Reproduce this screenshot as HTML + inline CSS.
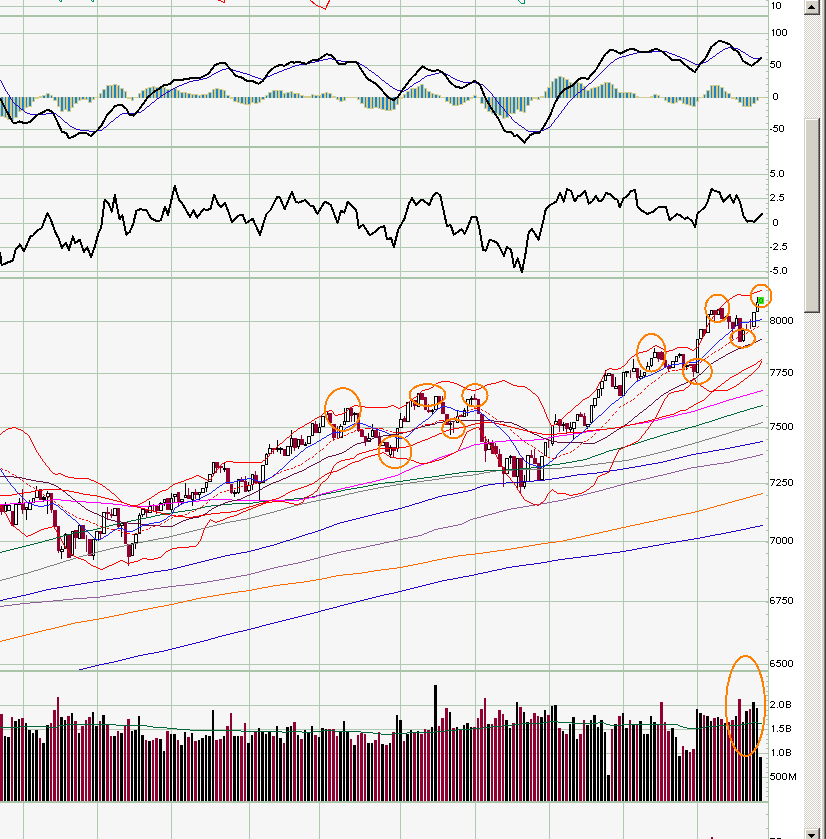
<!DOCTYPE html><html><head><meta charset="utf-8"><title>chart</title><style>html,body{margin:0;padding:0;background:#fff}body{width:826px;height:839px;overflow:hidden;font-family:"Liberation Sans",sans-serif}svg{display:block}text{font-family:"Liberation Sans",sans-serif;font-size:11px;fill:#000}</style></head><body>
<svg width="826" height="839" viewBox="0 0 826 839">
<defs><pattern id="dz" width="2" height="2" patternUnits="userSpaceOnUse"><rect width="2" height="2" fill="#fff"/><rect x="0" y="0" width="1" height="1" fill="#d4d0c8"/><rect x="1" y="1" width="1" height="1" fill="#d4d0c8"/></pattern>
<clipPath id="cp"><rect x="0" y="0" width="768" height="839"/></clipPath><clipPath id="cpp"><rect x="0" y="279" width="776" height="391"/></clipPath></defs>
<rect width="826" height="839" fill="#fff"/>
<rect x="0" y="0" width="768" height="839" fill="#f6f6f6"/>
<g shape-rendering="crispEdges">
<rect x="23" y="0" width="1" height="839" fill="#b1c8b1"/>
<rect x="97" y="0" width="1" height="839" fill="#b1c8b1"/>
<rect x="171" y="0" width="1" height="839" fill="#b1c8b1"/>
<rect x="249" y="0" width="1" height="839" fill="#b1c8b1"/>
<rect x="319" y="0" width="1" height="839" fill="#b1c8b1"/>
<rect x="400" y="0" width="1" height="839" fill="#b1c8b1"/>
<rect x="475" y="0" width="1" height="839" fill="#b1c8b1"/>
<rect x="549" y="0" width="1" height="839" fill="#b1c8b1"/>
<rect x="623" y="0" width="1" height="839" fill="#b1c8b1"/>
<rect x="697" y="0" width="1" height="839" fill="#b1c8b1"/>
<rect x="0" y="6" width="768" height="1" fill="#b1c8b1"/>
<rect x="0" y="33" width="768" height="1" fill="#b1c8b1"/>
<rect x="0" y="65" width="768" height="1" fill="#b1c8b1"/>
<rect x="0" y="129" width="768" height="1" fill="#b1c8b1"/>
<rect x="0" y="174" width="768" height="1" fill="#b1c8b1"/>
<rect x="0" y="198" width="768" height="1" fill="#b1c8b1"/>
<rect x="0" y="223" width="768" height="1" fill="#b1c8b1"/>
<rect x="0" y="247" width="768" height="1" fill="#b1c8b1"/>
<rect x="0" y="271" width="768" height="1" fill="#b1c8b1"/>
<rect x="0" y="321" width="768" height="1" fill="#b1c8b1"/>
<rect x="0" y="373" width="768" height="1" fill="#b1c8b1"/>
<rect x="0" y="427" width="768" height="1" fill="#b1c8b1"/>
<rect x="0" y="483" width="768" height="1" fill="#b1c8b1"/>
<rect x="0" y="541" width="768" height="1" fill="#b1c8b1"/>
<rect x="0" y="601" width="768" height="1" fill="#b1c8b1"/>
<rect x="0" y="664" width="768" height="1" fill="#b1c8b1"/>
<rect x="0" y="705" width="768" height="1" fill="#b1c8b1"/>
<rect x="0" y="729" width="768" height="1" fill="#b1c8b1"/>
<rect x="0" y="753" width="768" height="1" fill="#b1c8b1"/>
<rect x="0" y="777" width="768" height="1" fill="#b1c8b1"/>
<rect x="0" y="15" width="768" height="2" fill="#a9c4a9"/>
<rect x="0" y="146" width="768" height="2" fill="#a9c4a9"/>
<rect x="0" y="277" width="768" height="2" fill="#a9c4a9"/>
<rect x="0" y="670" width="768" height="2" fill="#a9c4a9"/>
<rect x="0" y="801" width="768" height="2" fill="#a9c4a9"/>
<rect x="0" y="97" width="768" height="1" fill="#b1c8b1"/>
<rect x="768" y="0" width="1" height="839" fill="#a9c4a9"/>
<rect x="766" y="39" width="2" height="1" fill="#a9c4a9"/>
<rect x="766" y="46" width="2" height="1" fill="#a9c4a9"/>
<rect x="766" y="52" width="2" height="1" fill="#a9c4a9"/>
<rect x="766" y="59" width="2" height="1" fill="#a9c4a9"/>
<rect x="766" y="65" width="2" height="1" fill="#a9c4a9"/>
<rect x="766" y="71" width="2" height="1" fill="#a9c4a9"/>
<rect x="766" y="78" width="2" height="1" fill="#a9c4a9"/>
<rect x="766" y="84" width="2" height="1" fill="#a9c4a9"/>
<rect x="766" y="91" width="2" height="1" fill="#a9c4a9"/>
<rect x="766" y="97" width="2" height="1" fill="#a9c4a9"/>
<rect x="766" y="103" width="2" height="1" fill="#a9c4a9"/>
<rect x="766" y="110" width="2" height="1" fill="#a9c4a9"/>
<rect x="766" y="116" width="2" height="1" fill="#a9c4a9"/>
<rect x="766" y="123" width="2" height="1" fill="#a9c4a9"/>
<rect x="766" y="129" width="2" height="1" fill="#a9c4a9"/>
<rect x="766" y="135" width="2" height="1" fill="#a9c4a9"/>
<rect x="766" y="142" width="2" height="1" fill="#a9c4a9"/>
<rect x="766" y="159" width="2" height="1" fill="#a9c4a9"/>
<rect x="766" y="164" width="2" height="1" fill="#a9c4a9"/>
<rect x="766" y="169" width="2" height="1" fill="#a9c4a9"/>
<rect x="766" y="174" width="2" height="1" fill="#a9c4a9"/>
<rect x="766" y="179" width="2" height="1" fill="#a9c4a9"/>
<rect x="766" y="184" width="2" height="1" fill="#a9c4a9"/>
<rect x="766" y="189" width="2" height="1" fill="#a9c4a9"/>
<rect x="766" y="194" width="2" height="1" fill="#a9c4a9"/>
<rect x="766" y="198" width="2" height="1" fill="#a9c4a9"/>
<rect x="766" y="203" width="2" height="1" fill="#a9c4a9"/>
<rect x="766" y="208" width="2" height="1" fill="#a9c4a9"/>
<rect x="766" y="213" width="2" height="1" fill="#a9c4a9"/>
<rect x="766" y="218" width="2" height="1" fill="#a9c4a9"/>
<rect x="766" y="223" width="2" height="1" fill="#a9c4a9"/>
<rect x="766" y="228" width="2" height="1" fill="#a9c4a9"/>
<rect x="766" y="233" width="2" height="1" fill="#a9c4a9"/>
<rect x="766" y="237" width="2" height="1" fill="#a9c4a9"/>
<rect x="766" y="242" width="2" height="1" fill="#a9c4a9"/>
<rect x="766" y="247" width="2" height="1" fill="#a9c4a9"/>
<rect x="766" y="252" width="2" height="1" fill="#a9c4a9"/>
<rect x="766" y="257" width="2" height="1" fill="#a9c4a9"/>
<rect x="766" y="262" width="2" height="1" fill="#a9c4a9"/>
<rect x="766" y="267" width="2" height="1" fill="#a9c4a9"/>
<rect x="766" y="272" width="2" height="1" fill="#a9c4a9"/>
<rect x="766" y="664" width="2" height="1" fill="#a9c4a9"/>
<rect x="766" y="651" width="2" height="1" fill="#a9c4a9"/>
<rect x="766" y="639" width="2" height="1" fill="#a9c4a9"/>
<rect x="766" y="626" width="2" height="1" fill="#a9c4a9"/>
<rect x="766" y="614" width="2" height="1" fill="#a9c4a9"/>
<rect x="766" y="602" width="2" height="1" fill="#a9c4a9"/>
<rect x="766" y="589" width="2" height="1" fill="#a9c4a9"/>
<rect x="766" y="577" width="2" height="1" fill="#a9c4a9"/>
<rect x="766" y="565" width="2" height="1" fill="#a9c4a9"/>
<rect x="766" y="553" width="2" height="1" fill="#a9c4a9"/>
<rect x="766" y="542" width="2" height="1" fill="#a9c4a9"/>
<rect x="766" y="530" width="2" height="1" fill="#a9c4a9"/>
<rect x="766" y="518" width="2" height="1" fill="#a9c4a9"/>
<rect x="766" y="507" width="2" height="1" fill="#a9c4a9"/>
<rect x="766" y="495" width="2" height="1" fill="#a9c4a9"/>
<rect x="766" y="484" width="2" height="1" fill="#a9c4a9"/>
<rect x="766" y="472" width="2" height="1" fill="#a9c4a9"/>
<rect x="766" y="461" width="2" height="1" fill="#a9c4a9"/>
<rect x="766" y="450" width="2" height="1" fill="#a9c4a9"/>
<rect x="766" y="439" width="2" height="1" fill="#a9c4a9"/>
<rect x="766" y="428" width="2" height="1" fill="#a9c4a9"/>
<rect x="766" y="417" width="2" height="1" fill="#a9c4a9"/>
<rect x="766" y="406" width="2" height="1" fill="#a9c4a9"/>
<rect x="766" y="395" width="2" height="1" fill="#a9c4a9"/>
<rect x="766" y="384" width="2" height="1" fill="#a9c4a9"/>
<rect x="766" y="373" width="2" height="1" fill="#a9c4a9"/>
<rect x="766" y="363" width="2" height="1" fill="#a9c4a9"/>
<rect x="766" y="352" width="2" height="1" fill="#a9c4a9"/>
<rect x="766" y="342" width="2" height="1" fill="#a9c4a9"/>
<rect x="766" y="331" width="2" height="1" fill="#a9c4a9"/>
<rect x="766" y="321" width="2" height="1" fill="#a9c4a9"/>
<rect x="766" y="311" width="2" height="1" fill="#a9c4a9"/>
<rect x="766" y="300" width="2" height="1" fill="#a9c4a9"/>
<rect x="766" y="290" width="2" height="1" fill="#a9c4a9"/>
<rect x="766" y="796" width="2" height="1" fill="#a9c4a9"/>
<rect x="766" y="791" width="2" height="1" fill="#a9c4a9"/>
<rect x="766" y="787" width="2" height="1" fill="#a9c4a9"/>
<rect x="766" y="782" width="2" height="1" fill="#a9c4a9"/>
<rect x="766" y="777" width="2" height="1" fill="#a9c4a9"/>
<rect x="766" y="772" width="2" height="1" fill="#a9c4a9"/>
<rect x="766" y="767" width="2" height="1" fill="#a9c4a9"/>
<rect x="766" y="763" width="2" height="1" fill="#a9c4a9"/>
<rect x="766" y="758" width="2" height="1" fill="#a9c4a9"/>
<rect x="766" y="753" width="2" height="1" fill="#a9c4a9"/>
<rect x="766" y="748" width="2" height="1" fill="#a9c4a9"/>
<rect x="766" y="743" width="2" height="1" fill="#a9c4a9"/>
<rect x="766" y="739" width="2" height="1" fill="#a9c4a9"/>
<rect x="766" y="734" width="2" height="1" fill="#a9c4a9"/>
<rect x="766" y="729" width="2" height="1" fill="#a9c4a9"/>
<rect x="766" y="724" width="2" height="1" fill="#a9c4a9"/>
<rect x="766" y="719" width="2" height="1" fill="#a9c4a9"/>
<rect x="766" y="715" width="2" height="1" fill="#a9c4a9"/>
<rect x="766" y="710" width="2" height="1" fill="#a9c4a9"/>
<rect x="766" y="705" width="2" height="1" fill="#a9c4a9"/>
<rect x="766" y="700" width="2" height="1" fill="#a9c4a9"/>
<rect x="766" y="695" width="2" height="1" fill="#a9c4a9"/>
<rect x="766" y="691" width="2" height="1" fill="#a9c4a9"/>
<rect x="766" y="686" width="2" height="1" fill="#a9c4a9"/>
<rect x="766" y="681" width="2" height="1" fill="#a9c4a9"/>
<rect x="766" y="676" width="2" height="1" fill="#a9c4a9"/>
<rect x="766" y="814" width="2" height="1" fill="#a9c4a9"/>
<rect x="766" y="828" width="2" height="1" fill="#a9c4a9"/>
<rect x="766" y="0" width="2" height="1" fill="#a9c4a9"/>
</g>
<g fill="none" stroke-width="1" shape-rendering="crispEdges">
<polyline points="59,0 61,2 62,0" stroke="#009060"/><polyline points="91,0 93,2 94,0" stroke="#009060"/>
<polyline points="218,0 224.5,2.5 225,0" stroke="#f00"/>
<polyline points="310,0 316,5 325.4,9 329.7,0" stroke="#f00"/>
<polyline points="518,0 521,3 524,4 525,0" stroke="#009060"/>
</g>
<g shape-rendering="crispEdges">
<rect x="0" y="97" width="4" height="20" fill="#d3cd8f"/>
<rect x="1" y="97" width="2" height="19" fill="#1e84cc"/>
<rect x="4" y="97" width="3" height="21" fill="#d3cd8f"/>
<rect x="5" y="97" width="1" height="20" fill="#1e84cc"/>
<rect x="7" y="97" width="4" height="23" fill="#d3cd8f"/>
<rect x="8" y="97" width="2" height="22" fill="#1e84cc"/>
<rect x="11" y="97" width="3" height="24" fill="#d3cd8f"/>
<rect x="12" y="97" width="1" height="23" fill="#1e84cc"/>
<rect x="14" y="97" width="4" height="21" fill="#d3cd8f"/>
<rect x="15" y="97" width="2" height="20" fill="#1e84cc"/>
<rect x="18" y="97" width="3" height="15" fill="#d3cd8f"/>
<rect x="19" y="97" width="1" height="14" fill="#1e84cc"/>
<rect x="21" y="97" width="4" height="14" fill="#d3cd8f"/>
<rect x="22" y="97" width="2" height="13" fill="#1e84cc"/>
<rect x="25" y="97" width="3" height="11" fill="#d3cd8f"/>
<rect x="26" y="97" width="1" height="10" fill="#1e84cc"/>
<rect x="28" y="97" width="4" height="10" fill="#d3cd8f"/>
<rect x="29" y="97" width="2" height="9" fill="#1e84cc"/>
<rect x="32" y="97" width="3" height="5" fill="#d3cd8f"/>
<rect x="33" y="97" width="1" height="4" fill="#1e84cc"/>
<rect x="35" y="97" width="4" height="2" fill="#d3cd8f"/>
<rect x="39" y="96" width="3" height="2" fill="#d3cd8f"/>
<rect x="42" y="95" width="4" height="3" fill="#d3cd8f"/>
<rect x="43" y="96" width="2" height="2" fill="#1e84cc"/>
<rect x="46" y="93" width="4" height="5" fill="#d3cd8f"/>
<rect x="47" y="94" width="2" height="4" fill="#1e84cc"/>
<rect x="50" y="95" width="3" height="3" fill="#d3cd8f"/>
<rect x="51" y="96" width="1" height="2" fill="#1e84cc"/>
<rect x="53" y="97" width="4" height="4" fill="#d3cd8f"/>
<rect x="54" y="97" width="2" height="3" fill="#1e84cc"/>
<rect x="57" y="97" width="3" height="10" fill="#d3cd8f"/>
<rect x="58" y="97" width="1" height="9" fill="#1e84cc"/>
<rect x="60" y="97" width="4" height="15" fill="#d3cd8f"/>
<rect x="61" y="97" width="2" height="14" fill="#1e84cc"/>
<rect x="64" y="97" width="3" height="13" fill="#d3cd8f"/>
<rect x="65" y="97" width="1" height="12" fill="#1e84cc"/>
<rect x="67" y="97" width="4" height="15" fill="#d3cd8f"/>
<rect x="68" y="97" width="2" height="14" fill="#1e84cc"/>
<rect x="71" y="97" width="3" height="11" fill="#d3cd8f"/>
<rect x="72" y="97" width="1" height="10" fill="#1e84cc"/>
<rect x="74" y="97" width="4" height="7" fill="#d3cd8f"/>
<rect x="75" y="97" width="2" height="6" fill="#1e84cc"/>
<rect x="78" y="97" width="3" height="4" fill="#d3cd8f"/>
<rect x="79" y="97" width="1" height="3" fill="#1e84cc"/>
<rect x="81" y="97" width="4" height="3" fill="#d3cd8f"/>
<rect x="82" y="97" width="2" height="2" fill="#1e84cc"/>
<rect x="85" y="97" width="3" height="3" fill="#d3cd8f"/>
<rect x="86" y="97" width="1" height="2" fill="#1e84cc"/>
<rect x="88" y="97" width="4" height="6" fill="#d3cd8f"/>
<rect x="89" y="97" width="2" height="5" fill="#1e84cc"/>
<rect x="92" y="97" width="3" height="3" fill="#d3cd8f"/>
<rect x="93" y="97" width="1" height="2" fill="#1e84cc"/>
<rect x="95" y="97" width="4" height="1" fill="#d3cd8f"/>
<rect x="99" y="93" width="3" height="5" fill="#d3cd8f"/>
<rect x="100" y="94" width="1" height="4" fill="#1e84cc"/>
<rect x="102" y="89" width="4" height="9" fill="#d3cd8f"/>
<rect x="103" y="90" width="2" height="8" fill="#1e84cc"/>
<rect x="106" y="85" width="4" height="13" fill="#d3cd8f"/>
<rect x="107" y="86" width="2" height="12" fill="#1e84cc"/>
<rect x="110" y="85" width="3" height="13" fill="#d3cd8f"/>
<rect x="111" y="86" width="1" height="12" fill="#1e84cc"/>
<rect x="113" y="84" width="4" height="14" fill="#d3cd8f"/>
<rect x="114" y="85" width="2" height="13" fill="#1e84cc"/>
<rect x="117" y="85" width="3" height="13" fill="#d3cd8f"/>
<rect x="118" y="86" width="1" height="12" fill="#1e84cc"/>
<rect x="120" y="88" width="4" height="10" fill="#d3cd8f"/>
<rect x="121" y="89" width="2" height="9" fill="#1e84cc"/>
<rect x="124" y="91" width="3" height="7" fill="#d3cd8f"/>
<rect x="125" y="92" width="1" height="6" fill="#1e84cc"/>
<rect x="127" y="97" width="4" height="2" fill="#d3cd8f"/>
<rect x="131" y="97" width="3" height="4" fill="#d3cd8f"/>
<rect x="132" y="97" width="1" height="3" fill="#1e84cc"/>
<rect x="134" y="97" width="4" height="1" fill="#d3cd8f"/>
<rect x="138" y="93" width="3" height="5" fill="#d3cd8f"/>
<rect x="139" y="94" width="1" height="4" fill="#1e84cc"/>
<rect x="141" y="90" width="4" height="8" fill="#d3cd8f"/>
<rect x="142" y="91" width="2" height="7" fill="#1e84cc"/>
<rect x="145" y="88" width="3" height="10" fill="#d3cd8f"/>
<rect x="146" y="89" width="1" height="9" fill="#1e84cc"/>
<rect x="148" y="87" width="4" height="11" fill="#d3cd8f"/>
<rect x="149" y="88" width="2" height="10" fill="#1e84cc"/>
<rect x="152" y="86" width="3" height="12" fill="#d3cd8f"/>
<rect x="153" y="87" width="1" height="11" fill="#1e84cc"/>
<rect x="155" y="87" width="4" height="11" fill="#d3cd8f"/>
<rect x="156" y="88" width="2" height="10" fill="#1e84cc"/>
<rect x="159" y="87" width="4" height="11" fill="#d3cd8f"/>
<rect x="160" y="88" width="2" height="10" fill="#1e84cc"/>
<rect x="163" y="87" width="3" height="11" fill="#d3cd8f"/>
<rect x="164" y="88" width="1" height="10" fill="#1e84cc"/>
<rect x="166" y="89" width="4" height="9" fill="#d3cd8f"/>
<rect x="167" y="90" width="2" height="8" fill="#1e84cc"/>
<rect x="170" y="89" width="3" height="9" fill="#d3cd8f"/>
<rect x="171" y="90" width="1" height="8" fill="#1e84cc"/>
<rect x="173" y="88" width="4" height="10" fill="#d3cd8f"/>
<rect x="174" y="89" width="2" height="9" fill="#1e84cc"/>
<rect x="177" y="90" width="3" height="8" fill="#d3cd8f"/>
<rect x="178" y="91" width="1" height="7" fill="#1e84cc"/>
<rect x="180" y="92" width="4" height="6" fill="#d3cd8f"/>
<rect x="181" y="93" width="2" height="5" fill="#1e84cc"/>
<rect x="184" y="92" width="3" height="6" fill="#d3cd8f"/>
<rect x="185" y="93" width="1" height="5" fill="#1e84cc"/>
<rect x="187" y="93" width="4" height="5" fill="#d3cd8f"/>
<rect x="188" y="94" width="2" height="4" fill="#1e84cc"/>
<rect x="191" y="94" width="3" height="4" fill="#d3cd8f"/>
<rect x="192" y="95" width="1" height="3" fill="#1e84cc"/>
<rect x="194" y="94" width="4" height="4" fill="#d3cd8f"/>
<rect x="195" y="95" width="2" height="3" fill="#1e84cc"/>
<rect x="198" y="95" width="3" height="3" fill="#d3cd8f"/>
<rect x="199" y="96" width="1" height="2" fill="#1e84cc"/>
<rect x="201" y="94" width="4" height="4" fill="#d3cd8f"/>
<rect x="202" y="95" width="2" height="3" fill="#1e84cc"/>
<rect x="205" y="94" width="3" height="4" fill="#d3cd8f"/>
<rect x="206" y="95" width="1" height="3" fill="#1e84cc"/>
<rect x="208" y="92" width="4" height="6" fill="#d3cd8f"/>
<rect x="209" y="93" width="2" height="5" fill="#1e84cc"/>
<rect x="212" y="89" width="3" height="9" fill="#d3cd8f"/>
<rect x="213" y="90" width="1" height="8" fill="#1e84cc"/>
<rect x="215" y="88" width="4" height="10" fill="#d3cd8f"/>
<rect x="216" y="89" width="2" height="9" fill="#1e84cc"/>
<rect x="219" y="89" width="4" height="9" fill="#d3cd8f"/>
<rect x="220" y="90" width="2" height="8" fill="#1e84cc"/>
<rect x="223" y="90" width="3" height="8" fill="#d3cd8f"/>
<rect x="224" y="91" width="1" height="7" fill="#1e84cc"/>
<rect x="226" y="95" width="4" height="3" fill="#d3cd8f"/>
<rect x="227" y="96" width="2" height="2" fill="#1e84cc"/>
<rect x="230" y="97" width="3" height="2" fill="#d3cd8f"/>
<rect x="233" y="97" width="4" height="5" fill="#d3cd8f"/>
<rect x="234" y="97" width="2" height="4" fill="#1e84cc"/>
<rect x="237" y="97" width="3" height="6" fill="#d3cd8f"/>
<rect x="238" y="97" width="1" height="5" fill="#1e84cc"/>
<rect x="240" y="97" width="4" height="7" fill="#d3cd8f"/>
<rect x="241" y="97" width="2" height="6" fill="#1e84cc"/>
<rect x="244" y="97" width="3" height="8" fill="#d3cd8f"/>
<rect x="245" y="97" width="1" height="7" fill="#1e84cc"/>
<rect x="247" y="97" width="4" height="8" fill="#d3cd8f"/>
<rect x="248" y="97" width="2" height="7" fill="#1e84cc"/>
<rect x="251" y="97" width="3" height="6" fill="#d3cd8f"/>
<rect x="252" y="97" width="1" height="5" fill="#1e84cc"/>
<rect x="254" y="97" width="4" height="7" fill="#d3cd8f"/>
<rect x="255" y="97" width="2" height="6" fill="#1e84cc"/>
<rect x="258" y="97" width="3" height="6" fill="#d3cd8f"/>
<rect x="259" y="97" width="1" height="5" fill="#1e84cc"/>
<rect x="261" y="97" width="4" height="3" fill="#d3cd8f"/>
<rect x="262" y="97" width="2" height="2" fill="#1e84cc"/>
<rect x="265" y="95" width="3" height="3" fill="#d3cd8f"/>
<rect x="266" y="96" width="1" height="2" fill="#1e84cc"/>
<rect x="268" y="92" width="4" height="6" fill="#d3cd8f"/>
<rect x="269" y="93" width="2" height="5" fill="#1e84cc"/>
<rect x="272" y="90" width="4" height="8" fill="#d3cd8f"/>
<rect x="273" y="91" width="2" height="7" fill="#1e84cc"/>
<rect x="276" y="90" width="3" height="8" fill="#d3cd8f"/>
<rect x="277" y="91" width="1" height="7" fill="#1e84cc"/>
<rect x="279" y="90" width="4" height="8" fill="#d3cd8f"/>
<rect x="280" y="91" width="2" height="7" fill="#1e84cc"/>
<rect x="283" y="93" width="3" height="5" fill="#d3cd8f"/>
<rect x="284" y="94" width="1" height="4" fill="#1e84cc"/>
<rect x="286" y="92" width="4" height="6" fill="#d3cd8f"/>
<rect x="287" y="93" width="2" height="5" fill="#1e84cc"/>
<rect x="290" y="91" width="3" height="7" fill="#d3cd8f"/>
<rect x="291" y="92" width="1" height="6" fill="#1e84cc"/>
<rect x="293" y="93" width="4" height="5" fill="#d3cd8f"/>
<rect x="294" y="94" width="2" height="4" fill="#1e84cc"/>
<rect x="297" y="93" width="3" height="5" fill="#d3cd8f"/>
<rect x="298" y="94" width="1" height="4" fill="#1e84cc"/>
<rect x="300" y="95" width="4" height="3" fill="#d3cd8f"/>
<rect x="301" y="96" width="2" height="2" fill="#1e84cc"/>
<rect x="304" y="96" width="3" height="2" fill="#d3cd8f"/>
<rect x="307" y="96" width="4" height="2" fill="#d3cd8f"/>
<rect x="311" y="94" width="3" height="4" fill="#d3cd8f"/>
<rect x="312" y="95" width="1" height="3" fill="#1e84cc"/>
<rect x="314" y="95" width="4" height="3" fill="#d3cd8f"/>
<rect x="315" y="96" width="2" height="2" fill="#1e84cc"/>
<rect x="318" y="95" width="3" height="3" fill="#d3cd8f"/>
<rect x="319" y="96" width="1" height="2" fill="#1e84cc"/>
<rect x="321" y="93" width="4" height="5" fill="#d3cd8f"/>
<rect x="322" y="94" width="2" height="4" fill="#1e84cc"/>
<rect x="325" y="92" width="3" height="6" fill="#d3cd8f"/>
<rect x="326" y="93" width="1" height="5" fill="#1e84cc"/>
<rect x="328" y="93" width="4" height="5" fill="#d3cd8f"/>
<rect x="329" y="94" width="2" height="4" fill="#1e84cc"/>
<rect x="332" y="96" width="4" height="2" fill="#d3cd8f"/>
<rect x="336" y="97" width="3" height="3" fill="#d3cd8f"/>
<rect x="337" y="97" width="1" height="2" fill="#1e84cc"/>
<rect x="339" y="97" width="4" height="5" fill="#d3cd8f"/>
<rect x="340" y="97" width="2" height="4" fill="#1e84cc"/>
<rect x="343" y="97" width="3" height="4" fill="#d3cd8f"/>
<rect x="344" y="97" width="1" height="3" fill="#1e84cc"/>
<rect x="346" y="97" width="4" height="1" fill="#d3cd8f"/>
<rect x="350" y="97" width="3" height="1" fill="#d3cd8f"/>
<rect x="353" y="97" width="4" height="1" fill="#d3cd8f"/>
<rect x="357" y="97" width="3" height="3" fill="#d3cd8f"/>
<rect x="358" y="97" width="1" height="2" fill="#1e84cc"/>
<rect x="360" y="97" width="4" height="7" fill="#d3cd8f"/>
<rect x="361" y="97" width="2" height="6" fill="#1e84cc"/>
<rect x="364" y="97" width="3" height="11" fill="#d3cd8f"/>
<rect x="365" y="97" width="1" height="10" fill="#1e84cc"/>
<rect x="367" y="97" width="4" height="12" fill="#d3cd8f"/>
<rect x="368" y="97" width="2" height="11" fill="#1e84cc"/>
<rect x="371" y="97" width="3" height="12" fill="#d3cd8f"/>
<rect x="372" y="97" width="1" height="11" fill="#1e84cc"/>
<rect x="374" y="97" width="4" height="11" fill="#d3cd8f"/>
<rect x="375" y="97" width="2" height="10" fill="#1e84cc"/>
<rect x="378" y="97" width="3" height="12" fill="#d3cd8f"/>
<rect x="379" y="97" width="1" height="11" fill="#1e84cc"/>
<rect x="381" y="97" width="4" height="13" fill="#d3cd8f"/>
<rect x="382" y="97" width="2" height="12" fill="#1e84cc"/>
<rect x="385" y="97" width="4" height="14" fill="#d3cd8f"/>
<rect x="386" y="97" width="2" height="13" fill="#1e84cc"/>
<rect x="389" y="97" width="3" height="14" fill="#d3cd8f"/>
<rect x="390" y="97" width="1" height="13" fill="#1e84cc"/>
<rect x="392" y="97" width="4" height="13" fill="#d3cd8f"/>
<rect x="393" y="97" width="2" height="12" fill="#1e84cc"/>
<rect x="396" y="97" width="3" height="8" fill="#d3cd8f"/>
<rect x="397" y="97" width="1" height="7" fill="#1e84cc"/>
<rect x="399" y="97" width="4" height="2" fill="#d3cd8f"/>
<rect x="403" y="94" width="3" height="4" fill="#d3cd8f"/>
<rect x="404" y="95" width="1" height="3" fill="#1e84cc"/>
<rect x="406" y="91" width="4" height="7" fill="#d3cd8f"/>
<rect x="407" y="92" width="2" height="6" fill="#1e84cc"/>
<rect x="410" y="88" width="3" height="10" fill="#d3cd8f"/>
<rect x="411" y="89" width="1" height="9" fill="#1e84cc"/>
<rect x="413" y="88" width="4" height="10" fill="#d3cd8f"/>
<rect x="414" y="89" width="2" height="9" fill="#1e84cc"/>
<rect x="417" y="86" width="3" height="12" fill="#d3cd8f"/>
<rect x="418" y="87" width="1" height="11" fill="#1e84cc"/>
<rect x="420" y="84" width="4" height="14" fill="#d3cd8f"/>
<rect x="421" y="85" width="2" height="13" fill="#1e84cc"/>
<rect x="424" y="88" width="3" height="10" fill="#d3cd8f"/>
<rect x="425" y="89" width="1" height="9" fill="#1e84cc"/>
<rect x="427" y="91" width="4" height="7" fill="#d3cd8f"/>
<rect x="428" y="92" width="2" height="6" fill="#1e84cc"/>
<rect x="431" y="93" width="3" height="5" fill="#d3cd8f"/>
<rect x="432" y="94" width="1" height="4" fill="#1e84cc"/>
<rect x="434" y="94" width="4" height="4" fill="#d3cd8f"/>
<rect x="435" y="95" width="2" height="3" fill="#1e84cc"/>
<rect x="438" y="95" width="3" height="3" fill="#d3cd8f"/>
<rect x="439" y="96" width="1" height="2" fill="#1e84cc"/>
<rect x="441" y="97" width="4" height="1" fill="#d3cd8f"/>
<rect x="445" y="97" width="4" height="5" fill="#d3cd8f"/>
<rect x="446" y="97" width="2" height="4" fill="#1e84cc"/>
<rect x="449" y="97" width="3" height="7" fill="#d3cd8f"/>
<rect x="450" y="97" width="1" height="6" fill="#1e84cc"/>
<rect x="452" y="97" width="4" height="9" fill="#d3cd8f"/>
<rect x="453" y="97" width="2" height="8" fill="#1e84cc"/>
<rect x="456" y="97" width="3" height="9" fill="#d3cd8f"/>
<rect x="457" y="97" width="1" height="8" fill="#1e84cc"/>
<rect x="459" y="97" width="4" height="8" fill="#d3cd8f"/>
<rect x="460" y="97" width="2" height="7" fill="#1e84cc"/>
<rect x="463" y="97" width="3" height="6" fill="#d3cd8f"/>
<rect x="464" y="97" width="1" height="5" fill="#1e84cc"/>
<rect x="466" y="97" width="4" height="4" fill="#d3cd8f"/>
<rect x="467" y="97" width="2" height="3" fill="#1e84cc"/>
<rect x="470" y="97" width="3" height="2" fill="#d3cd8f"/>
<rect x="473" y="95" width="4" height="3" fill="#d3cd8f"/>
<rect x="474" y="96" width="2" height="2" fill="#1e84cc"/>
<rect x="477" y="97" width="3" height="1" fill="#d3cd8f"/>
<rect x="480" y="97" width="4" height="7" fill="#d3cd8f"/>
<rect x="481" y="97" width="2" height="6" fill="#1e84cc"/>
<rect x="484" y="97" width="3" height="12" fill="#d3cd8f"/>
<rect x="485" y="97" width="1" height="11" fill="#1e84cc"/>
<rect x="487" y="97" width="4" height="15" fill="#d3cd8f"/>
<rect x="488" y="97" width="2" height="14" fill="#1e84cc"/>
<rect x="491" y="97" width="3" height="17" fill="#d3cd8f"/>
<rect x="492" y="97" width="1" height="16" fill="#1e84cc"/>
<rect x="494" y="97" width="4" height="17" fill="#d3cd8f"/>
<rect x="495" y="97" width="2" height="16" fill="#1e84cc"/>
<rect x="498" y="97" width="4" height="19" fill="#d3cd8f"/>
<rect x="499" y="97" width="2" height="18" fill="#1e84cc"/>
<rect x="502" y="97" width="3" height="22" fill="#d3cd8f"/>
<rect x="503" y="97" width="1" height="21" fill="#1e84cc"/>
<rect x="505" y="97" width="4" height="21" fill="#d3cd8f"/>
<rect x="506" y="97" width="2" height="20" fill="#1e84cc"/>
<rect x="509" y="97" width="3" height="17" fill="#d3cd8f"/>
<rect x="510" y="97" width="1" height="16" fill="#1e84cc"/>
<rect x="512" y="97" width="4" height="17" fill="#d3cd8f"/>
<rect x="513" y="97" width="2" height="16" fill="#1e84cc"/>
<rect x="516" y="97" width="3" height="13" fill="#d3cd8f"/>
<rect x="517" y="97" width="1" height="12" fill="#1e84cc"/>
<rect x="519" y="97" width="4" height="15" fill="#d3cd8f"/>
<rect x="520" y="97" width="2" height="14" fill="#1e84cc"/>
<rect x="523" y="97" width="3" height="16" fill="#d3cd8f"/>
<rect x="524" y="97" width="1" height="15" fill="#1e84cc"/>
<rect x="526" y="97" width="4" height="9" fill="#d3cd8f"/>
<rect x="527" y="97" width="2" height="8" fill="#1e84cc"/>
<rect x="530" y="97" width="3" height="4" fill="#d3cd8f"/>
<rect x="531" y="97" width="1" height="3" fill="#1e84cc"/>
<rect x="533" y="97" width="4" height="2" fill="#d3cd8f"/>
<rect x="537" y="97" width="3" height="3" fill="#d3cd8f"/>
<rect x="538" y="97" width="1" height="2" fill="#1e84cc"/>
<rect x="540" y="96" width="4" height="2" fill="#d3cd8f"/>
<rect x="544" y="91" width="3" height="7" fill="#d3cd8f"/>
<rect x="545" y="92" width="1" height="6" fill="#1e84cc"/>
<rect x="547" y="87" width="4" height="11" fill="#d3cd8f"/>
<rect x="548" y="88" width="2" height="10" fill="#1e84cc"/>
<rect x="551" y="81" width="3" height="17" fill="#d3cd8f"/>
<rect x="552" y="82" width="1" height="16" fill="#1e84cc"/>
<rect x="554" y="78" width="4" height="20" fill="#d3cd8f"/>
<rect x="555" y="79" width="2" height="19" fill="#1e84cc"/>
<rect x="558" y="76" width="4" height="22" fill="#d3cd8f"/>
<rect x="559" y="77" width="2" height="21" fill="#1e84cc"/>
<rect x="562" y="77" width="3" height="21" fill="#d3cd8f"/>
<rect x="563" y="78" width="1" height="20" fill="#1e84cc"/>
<rect x="565" y="79" width="4" height="19" fill="#d3cd8f"/>
<rect x="566" y="80" width="2" height="18" fill="#1e84cc"/>
<rect x="569" y="82" width="3" height="16" fill="#d3cd8f"/>
<rect x="570" y="83" width="1" height="15" fill="#1e84cc"/>
<rect x="572" y="83" width="4" height="15" fill="#d3cd8f"/>
<rect x="573" y="84" width="2" height="14" fill="#1e84cc"/>
<rect x="576" y="82" width="3" height="16" fill="#d3cd8f"/>
<rect x="577" y="83" width="1" height="15" fill="#1e84cc"/>
<rect x="579" y="83" width="4" height="15" fill="#d3cd8f"/>
<rect x="580" y="84" width="2" height="14" fill="#1e84cc"/>
<rect x="583" y="86" width="3" height="12" fill="#d3cd8f"/>
<rect x="584" y="87" width="1" height="11" fill="#1e84cc"/>
<rect x="586" y="90" width="4" height="8" fill="#d3cd8f"/>
<rect x="587" y="91" width="2" height="7" fill="#1e84cc"/>
<rect x="590" y="88" width="3" height="10" fill="#d3cd8f"/>
<rect x="591" y="89" width="1" height="9" fill="#1e84cc"/>
<rect x="593" y="87" width="4" height="11" fill="#d3cd8f"/>
<rect x="594" y="88" width="2" height="10" fill="#1e84cc"/>
<rect x="597" y="86" width="3" height="12" fill="#d3cd8f"/>
<rect x="598" y="87" width="1" height="11" fill="#1e84cc"/>
<rect x="600" y="84" width="4" height="14" fill="#d3cd8f"/>
<rect x="601" y="85" width="2" height="13" fill="#1e84cc"/>
<rect x="604" y="82" width="3" height="16" fill="#d3cd8f"/>
<rect x="605" y="83" width="1" height="15" fill="#1e84cc"/>
<rect x="607" y="82" width="4" height="16" fill="#d3cd8f"/>
<rect x="608" y="83" width="2" height="15" fill="#1e84cc"/>
<rect x="611" y="84" width="3" height="14" fill="#d3cd8f"/>
<rect x="612" y="85" width="1" height="13" fill="#1e84cc"/>
<rect x="614" y="88" width="4" height="10" fill="#d3cd8f"/>
<rect x="615" y="89" width="2" height="9" fill="#1e84cc"/>
<rect x="618" y="92" width="4" height="6" fill="#d3cd8f"/>
<rect x="619" y="93" width="2" height="5" fill="#1e84cc"/>
<rect x="622" y="92" width="3" height="6" fill="#d3cd8f"/>
<rect x="623" y="93" width="1" height="5" fill="#1e84cc"/>
<rect x="625" y="92" width="4" height="6" fill="#d3cd8f"/>
<rect x="626" y="93" width="2" height="5" fill="#1e84cc"/>
<rect x="629" y="92" width="3" height="6" fill="#d3cd8f"/>
<rect x="630" y="93" width="1" height="5" fill="#1e84cc"/>
<rect x="632" y="93" width="4" height="5" fill="#d3cd8f"/>
<rect x="633" y="94" width="2" height="4" fill="#1e84cc"/>
<rect x="636" y="96" width="3" height="2" fill="#d3cd8f"/>
<rect x="639" y="97" width="4" height="1" fill="#d3cd8f"/>
<rect x="643" y="97" width="3" height="1" fill="#d3cd8f"/>
<rect x="646" y="97" width="4" height="1" fill="#d3cd8f"/>
<rect x="650" y="96" width="3" height="2" fill="#d3cd8f"/>
<rect x="653" y="94" width="4" height="4" fill="#d3cd8f"/>
<rect x="654" y="95" width="2" height="3" fill="#1e84cc"/>
<rect x="657" y="95" width="3" height="3" fill="#d3cd8f"/>
<rect x="658" y="96" width="1" height="2" fill="#1e84cc"/>
<rect x="660" y="97" width="4" height="1" fill="#d3cd8f"/>
<rect x="664" y="97" width="3" height="4" fill="#d3cd8f"/>
<rect x="665" y="97" width="1" height="3" fill="#1e84cc"/>
<rect x="667" y="97" width="4" height="6" fill="#d3cd8f"/>
<rect x="668" y="97" width="2" height="5" fill="#1e84cc"/>
<rect x="671" y="97" width="4" height="7" fill="#d3cd8f"/>
<rect x="672" y="97" width="2" height="6" fill="#1e84cc"/>
<rect x="675" y="97" width="3" height="6" fill="#d3cd8f"/>
<rect x="676" y="97" width="1" height="5" fill="#1e84cc"/>
<rect x="678" y="97" width="4" height="4" fill="#d3cd8f"/>
<rect x="679" y="97" width="2" height="3" fill="#1e84cc"/>
<rect x="682" y="97" width="3" height="7" fill="#d3cd8f"/>
<rect x="683" y="97" width="1" height="6" fill="#1e84cc"/>
<rect x="685" y="97" width="4" height="8" fill="#d3cd8f"/>
<rect x="686" y="97" width="2" height="7" fill="#1e84cc"/>
<rect x="689" y="97" width="3" height="9" fill="#d3cd8f"/>
<rect x="690" y="97" width="1" height="8" fill="#1e84cc"/>
<rect x="692" y="97" width="4" height="10" fill="#d3cd8f"/>
<rect x="693" y="97" width="2" height="9" fill="#1e84cc"/>
<rect x="696" y="97" width="3" height="5" fill="#d3cd8f"/>
<rect x="697" y="97" width="1" height="4" fill="#1e84cc"/>
<rect x="699" y="97" width="4" height="1" fill="#d3cd8f"/>
<rect x="703" y="94" width="3" height="4" fill="#d3cd8f"/>
<rect x="704" y="95" width="1" height="3" fill="#1e84cc"/>
<rect x="706" y="90" width="4" height="8" fill="#d3cd8f"/>
<rect x="707" y="91" width="2" height="7" fill="#1e84cc"/>
<rect x="710" y="85" width="3" height="13" fill="#d3cd8f"/>
<rect x="711" y="86" width="1" height="12" fill="#1e84cc"/>
<rect x="713" y="85" width="4" height="13" fill="#d3cd8f"/>
<rect x="714" y="86" width="2" height="12" fill="#1e84cc"/>
<rect x="717" y="85" width="3" height="13" fill="#d3cd8f"/>
<rect x="718" y="86" width="1" height="12" fill="#1e84cc"/>
<rect x="720" y="87" width="4" height="11" fill="#d3cd8f"/>
<rect x="721" y="88" width="2" height="10" fill="#1e84cc"/>
<rect x="724" y="91" width="3" height="7" fill="#d3cd8f"/>
<rect x="725" y="92" width="1" height="6" fill="#1e84cc"/>
<rect x="727" y="93" width="4" height="5" fill="#d3cd8f"/>
<rect x="728" y="94" width="2" height="4" fill="#1e84cc"/>
<rect x="731" y="97" width="4" height="2" fill="#d3cd8f"/>
<rect x="735" y="97" width="3" height="3" fill="#d3cd8f"/>
<rect x="736" y="97" width="1" height="2" fill="#1e84cc"/>
<rect x="738" y="97" width="4" height="6" fill="#d3cd8f"/>
<rect x="739" y="97" width="2" height="5" fill="#1e84cc"/>
<rect x="742" y="97" width="3" height="10" fill="#d3cd8f"/>
<rect x="743" y="97" width="1" height="9" fill="#1e84cc"/>
<rect x="745" y="97" width="4" height="10" fill="#d3cd8f"/>
<rect x="746" y="97" width="2" height="9" fill="#1e84cc"/>
<rect x="749" y="97" width="3" height="10" fill="#d3cd8f"/>
<rect x="750" y="97" width="1" height="9" fill="#1e84cc"/>
<rect x="752" y="97" width="4" height="7" fill="#d3cd8f"/>
<rect x="753" y="97" width="2" height="6" fill="#1e84cc"/>
<rect x="756" y="97" width="3" height="4" fill="#d3cd8f"/>
<rect x="757" y="97" width="1" height="3" fill="#1e84cc"/>
<rect x="759" y="97" width="4" height="1" fill="#d3cd8f"/>
</g>
<g fill="none" clip-path="url(#cp)" shape-rendering="crispEdges" stroke-linejoin="round">
<path d="M728 47.5h6M725 48.5h3M734 48.5h4M723 49.5h2M738 49.5h2M722 50.5h1M740 50.5h1M652 51.5h15M720 51.5h2M741 51.5h2M637 52.5h15M667 52.5h2M719 52.5h1M743 52.5h2M633 53.5h4M669 53.5h3M717 53.5h2M745 53.5h1M629 54.5h4M672 54.5h3M716 54.5h1M746 54.5h2M626 55.5h3M675 55.5h2M715 55.5h1M748 55.5h1M622 56.5h4M677 56.5h3M713 56.5h2M749 56.5h2M619 57.5h3M680 57.5h2M712 57.5h1M751 57.5h2M328 58.5h4M617 58.5h2M682 58.5h3M710 58.5h2M753 58.5h9M323 59.5h5M332 59.5h4M615 59.5h2M685 59.5h2M709 59.5h1M319 60.5h4M336 60.5h5M614 60.5h1M687 60.5h2M708 60.5h1M315 61.5h4M341 61.5h16M613 61.5h1M689 61.5h2M706 61.5h2M310 62.5h5M357 62.5h2M611 62.5h2M691 62.5h2M703 62.5h3M305 63.5h5M359 63.5h1M610 63.5h1M693 63.5h2M699 63.5h4M299 64.5h6M360 64.5h2M609 64.5h1M695 64.5h4M295 65.5h4M362 65.5h2M608 65.5h1M292 66.5h3M364 66.5h1M607 66.5h1M290 67.5h2M365 67.5h2M606 67.5h1M226 68.5h4M287 68.5h3M367 68.5h1M605 68.5h1M222 69.5h4M230 69.5h3M284 69.5h3M368 69.5h1M604 69.5h1M220 70.5h2M233 70.5h3M282 70.5h2M369 70.5h2M603 70.5h1M218 71.5h2M236 71.5h4M279 71.5h3M371 71.5h1M602 71.5h1M216 72.5h2M240 72.5h3M277 72.5h2M372 72.5h2M439 72.5h4M601 72.5h1M214 73.5h2M243 73.5h4M274 73.5h3M374 73.5h1M435 73.5h4M443 73.5h3M600 73.5h1M212 74.5h2M247 74.5h3M272 74.5h2M375 74.5h1M431 74.5h4M446 74.5h2M599 74.5h1M211 75.5h1M250 75.5h2M270 75.5h2M376 75.5h2M427 75.5h4M448 75.5h2M598 75.5h1M209 76.5h2M252 76.5h3M267 76.5h3M378 76.5h1M425 76.5h2M450 76.5h1M597 76.5h1M207 77.5h2M255 77.5h3M265 77.5h2M379 77.5h1M424 77.5h1M451 77.5h2M596 77.5h1M203 78.5h4M258 78.5h3M263 78.5h2M380 78.5h1M422 78.5h2M453 78.5h2M595 78.5h1M199 79.5h4M261 79.5h2M381 79.5h1M421 79.5h1M455 79.5h2M594 79.5h1M0 80.5h1M193 80.5h6M382 80.5h2M420 80.5h1M457 80.5h3M593 80.5h1M1 81.5h1M189 81.5h4M384 81.5h1M418 81.5h2M460 81.5h3M592 81.5h1M1 82.5h1M187 82.5h2M385 82.5h1M416 82.5h2M463 82.5h13M591 82.5h1M2 83.5h1M184 83.5h3M386 83.5h2M414 83.5h2M476 83.5h4M589 83.5h2M2 84.5h1M182 84.5h2M388 84.5h1M413 84.5h1M480 84.5h3M588 84.5h1M3 85.5h1M179 85.5h3M389 85.5h1M412 85.5h1M483 85.5h1M587 85.5h1M3 86.5h1M177 86.5h2M390 86.5h2M410 86.5h2M484 86.5h1M586 86.5h1M4 87.5h1M175 87.5h2M392 87.5h1M409 87.5h1M485 87.5h1M585 87.5h1M4 88.5h1M173 88.5h2M393 88.5h2M408 88.5h1M486 88.5h1M584 88.5h1M5 89.5h1M171 89.5h2M395 89.5h2M406 89.5h2M487 89.5h1M582 89.5h2M5 90.5h1M170 90.5h1M397 90.5h4M404 90.5h2M488 90.5h1M581 90.5h1M6 91.5h1M168 91.5h2M401 91.5h3M489 91.5h1M580 91.5h1M7 92.5h1M166 92.5h2M490 92.5h1M578 92.5h2M7 93.5h1M165 93.5h1M491 93.5h1M577 93.5h1M8 94.5h1M163 94.5h2M492 94.5h1M576 94.5h1M9 95.5h1M161 95.5h2M492 95.5h1M575 95.5h1M9 96.5h1M160 96.5h1M493 96.5h1M574 96.5h1M10 97.5h1M159 97.5h1M494 97.5h1M573 97.5h1M10 98.5h1M157 98.5h2M495 98.5h1M572 98.5h1M11 99.5h1M156 99.5h1M495 99.5h1M571 99.5h1M12 100.5h1M155 100.5h1M496 100.5h1M570 100.5h1M12 101.5h1M154 101.5h1M497 101.5h1M569 101.5h1M13 102.5h1M152 102.5h2M498 102.5h1M568 102.5h1M14 103.5h1M151 103.5h1M498 103.5h1M567 103.5h1M15 104.5h1M150 104.5h1M499 104.5h1M567 104.5h1M16 105.5h2M149 105.5h1M500 105.5h1M566 105.5h1M18 106.5h1M147 106.5h2M501 106.5h1M565 106.5h1M19 107.5h1M146 107.5h1M502 107.5h1M564 107.5h1M20 108.5h1M145 108.5h1M503 108.5h1M564 108.5h1M21 109.5h2M144 109.5h1M504 109.5h1M563 109.5h1M23 110.5h1M142 110.5h2M504 110.5h1M562 110.5h1M24 111.5h1M141 111.5h1M505 111.5h1M561 111.5h1M25 112.5h2M135 112.5h6M506 112.5h1M561 112.5h1M27 113.5h3M46 113.5h10M122 113.5h13M507 113.5h1M560 113.5h1M30 114.5h16M56 114.5h1M120 114.5h2M508 114.5h1M559 114.5h1M57 115.5h1M119 115.5h1M509 115.5h1M558 115.5h1M58 116.5h2M118 116.5h1M510 116.5h1M558 116.5h1M60 117.5h1M116 117.5h2M511 117.5h1M557 117.5h1M61 118.5h1M115 118.5h1M511 118.5h1M556 118.5h1M62 119.5h1M114 119.5h1M512 119.5h1M555 119.5h1M63 120.5h1M113 120.5h1M513 120.5h1M554 120.5h1M64 121.5h1M111 121.5h2M514 121.5h1M554 121.5h1M65 122.5h2M110 122.5h1M515 122.5h2M553 122.5h1M67 123.5h1M109 123.5h1M517 123.5h1M552 123.5h1M68 124.5h1M108 124.5h1M518 124.5h1M551 124.5h1M69 125.5h1M107 125.5h1M519 125.5h2M551 125.5h1M70 126.5h2M106 126.5h1M521 126.5h1M550 126.5h1M72 127.5h2M104 127.5h2M522 127.5h2M548 127.5h2M74 128.5h2M103 128.5h1M524 128.5h1M546 128.5h2M76 129.5h4M102 129.5h1M525 129.5h1M544 129.5h2M80 130.5h9M97 130.5h5M526 130.5h2M540 130.5h4M89 131.5h8M528 131.5h12" stroke="#2800c8" stroke-width="1" fill="none" shape-rendering="crispEdges"/>
<polyline points="0.0,97.8 6.8,111.4 12.7,122.4 16.1,122.9 19.5,121.5 23.7,122.9 29.7,122.4 38.1,114.4 42.4,112.7 47.5,109.7 52.5,111.9 57.6,122.4 61.9,131.7 66.1,133.0 69.2,138.5 74.6,135.9 80.5,132.5 85.6,132.5 90.7,135.9 95.8,131.7 100.8,126.6 106.8,115.6 115.3,105.9 121.2,104.6 126.3,108.8 129.7,115.3 133.9,115.6 140.0,108.3 146.8,98.6 153.6,91.9 158.6,89.3 163.7,85.1 169.7,84.2 174.7,79.7 182.4,79.7 190.8,78.3 200.2,77.8 208.6,73.7 214.6,65.6 218.0,63.6 224.7,62.7 229.8,68.6 235.8,75.8 241.7,77.5 247.6,81.4 251.9,80.8 258.6,83.9 262.9,80.8 268.0,73.2 273.9,67.6 280.0,64.7 284.2,65.9 291.0,61.9 294.4,62.7 298.6,61.9 306.3,63.9 313.1,60.0 318.1,59.7 326.6,54.1 331.7,55.4 339.3,64.4 344.4,64.4 347.8,61.7 356.3,61.7 361.4,69.8 367.3,78.8 376.6,84.2 383.4,91.9 388.5,97.8 393.6,100.0 397.8,96.9 401.2,91.9 406.3,85.1 411.4,78.0 415.6,74.1 420.0,69.0 422.5,66.4 427.6,69.3 433.6,71.5 437.8,69.8 443.7,73.2 449.7,81.7 455.6,86.8 462.4,88.0 469.2,83.9 475.1,80.8 480.2,85.1 485.3,97.8 491.2,108.0 498.0,118.1 504.7,131.4 511.5,132.2 514.1,135.9 517.5,135.1 524.2,142.7 530.2,135.1 535.3,132.5 538.6,133.4 542.9,128.3 549.7,116.4 554.7,103.7 560.0,94.0 565.1,89.3 571.9,85.9 577.8,80.0 582.0,77.8 588.0,78.8 596.4,69.0 604.9,54.6 610.0,49.8 615.1,50.7 620.2,53.7 628.6,49.5 633.7,49.2 639.7,51.7 647.3,52.5 655.8,48.6 661.7,51.2 671.9,59.7 680.3,60.0 685.4,65.1 690.0,68.7 694.8,71.9 700.4,63.8 705.9,57.6 711.4,46.9 719.0,40.8 723.1,41.7 730.1,44.5 733.5,49.8 737.7,51.1 743.2,61.1 751.5,65.9 757.7,61.1 761.8,57.6" stroke="#000" stroke-width="2"/>
<polyline points="0.0,252.4 1.7,265.1 7.6,262.5 12.7,260.8 15.6,249.8 20.0,244.4 24.1,251.2 30.5,236.3 33.1,235.4 37.3,230.3 41.5,228.3 47.5,213.1 50.8,219.3 55.1,232.0 58.5,238.0 61.9,247.8 65.8,242.7 69.0,249.8 72.9,236.3 75.4,243.1 79.7,239.7 83.9,252.0 87.3,247.3 91.0,257.1 94.9,246.4 98.3,233.7 101.2,227.8 104.7,199.8 108.5,203.2 111.9,211.7 114.9,194.7 116.9,205.8 119.5,219.3 122.4,215.1 126.3,234.6 129.7,232.0 133.1,224.4 136.4,210.8 140.0,209.2 146.8,210.5 151.0,218.5 156.1,220.7 160.7,220.5 165.1,206.6 168.0,214.7 174.7,185.8 179.0,199.8 182.4,203.7 190.0,216.8 193.4,210.5 197.1,217.6 203.6,208.8 206.9,210.5 210.8,208.3 214.1,194.7 218.0,203.7 221.0,207.5 225.1,202.7 231.9,221.9 238.3,215.6 242.5,214.6 245.9,223.1 252.7,218.8 260.0,234.9 266.3,214.2 270.5,210.0 277.3,196.8 280.0,197.6 284.7,209.2 291.9,191.9 295.6,201.5 298.6,202.7 305.4,199.8 310.2,205.8 313.1,205.8 317.3,213.9 324.9,201.5 330.8,204.9 337.6,223.1 341.0,210.8 344.4,212.5 347.8,201.5 356.3,210.5 358.8,227.8 363.1,224.7 369.8,235.4 374.9,232.0 380.0,227.5 384.2,226.1 387.1,239.3 391.0,238.0 393.9,246.9 398.3,229.5 404.6,218.5 408.8,204.1 411.9,198.1 416.1,204.9 420.0,200.7 422.5,199.8 429.3,204.9 432.7,196.4 436.9,192.5 440.3,195.6 447.1,226.6 450.5,224.7 453.9,234.6 461.5,229.2 464.9,233.7 471.7,217.1 476.4,217.1 479.3,227.8 483.1,249.8 485.8,250.7 489.8,239.7 497.1,242.5 503.9,255.8 506.9,247.3 511.0,249.5 514.1,267.6 517.8,258.3 522.0,272.4 525.9,251.5 528.8,231.7 531.9,229.0 538.6,239.7 542.9,222.7 545.8,209.2 550.5,204.9 556.4,201.5 560.0,192.5 563.7,201.5 567.1,189.2 571.0,190.8 574.9,201.5 577.8,196.4 581.2,195.3 585.1,191.0 588.8,203.7 592.2,201.5 595.9,196.1 599.3,201.5 602.4,200.2 606.1,193.1 610.8,194.4 614.6,198.6 617.3,199.5 619.8,207.5 623.6,198.1 626.9,196.4 631.2,190.8 635.1,190.2 637.6,206.6 642.2,210.8 647.3,213.9 653.2,211.7 659.2,206.6 665.9,207.1 669.7,220.2 676.9,214.2 680.3,215.1 684.6,219.0 687.5,217.3 691.9,221.0 695.1,226.9 697.6,213.4 700.0,211.5 705.0,206.8 707.5,201.8 711.7,188.9 715.0,191.3 719.2,191.8 723.4,201.8 729.7,195.1 733.4,202.6 736.7,195.1 740.1,202.6 743.7,216.8 747.6,221.8 750.1,220.6 754.3,221.8 762.6,213.5" stroke="#000" stroke-width="2"/>
</g>
<g clip-path="url(#cpp)">
<g shape-rendering="crispEdges">
<rect x="1" y="504" width="1" height="11" fill="#900030"/>
<rect x="0" y="504" width="4" height="8" fill="#900030"/>
<rect x="5" y="502" width="1" height="10" fill="#000"/>
<rect x="4" y="505" width="3" height="7" fill="#000"/>
<rect x="5" y="506" width="1" height="5" fill="#fff"/>
<rect x="7" y="505" width="4" height="6" fill="#000"/>
<rect x="8" y="506" width="2" height="4" fill="#fff"/>
<rect x="11" y="511" width="3" height="15" fill="#900030"/>
<rect x="14" y="504" width="4" height="21" fill="#000"/>
<rect x="15" y="505" width="2" height="19" fill="#fff"/>
<rect x="19" y="498" width="1" height="7" fill="#000"/>
<rect x="18" y="502" width="3" height="3" fill="#000"/>
<rect x="19" y="503" width="1" height="1" fill="#fff"/>
<rect x="22" y="489" width="1" height="25" fill="#900030"/>
<rect x="21" y="503" width="4" height="7" fill="#900030"/>
<rect x="26" y="507" width="1" height="13" fill="#000"/>
<rect x="25" y="507" width="3" height="3" fill="#000"/>
<rect x="26" y="508" width="1" height="1" fill="#fff"/>
<rect x="29" y="500" width="1" height="10" fill="#000"/>
<rect x="28" y="503" width="4" height="7" fill="#000"/>
<rect x="29" y="504" width="2" height="5" fill="#fff"/>
<rect x="32" y="498" width="3" height="5" fill="#000"/>
<rect x="33" y="499" width="1" height="3" fill="#fff"/>
<rect x="36" y="486" width="1" height="12" fill="#000"/>
<rect x="35" y="490" width="4" height="8" fill="#000"/>
<rect x="36" y="491" width="2" height="6" fill="#fff"/>
<rect x="39" y="489" width="3" height="11" fill="#900030"/>
<rect x="43" y="496" width="1" height="6" fill="#000"/>
<rect x="42" y="497" width="4" height="3" fill="#000"/>
<rect x="47" y="491" width="1" height="23" fill="#000"/>
<rect x="46" y="493" width="4" height="4" fill="#000"/>
<rect x="47" y="494" width="2" height="2" fill="#fff"/>
<rect x="51" y="493" width="1" height="20" fill="#900030"/>
<rect x="50" y="493" width="3" height="17" fill="#900030"/>
<rect x="53" y="510" width="4" height="17" fill="#900030"/>
<rect x="58" y="526" width="1" height="27" fill="#900030"/>
<rect x="57" y="526" width="3" height="25" fill="#900030"/>
<rect x="61" y="546" width="1" height="13" fill="#000"/>
<rect x="60" y="549" width="4" height="3" fill="#000"/>
<rect x="61" y="550" width="2" height="1" fill="#fff"/>
<rect x="65" y="533" width="1" height="16" fill="#000"/>
<rect x="64" y="534" width="3" height="15" fill="#000"/>
<rect x="65" y="535" width="1" height="13" fill="#fff"/>
<rect x="67" y="535" width="4" height="23" fill="#900030"/>
<rect x="71" y="531" width="3" height="25" fill="#000"/>
<rect x="72" y="532" width="1" height="23" fill="#fff"/>
<rect x="75" y="530" width="1" height="19" fill="#900030"/>
<rect x="74" y="530" width="4" height="8" fill="#900030"/>
<rect x="79" y="524" width="1" height="15" fill="#000"/>
<rect x="78" y="525" width="3" height="14" fill="#000"/>
<rect x="79" y="526" width="1" height="12" fill="#fff"/>
<rect x="81" y="525" width="4" height="14" fill="#900030"/>
<rect x="86" y="535" width="1" height="17" fill="#900030"/>
<rect x="88" y="539" width="4" height="17" fill="#900030"/>
<rect x="93" y="539" width="1" height="21" fill="#000"/>
<rect x="92" y="539" width="3" height="17" fill="#000"/>
<rect x="93" y="540" width="1" height="15" fill="#fff"/>
<rect x="96" y="531" width="1" height="10" fill="#000"/>
<rect x="95" y="531" width="4" height="9" fill="#000"/>
<rect x="96" y="532" width="2" height="7" fill="#fff"/>
<rect x="100" y="531" width="1" height="8" fill="#900030"/>
<rect x="99" y="531" width="3" height="3" fill="#900030"/>
<rect x="102" y="512" width="4" height="22" fill="#000"/>
<rect x="103" y="513" width="2" height="20" fill="#fff"/>
<rect x="107" y="507" width="1" height="13" fill="#900030"/>
<rect x="106" y="512" width="4" height="2" fill="#900030"/>
<rect x="111" y="509" width="1" height="9" fill="#900030"/>
<rect x="110" y="514" width="3" height="2" fill="#900030"/>
<rect x="113" y="508" width="4" height="8" fill="#000"/>
<rect x="114" y="509" width="2" height="6" fill="#fff"/>
<rect x="118" y="508" width="1" height="21" fill="#900030"/>
<rect x="117" y="508" width="3" height="19" fill="#900030"/>
<rect x="121" y="522" width="1" height="15" fill="#000"/>
<rect x="120" y="523" width="4" height="3" fill="#000"/>
<rect x="121" y="524" width="2" height="1" fill="#fff"/>
<rect x="124" y="523" width="3" height="21" fill="#900030"/>
<rect x="128" y="544" width="1" height="22" fill="#900030"/>
<rect x="127" y="544" width="4" height="13" fill="#900030"/>
<rect x="131" y="543" width="3" height="13" fill="#000"/>
<rect x="132" y="544" width="1" height="11" fill="#fff"/>
<rect x="135" y="534" width="1" height="15" fill="#000"/>
<rect x="134" y="534" width="4" height="9" fill="#000"/>
<rect x="135" y="535" width="2" height="7" fill="#fff"/>
<rect x="139" y="513" width="1" height="21" fill="#000"/>
<rect x="138" y="515" width="3" height="19" fill="#000"/>
<rect x="139" y="516" width="1" height="17" fill="#fff"/>
<rect x="142" y="509" width="1" height="8" fill="#000"/>
<rect x="141" y="509" width="4" height="6" fill="#000"/>
<rect x="142" y="510" width="2" height="4" fill="#fff"/>
<rect x="146" y="509" width="1" height="9" fill="#900030"/>
<rect x="145" y="509" width="3" height="4" fill="#900030"/>
<rect x="149" y="501" width="1" height="12" fill="#000"/>
<rect x="148" y="506" width="4" height="7" fill="#000"/>
<rect x="149" y="507" width="2" height="5" fill="#fff"/>
<rect x="153" y="504" width="1" height="7" fill="#900030"/>
<rect x="156" y="506" width="1" height="8" fill="#900030"/>
<rect x="155" y="506" width="4" height="5" fill="#900030"/>
<rect x="160" y="502" width="1" height="9" fill="#000"/>
<rect x="159" y="503" width="4" height="8" fill="#000"/>
<rect x="160" y="504" width="2" height="6" fill="#fff"/>
<rect x="164" y="499" width="1" height="7" fill="#000"/>
<rect x="163" y="499" width="3" height="4" fill="#000"/>
<rect x="164" y="500" width="1" height="2" fill="#fff"/>
<rect x="166" y="498" width="4" height="12" fill="#900030"/>
<rect x="171" y="493" width="1" height="19" fill="#000"/>
<rect x="170" y="498" width="3" height="12" fill="#000"/>
<rect x="171" y="499" width="1" height="10" fill="#fff"/>
<rect x="174" y="494" width="1" height="8" fill="#000"/>
<rect x="173" y="494" width="4" height="3" fill="#000"/>
<rect x="174" y="495" width="2" height="1" fill="#fff"/>
<rect x="178" y="492" width="1" height="14" fill="#900030"/>
<rect x="177" y="492" width="3" height="10" fill="#900030"/>
<rect x="181" y="499" width="1" height="6" fill="#000"/>
<rect x="180" y="499" width="4" height="3" fill="#000"/>
<rect x="181" y="500" width="2" height="1" fill="#fff"/>
<rect x="185" y="483" width="1" height="15" fill="#000"/>
<rect x="184" y="495" width="3" height="3" fill="#000"/>
<rect x="185" y="496" width="1" height="1" fill="#fff"/>
<rect x="188" y="488" width="1" height="11" fill="#900030"/>
<rect x="187" y="495" width="4" height="4" fill="#900030"/>
<rect x="192" y="492" width="1" height="14" fill="#000"/>
<rect x="191" y="492" width="3" height="8" fill="#000"/>
<rect x="192" y="493" width="1" height="6" fill="#fff"/>
<rect x="195" y="489" width="1" height="10" fill="#900030"/>
<rect x="194" y="492" width="4" height="3" fill="#900030"/>
<rect x="199" y="492" width="1" height="9" fill="#000"/>
<rect x="198" y="492" width="3" height="3" fill="#000"/>
<rect x="199" y="493" width="1" height="1" fill="#fff"/>
<rect x="201" y="488" width="4" height="5" fill="#000"/>
<rect x="202" y="489" width="2" height="3" fill="#fff"/>
<rect x="206" y="482" width="1" height="10" fill="#000"/>
<rect x="205" y="482" width="3" height="6" fill="#000"/>
<rect x="206" y="483" width="1" height="4" fill="#fff"/>
<rect x="208" y="474" width="4" height="8" fill="#000"/>
<rect x="209" y="475" width="2" height="6" fill="#fff"/>
<rect x="212" y="462" width="3" height="12" fill="#000"/>
<rect x="213" y="463" width="1" height="10" fill="#fff"/>
<rect x="216" y="462" width="1" height="11" fill="#900030"/>
<rect x="215" y="462" width="4" height="6" fill="#900030"/>
<rect x="220" y="466" width="1" height="7" fill="#900030"/>
<rect x="219" y="466" width="4" height="2" fill="#900030"/>
<rect x="224" y="463" width="1" height="9" fill="#000"/>
<rect x="223" y="468" width="3" height="2" fill="#000"/>
<rect x="226" y="468" width="4" height="16" fill="#900030"/>
<rect x="231" y="484" width="1" height="10" fill="#900030"/>
<rect x="230" y="484" width="3" height="9" fill="#900030"/>
<rect x="234" y="490" width="1" height="7" fill="#000"/>
<rect x="233" y="492" width="4" height="2" fill="#000"/>
<rect x="238" y="479" width="1" height="15" fill="#000"/>
<rect x="237" y="479" width="3" height="14" fill="#000"/>
<rect x="238" y="480" width="1" height="12" fill="#fff"/>
<rect x="241" y="477" width="1" height="5" fill="#900030"/>
<rect x="240" y="479" width="4" height="3" fill="#900030"/>
<rect x="245" y="476" width="1" height="16" fill="#900030"/>
<rect x="244" y="481" width="3" height="11" fill="#900030"/>
<rect x="248" y="482" width="1" height="10" fill="#000"/>
<rect x="247" y="485" width="4" height="6" fill="#000"/>
<rect x="248" y="486" width="2" height="4" fill="#fff"/>
<rect x="252" y="474" width="1" height="16" fill="#000"/>
<rect x="251" y="474" width="3" height="11" fill="#000"/>
<rect x="252" y="475" width="1" height="9" fill="#fff"/>
<rect x="255" y="471" width="1" height="12" fill="#900030"/>
<rect x="254" y="475" width="4" height="8" fill="#900030"/>
<rect x="259" y="481" width="1" height="20" fill="#000"/>
<rect x="258" y="481" width="3" height="3" fill="#000"/>
<rect x="259" y="482" width="1" height="1" fill="#fff"/>
<rect x="261" y="465" width="4" height="18" fill="#000"/>
<rect x="262" y="466" width="2" height="16" fill="#fff"/>
<rect x="266" y="453" width="1" height="12" fill="#000"/>
<rect x="265" y="454" width="3" height="11" fill="#000"/>
<rect x="266" y="455" width="1" height="9" fill="#fff"/>
<rect x="269" y="444" width="1" height="10" fill="#000"/>
<rect x="268" y="448" width="4" height="6" fill="#000"/>
<rect x="269" y="449" width="2" height="4" fill="#fff"/>
<rect x="273" y="448" width="1" height="6" fill="#900030"/>
<rect x="272" y="448" width="4" height="2" fill="#900030"/>
<rect x="277" y="440" width="1" height="12" fill="#000"/>
<rect x="276" y="448" width="3" height="2" fill="#000"/>
<rect x="280" y="447" width="1" height="7" fill="#000"/>
<rect x="279" y="448" width="4" height="2" fill="#000"/>
<rect x="283" y="449" width="3" height="7" fill="#900030"/>
<rect x="286" y="446" width="4" height="10" fill="#000"/>
<rect x="287" y="447" width="2" height="8" fill="#fff"/>
<rect x="291" y="430" width="1" height="24" fill="#000"/>
<rect x="290" y="438" width="3" height="9" fill="#000"/>
<rect x="291" y="439" width="1" height="7" fill="#fff"/>
<rect x="294" y="438" width="1" height="13" fill="#900030"/>
<rect x="293" y="438" width="4" height="10" fill="#900030"/>
<rect x="298" y="439" width="1" height="10" fill="#000"/>
<rect x="297" y="439" width="3" height="8" fill="#000"/>
<rect x="298" y="440" width="1" height="6" fill="#fff"/>
<rect x="301" y="435" width="1" height="10" fill="#900030"/>
<rect x="300" y="439" width="4" height="6" fill="#900030"/>
<rect x="305" y="442" width="1" height="4" fill="#000"/>
<rect x="304" y="444" width="3" height="2" fill="#000"/>
<rect x="307" y="436" width="4" height="8" fill="#000"/>
<rect x="308" y="437" width="2" height="6" fill="#fff"/>
<rect x="311" y="423" width="3" height="13" fill="#000"/>
<rect x="312" y="424" width="1" height="11" fill="#fff"/>
<rect x="315" y="421" width="1" height="12" fill="#900030"/>
<rect x="314" y="424" width="4" height="9" fill="#900030"/>
<rect x="319" y="423" width="1" height="10" fill="#000"/>
<rect x="318" y="427" width="3" height="6" fill="#000"/>
<rect x="319" y="428" width="1" height="4" fill="#fff"/>
<rect x="321" y="416" width="4" height="11" fill="#000"/>
<rect x="322" y="417" width="2" height="9" fill="#fff"/>
<rect x="325" y="411" width="3" height="4" fill="#000"/>
<rect x="326" y="412" width="1" height="2" fill="#fff"/>
<rect x="328" y="413" width="4" height="10" fill="#900030"/>
<rect x="333" y="424" width="1" height="16" fill="#900030"/>
<rect x="332" y="424" width="4" height="14" fill="#900030"/>
<rect x="337" y="426" width="1" height="13" fill="#900030"/>
<rect x="340" y="424" width="1" height="14" fill="#000"/>
<rect x="339" y="426" width="4" height="12" fill="#000"/>
<rect x="340" y="427" width="2" height="10" fill="#fff"/>
<rect x="344" y="408" width="1" height="17" fill="#000"/>
<rect x="343" y="421" width="3" height="4" fill="#000"/>
<rect x="344" y="422" width="1" height="2" fill="#fff"/>
<rect x="346" y="408" width="4" height="14" fill="#000"/>
<rect x="347" y="409" width="2" height="12" fill="#fff"/>
<rect x="351" y="408" width="1" height="14" fill="#900030"/>
<rect x="350" y="408" width="3" height="8" fill="#900030"/>
<rect x="354" y="412" width="1" height="10" fill="#000"/>
<rect x="353" y="413" width="4" height="2" fill="#000"/>
<rect x="358" y="413" width="1" height="19" fill="#900030"/>
<rect x="357" y="413" width="3" height="18" fill="#900030"/>
<rect x="360" y="430" width="4" height="7" fill="#900030"/>
<rect x="365" y="436" width="1" height="10" fill="#900030"/>
<rect x="364" y="436" width="3" height="6" fill="#900030"/>
<rect x="368" y="433" width="1" height="9" fill="#000"/>
<rect x="367" y="438" width="4" height="4" fill="#000"/>
<rect x="368" y="439" width="2" height="2" fill="#fff"/>
<rect x="372" y="424" width="1" height="13" fill="#000"/>
<rect x="371" y="430" width="3" height="7" fill="#000"/>
<rect x="372" y="431" width="1" height="5" fill="#fff"/>
<rect x="374" y="430" width="4" height="8" fill="#900030"/>
<rect x="379" y="432" width="1" height="14" fill="#900030"/>
<rect x="378" y="436" width="3" height="10" fill="#900030"/>
<rect x="381" y="442" width="4" height="4" fill="#000"/>
<rect x="382" y="443" width="2" height="2" fill="#fff"/>
<rect x="385" y="442" width="4" height="10" fill="#900030"/>
<rect x="390" y="445" width="1" height="13" fill="#000"/>
<rect x="389" y="447" width="3" height="8" fill="#000"/>
<rect x="390" y="448" width="1" height="6" fill="#fff"/>
<rect x="393" y="447" width="1" height="10" fill="#900030"/>
<rect x="392" y="447" width="4" height="4" fill="#900030"/>
<rect x="397" y="428" width="1" height="24" fill="#000"/>
<rect x="396" y="428" width="3" height="21" fill="#000"/>
<rect x="397" y="429" width="1" height="19" fill="#fff"/>
<rect x="400" y="413" width="1" height="15" fill="#000"/>
<rect x="399" y="419" width="4" height="9" fill="#000"/>
<rect x="400" y="420" width="2" height="7" fill="#fff"/>
<rect x="404" y="416" width="1" height="6" fill="#900030"/>
<rect x="403" y="418" width="3" height="4" fill="#900030"/>
<rect x="406" y="402" width="4" height="20" fill="#000"/>
<rect x="407" y="403" width="2" height="18" fill="#fff"/>
<rect x="411" y="401" width="1" height="6" fill="#000"/>
<rect x="414" y="400" width="1" height="10" fill="#900030"/>
<rect x="413" y="400" width="4" height="6" fill="#900030"/>
<rect x="417" y="393" width="3" height="14" fill="#000"/>
<rect x="418" y="394" width="1" height="12" fill="#fff"/>
<rect x="420" y="393" width="4" height="7" fill="#900030"/>
<rect x="424" y="397" width="3" height="13" fill="#900030"/>
<rect x="428" y="404" width="1" height="9" fill="#900030"/>
<rect x="427" y="410" width="4" height="2" fill="#900030"/>
<rect x="432" y="409" width="1" height="5" fill="#000"/>
<rect x="431" y="410" width="3" height="2" fill="#000"/>
<rect x="434" y="396" width="4" height="14" fill="#000"/>
<rect x="435" y="397" width="2" height="12" fill="#fff"/>
<rect x="438" y="396" width="3" height="6" fill="#900030"/>
<rect x="442" y="396" width="1" height="18" fill="#900030"/>
<rect x="441" y="402" width="4" height="12" fill="#900030"/>
<rect x="445" y="414" width="4" height="11" fill="#900030"/>
<rect x="450" y="422" width="1" height="13" fill="#000"/>
<rect x="449" y="423" width="3" height="2" fill="#000"/>
<rect x="453" y="421" width="1" height="12" fill="#900030"/>
<rect x="457" y="411" width="1" height="12" fill="#000"/>
<rect x="456" y="416" width="3" height="7" fill="#000"/>
<rect x="457" y="417" width="1" height="5" fill="#fff"/>
<rect x="459" y="415" width="4" height="2" fill="#900030"/>
<rect x="464" y="408" width="1" height="9" fill="#000"/>
<rect x="463" y="410" width="3" height="7" fill="#000"/>
<rect x="464" y="411" width="1" height="5" fill="#fff"/>
<rect x="467" y="399" width="1" height="17" fill="#000"/>
<rect x="466" y="399" width="4" height="6" fill="#000"/>
<rect x="467" y="400" width="2" height="4" fill="#fff"/>
<rect x="471" y="396" width="1" height="10" fill="#000"/>
<rect x="470" y="398" width="3" height="2" fill="#000"/>
<rect x="474" y="394" width="1" height="6" fill="#900030"/>
<rect x="473" y="398" width="4" height="2" fill="#900030"/>
<rect x="477" y="399" width="3" height="15" fill="#900030"/>
<rect x="480" y="414" width="4" height="28" fill="#900030"/>
<rect x="485" y="436" width="1" height="26" fill="#900030"/>
<rect x="484" y="442" width="3" height="9" fill="#900030"/>
<rect x="488" y="439" width="1" height="11" fill="#000"/>
<rect x="487" y="443" width="4" height="7" fill="#000"/>
<rect x="488" y="444" width="2" height="5" fill="#fff"/>
<rect x="492" y="440" width="1" height="14" fill="#900030"/>
<rect x="491" y="443" width="3" height="11" fill="#900030"/>
<rect x="495" y="443" width="1" height="11" fill="#900030"/>
<rect x="494" y="446" width="4" height="8" fill="#900030"/>
<rect x="499" y="449" width="1" height="18" fill="#900030"/>
<rect x="498" y="454" width="4" height="13" fill="#900030"/>
<rect x="503" y="467" width="1" height="20" fill="#900030"/>
<rect x="502" y="467" width="3" height="7" fill="#900030"/>
<rect x="505" y="458" width="4" height="16" fill="#000"/>
<rect x="506" y="459" width="2" height="14" fill="#fff"/>
<rect x="510" y="455" width="1" height="9" fill="#000"/>
<rect x="509" y="456" width="3" height="2" fill="#000"/>
<rect x="512" y="456" width="4" height="21" fill="#900030"/>
<rect x="517" y="458" width="1" height="32" fill="#000"/>
<rect x="516" y="458" width="3" height="19" fill="#000"/>
<rect x="517" y="459" width="1" height="17" fill="#fff"/>
<rect x="520" y="458" width="1" height="35" fill="#900030"/>
<rect x="519" y="458" width="4" height="29" fill="#900030"/>
<rect x="524" y="475" width="1" height="14" fill="#000"/>
<rect x="523" y="482" width="3" height="5" fill="#000"/>
<rect x="524" y="483" width="1" height="3" fill="#fff"/>
<rect x="526" y="455" width="4" height="27" fill="#000"/>
<rect x="527" y="456" width="2" height="25" fill="#fff"/>
<rect x="531" y="450" width="1" height="8" fill="#900030"/>
<rect x="530" y="455" width="3" height="3" fill="#900030"/>
<rect x="534" y="449" width="1" height="15" fill="#900030"/>
<rect x="533" y="458" width="4" height="6" fill="#900030"/>
<rect x="537" y="463" width="3" height="17" fill="#900030"/>
<rect x="540" y="456" width="4" height="24" fill="#000"/>
<rect x="541" y="457" width="2" height="22" fill="#fff"/>
<rect x="544" y="442" width="3" height="14" fill="#000"/>
<rect x="545" y="443" width="1" height="12" fill="#fff"/>
<rect x="548" y="440" width="1" height="8" fill="#900030"/>
<rect x="552" y="425" width="1" height="21" fill="#000"/>
<rect x="551" y="425" width="3" height="19" fill="#000"/>
<rect x="552" y="426" width="1" height="17" fill="#fff"/>
<rect x="555" y="414" width="1" height="11" fill="#000"/>
<rect x="554" y="421" width="4" height="4" fill="#000"/>
<rect x="555" y="422" width="2" height="2" fill="#fff"/>
<rect x="559" y="419" width="1" height="13" fill="#900030"/>
<rect x="558" y="419" width="4" height="7" fill="#900030"/>
<rect x="563" y="422" width="1" height="9" fill="#000"/>
<rect x="562" y="424" width="3" height="2" fill="#000"/>
<rect x="566" y="423" width="1" height="11" fill="#900030"/>
<rect x="565" y="423" width="4" height="6" fill="#900030"/>
<rect x="570" y="422" width="1" height="11" fill="#000"/>
<rect x="569" y="427" width="3" height="3" fill="#000"/>
<rect x="570" y="428" width="1" height="1" fill="#fff"/>
<rect x="573" y="422" width="1" height="17" fill="#000"/>
<rect x="572" y="422" width="4" height="7" fill="#000"/>
<rect x="573" y="423" width="2" height="5" fill="#fff"/>
<rect x="576" y="414" width="3" height="7" fill="#000"/>
<rect x="577" y="415" width="1" height="5" fill="#fff"/>
<rect x="580" y="412" width="1" height="5" fill="#900030"/>
<rect x="579" y="414" width="4" height="3" fill="#900030"/>
<rect x="584" y="413" width="1" height="13" fill="#900030"/>
<rect x="583" y="416" width="3" height="10" fill="#900030"/>
<rect x="587" y="424" width="1" height="5" fill="#000"/>
<rect x="586" y="424" width="4" height="3" fill="#000"/>
<rect x="587" y="425" width="2" height="1" fill="#fff"/>
<rect x="590" y="405" width="3" height="18" fill="#000"/>
<rect x="591" y="406" width="1" height="16" fill="#fff"/>
<rect x="594" y="398" width="1" height="10" fill="#000"/>
<rect x="593" y="398" width="4" height="8" fill="#000"/>
<rect x="594" y="399" width="2" height="6" fill="#fff"/>
<rect x="597" y="389" width="3" height="9" fill="#000"/>
<rect x="598" y="390" width="1" height="7" fill="#fff"/>
<rect x="601" y="381" width="1" height="15" fill="#000"/>
<rect x="600" y="381" width="4" height="8" fill="#000"/>
<rect x="601" y="382" width="2" height="6" fill="#fff"/>
<rect x="605" y="370" width="1" height="11" fill="#000"/>
<rect x="604" y="375" width="3" height="6" fill="#000"/>
<rect x="605" y="376" width="1" height="4" fill="#fff"/>
<rect x="607" y="373" width="4" height="3" fill="#000"/>
<rect x="608" y="374" width="2" height="1" fill="#fff"/>
<rect x="611" y="374" width="3" height="13" fill="#900030"/>
<rect x="615" y="377" width="1" height="12" fill="#000"/>
<rect x="614" y="386" width="4" height="3" fill="#000"/>
<rect x="615" y="387" width="2" height="1" fill="#fff"/>
<rect x="618" y="385" width="4" height="11" fill="#900030"/>
<rect x="622" y="372" width="3" height="24" fill="#000"/>
<rect x="623" y="373" width="1" height="22" fill="#fff"/>
<rect x="626" y="371" width="1" height="6" fill="#000"/>
<rect x="625" y="371" width="4" height="2" fill="#000"/>
<rect x="630" y="370" width="1" height="8" fill="#900030"/>
<rect x="633" y="359" width="1" height="13" fill="#000"/>
<rect x="632" y="368" width="4" height="4" fill="#000"/>
<rect x="633" y="369" width="2" height="2" fill="#fff"/>
<rect x="637" y="368" width="1" height="14" fill="#900030"/>
<rect x="636" y="368" width="3" height="10" fill="#900030"/>
<rect x="640" y="370" width="1" height="10" fill="#000"/>
<rect x="639" y="376" width="4" height="3" fill="#000"/>
<rect x="640" y="377" width="2" height="1" fill="#fff"/>
<rect x="644" y="372" width="1" height="6" fill="#000"/>
<rect x="643" y="372" width="3" height="4" fill="#000"/>
<rect x="644" y="373" width="1" height="2" fill="#fff"/>
<rect x="647" y="362" width="1" height="10" fill="#000"/>
<rect x="646" y="366" width="4" height="6" fill="#000"/>
<rect x="647" y="367" width="2" height="4" fill="#fff"/>
<rect x="651" y="358" width="1" height="9" fill="#000"/>
<rect x="650" y="358" width="3" height="8" fill="#000"/>
<rect x="651" y="359" width="1" height="6" fill="#fff"/>
<rect x="654" y="348" width="1" height="10" fill="#000"/>
<rect x="653" y="352" width="4" height="6" fill="#000"/>
<rect x="654" y="353" width="2" height="4" fill="#fff"/>
<rect x="658" y="352" width="1" height="10" fill="#900030"/>
<rect x="657" y="352" width="3" height="7" fill="#900030"/>
<rect x="661" y="351" width="1" height="9" fill="#900030"/>
<rect x="660" y="352" width="4" height="8" fill="#900030"/>
<rect x="664" y="360" width="3" height="7" fill="#900030"/>
<rect x="668" y="364" width="1" height="8" fill="#900030"/>
<rect x="667" y="366" width="4" height="3" fill="#900030"/>
<rect x="671" y="361" width="4" height="7" fill="#000"/>
<rect x="672" y="362" width="2" height="5" fill="#fff"/>
<rect x="675" y="356" width="3" height="6" fill="#000"/>
<rect x="676" y="357" width="1" height="4" fill="#fff"/>
<rect x="679" y="353" width="1" height="5" fill="#000"/>
<rect x="678" y="354" width="4" height="2" fill="#000"/>
<rect x="682" y="354" width="3" height="14" fill="#900030"/>
<rect x="686" y="363" width="1" height="7" fill="#000"/>
<rect x="685" y="365" width="4" height="2" fill="#000"/>
<rect x="689" y="364" width="3" height="2" fill="#900030"/>
<rect x="693" y="364" width="1" height="13" fill="#900030"/>
<rect x="692" y="364" width="4" height="8" fill="#900030"/>
<rect x="696" y="339" width="3" height="34" fill="#000"/>
<rect x="697" y="340" width="1" height="32" fill="#fff"/>
<rect x="699" y="329" width="4" height="10" fill="#000"/>
<rect x="700" y="330" width="2" height="8" fill="#fff"/>
<rect x="704" y="329" width="1" height="7" fill="#900030"/>
<rect x="703" y="329" width="3" height="5" fill="#900030"/>
<rect x="706" y="314" width="4" height="19" fill="#000"/>
<rect x="707" y="315" width="2" height="17" fill="#fff"/>
<rect x="710" y="310" width="3" height="5" fill="#000"/>
<rect x="711" y="311" width="1" height="3" fill="#fff"/>
<rect x="714" y="310" width="1" height="12" fill="#900030"/>
<rect x="713" y="310" width="4" height="5" fill="#900030"/>
<rect x="717" y="309" width="3" height="6" fill="#000"/>
<rect x="718" y="310" width="1" height="4" fill="#fff"/>
<rect x="720" y="308" width="4" height="11" fill="#900030"/>
<rect x="725" y="316" width="1" height="4" fill="#000"/>
<rect x="724" y="317" width="3" height="2" fill="#000"/>
<rect x="728" y="316" width="1" height="13" fill="#900030"/>
<rect x="727" y="316" width="4" height="6" fill="#900030"/>
<rect x="732" y="322" width="1" height="17" fill="#900030"/>
<rect x="731" y="322" width="4" height="7" fill="#900030"/>
<rect x="736" y="315" width="1" height="11" fill="#000"/>
<rect x="735" y="318" width="3" height="8" fill="#000"/>
<rect x="736" y="319" width="1" height="6" fill="#fff"/>
<rect x="738" y="318" width="4" height="24" fill="#900030"/>
<rect x="743" y="330" width="1" height="12" fill="#000"/>
<rect x="742" y="330" width="3" height="11" fill="#000"/>
<rect x="743" y="331" width="1" height="9" fill="#fff"/>
<rect x="746" y="324" width="1" height="6" fill="#900030"/>
<rect x="750" y="319" width="1" height="10" fill="#900030"/>
<rect x="752" y="312" width="4" height="15" fill="#000"/>
<rect x="753" y="313" width="2" height="13" fill="#fff"/>
<rect x="757" y="297" width="1" height="15" fill="#000"/>
<rect x="756" y="302" width="3" height="10" fill="#000"/>
<rect x="757" y="303" width="1" height="8" fill="#fff"/>
</g>
<path d="M760 525.5h3M755 526.5h5M750 527.5h5M746 528.5h4M741 529.5h5M736 530.5h5M731 531.5h5M726 532.5h5M721 533.5h5M715 534.5h6M710 535.5h5M705 536.5h5M700 537.5h5M694 538.5h6M688 539.5h6M682 540.5h6M676 541.5h6M670 542.5h6M664 543.5h6M659 544.5h5M653 545.5h6M648 546.5h5M642 547.5h6M637 548.5h5M632 549.5h5M626 550.5h6M620 551.5h6M612 552.5h8M604 553.5h8M597 554.5h7M589 555.5h8M581 556.5h8M573 557.5h8M565 558.5h8M558 559.5h7M552 560.5h6M547 561.5h5M541 562.5h6M534 563.5h7M526 564.5h8M519 565.5h7M512 566.5h7M506 567.5h6M502 568.5h4M497 569.5h5M492 570.5h5M488 571.5h4M483 572.5h5M478 573.5h5M474 574.5h4M469 575.5h5M463 576.5h6M458 577.5h5M453 578.5h5M447 579.5h6M442 580.5h5M438 581.5h4M434 582.5h4M430 583.5h4M426 584.5h4M422 585.5h4M418 586.5h4M414 587.5h4M410 588.5h4M406 589.5h4M402 590.5h4M398 591.5h4M394 592.5h4M389 593.5h5M384 594.5h5M380 595.5h4M376 596.5h4M372 597.5h4M368 598.5h4M364 599.5h4M360 600.5h4M356 601.5h4M352 602.5h4M348 603.5h4M344 604.5h4M340 605.5h4M337 606.5h3M333 607.5h4M329 608.5h4M325 609.5h4M321 610.5h4M318 611.5h3M314 612.5h4M310 613.5h4M306 614.5h4M302 615.5h4M298 616.5h4M294 617.5h4M290 618.5h4M286 619.5h4M282 620.5h4M278 621.5h4M274 622.5h4M270 623.5h4M266 624.5h4M262 625.5h4M259 626.5h3M255 627.5h4M251 628.5h4M247 629.5h4M243 630.5h4M238 631.5h5M234 632.5h4M230 633.5h4M226 634.5h4M222 635.5h4M218 636.5h4M215 637.5h3M211 638.5h4M208 639.5h3M204 640.5h4M200 641.5h4M196 642.5h4M192 643.5h4M188 644.5h4M184 645.5h4M180 646.5h4M176 647.5h4M172 648.5h4M168 649.5h4M164 650.5h4M159 651.5h5M154 652.5h5M148 653.5h6M143 654.5h5M138 655.5h5M134 656.5h4M130 657.5h4M126 658.5h4M122 659.5h4M118 660.5h4M114 661.5h4M109 662.5h5M104 663.5h5M99 664.5h5M95 665.5h4M91 666.5h4M87 667.5h4M83 668.5h4M79 669.5h4" stroke="#2800c8" stroke-width="1" fill="none" shape-rendering="crispEdges"/>
<path d="M761 493.5h2M757 494.5h4M753 495.5h4M750 496.5h3M746 497.5h4M743 498.5h3M739 499.5h4M735 500.5h4M732 501.5h3M728 502.5h4M725 503.5h3M721 504.5h4M717 505.5h4M714 506.5h3M710 507.5h4M707 508.5h3M703 509.5h4M699 510.5h4M695 511.5h4M691 512.5h4M686 513.5h5M681 514.5h5M677 515.5h4M672 516.5h5M667 517.5h5M663 518.5h4M658 519.5h5M654 520.5h4M649 521.5h5M644 522.5h5M640 523.5h4M635 524.5h5M630 525.5h5M626 526.5h4M621 527.5h5M617 528.5h4M612 529.5h5M608 530.5h4M603 531.5h5M599 532.5h4M594 533.5h5M590 534.5h4M585 535.5h5M581 536.5h4M576 537.5h5M572 538.5h4M567 539.5h5M563 540.5h4M556 541.5h7M548 542.5h8M541 543.5h7M535 544.5h6M529 545.5h6M523 546.5h6M517 547.5h6M511 548.5h6M505 549.5h6M497 550.5h8M490 551.5h7M483 552.5h7M475 553.5h8M466 554.5h9M458 555.5h8M453 556.5h5M447 557.5h6M442 558.5h5M437 559.5h5M432 560.5h5M428 561.5h4M423 562.5h5M418 563.5h5M413 564.5h5M408 565.5h5M403 566.5h5M397 567.5h6M389 568.5h8M381 569.5h8M374 570.5h7M368 571.5h6M362 572.5h6M353 573.5h9M343 574.5h10M336 575.5h7M331 576.5h5M327 577.5h4M322 578.5h5M316 579.5h6M310 580.5h6M304 581.5h6M296 582.5h8M288 583.5h8M280 584.5h8M273 585.5h7M268 586.5h5M262 587.5h6M257 588.5h5M252 589.5h5M246 590.5h6M238 591.5h8M231 592.5h7M225 593.5h6M219 594.5h6M213 595.5h6M207 596.5h6M201 597.5h6M196 598.5h5M192 599.5h4M187 600.5h5M183 601.5h4M178 602.5h5M174 603.5h4M169 604.5h5M164 605.5h5M158 606.5h6M153 607.5h5M148 608.5h5M143 609.5h5M138 610.5h5M133 611.5h5M128 612.5h5M124 613.5h4M119 614.5h5M114 615.5h5M109 616.5h5M104 617.5h5M99 618.5h5M93 619.5h6M87 620.5h6M81 621.5h6M75 622.5h6M71 623.5h4M67 624.5h4M63 625.5h4M59 626.5h4M55 627.5h4M51 628.5h4M46 629.5h5M42 630.5h4M38 631.5h4M34 632.5h4M30 633.5h4M26 634.5h4M22 635.5h4M18 636.5h4M14 637.5h4M10 638.5h4M6 639.5h4M2 640.5h4M0 641.5h2" stroke="#ff6a00" stroke-width="1" fill="none" shape-rendering="crispEdges"/>
<path d="M760 454.5h3M756 455.5h4M752 456.5h4M747 457.5h5M743 458.5h4M738 459.5h5M734 460.5h4M730 461.5h4M724 462.5h6M717 463.5h7M710 464.5h7M704 465.5h6M697 466.5h7M691 467.5h6M687 468.5h4M683 469.5h4M679 470.5h4M675 471.5h4M671 472.5h4M667 473.5h4M663 474.5h4M658 475.5h5M654 476.5h4M650 477.5h4M646 478.5h4M641 479.5h5M637 480.5h4M633 481.5h4M629 482.5h4M625 483.5h4M621 484.5h4M617 485.5h4M614 486.5h3M610 487.5h4M606 488.5h4M603 489.5h3M599 490.5h4M595 491.5h4M591 492.5h4M587 493.5h4M583 494.5h4M579 495.5h4M575 496.5h4M571 497.5h4M567 498.5h4M563 499.5h4M558 500.5h5M552 501.5h6M547 502.5h5M541 503.5h6M535 504.5h6M529 505.5h6M523 506.5h6M517 507.5h6M511 508.5h6M507 509.5h4M503 510.5h4M499 511.5h4M496 512.5h3M492 513.5h4M488 514.5h4M484 515.5h4M481 516.5h3M477 517.5h4M473 518.5h4M470 519.5h3M468 520.5h2M466 521.5h2M464 522.5h2M462 523.5h2M458 524.5h4M453 525.5h5M448 526.5h5M443 527.5h5M438 528.5h5M434 529.5h4M432 530.5h2M429 531.5h3M427 532.5h2M424 533.5h3M422 534.5h2M418 535.5h4M413 536.5h5M408 537.5h5M403 538.5h5M398 539.5h5M394 540.5h4M389 541.5h5M384 542.5h5M380 543.5h4M375 544.5h5M370 545.5h5M366 546.5h4M361 547.5h5M356 548.5h5M351 549.5h5M346 550.5h5M341 551.5h5M337 552.5h4M333 553.5h4M329 554.5h4M325 555.5h4M321 556.5h4M318 557.5h3M314 558.5h4M310 559.5h4M306 560.5h4M302 561.5h4M298 562.5h4M293 563.5h5M288 564.5h5M283 565.5h5M278 566.5h5M274 567.5h4M270 568.5h4M266 569.5h4M262 570.5h4M259 571.5h3M255 572.5h4M251 573.5h4M247 574.5h4M241 575.5h6M236 576.5h5M230 577.5h6M225 578.5h5M219 579.5h6M213 580.5h6M207 581.5h6M201 582.5h6M194 583.5h7M185 584.5h9M176 585.5h9M168 586.5h8M161 587.5h7M154 588.5h7M147 589.5h7M139 590.5h8M132 591.5h7M126 592.5h6M120 593.5h6M113 594.5h7M106 595.5h7M100 596.5h6M87 597.5h13M73 598.5h14M63 599.5h10M53 600.5h10M42 601.5h11M30 602.5h12M20 603.5h10M12 604.5h8M4 605.5h8M0 606.5h4" stroke="#90609a" stroke-width="1" fill="none" shape-rendering="crispEdges"/>
<path d="M760 441.5h3M755 442.5h5M750 443.5h5M745 444.5h5M740 445.5h5M735 446.5h5M730 447.5h5M725 448.5h5M719 449.5h6M713 450.5h6M708 451.5h5M702 452.5h6M696 453.5h6M691 454.5h5M687 455.5h4M683 456.5h4M679 457.5h4M675 458.5h4M671 459.5h4M667 460.5h4M663 461.5h4M658 462.5h5M652 463.5h6M646 464.5h6M641 465.5h5M635 466.5h6M629 467.5h6M623 468.5h6M617 469.5h6M610 470.5h7M603 471.5h7M597 472.5h6M587 473.5h10M577 474.5h10M571 475.5h6M565 476.5h6M559 477.5h6M552 478.5h7M545 479.5h7M534 480.5h11M520 481.5h14M506 482.5h14M495 483.5h11M488 484.5h7M483 485.5h5M480 486.5h3M477 487.5h3M475 488.5h2M472 489.5h3M468 490.5h4M463 491.5h5M458 492.5h5M453 493.5h5M447 494.5h6M442 495.5h5M438 496.5h4M435 497.5h3M432 498.5h3M428 499.5h4M425 500.5h3M422 501.5h3M419 502.5h3M415 503.5h4M412 504.5h3M409 505.5h3M405 506.5h4M402 507.5h3M398 508.5h4M394 509.5h4M389 510.5h5M384 511.5h5M380 512.5h4M376 513.5h4M372 514.5h4M368 515.5h4M364 516.5h4M360 517.5h4M356 518.5h4M352 519.5h4M348 520.5h4M344 521.5h4M340 522.5h4M337 523.5h3M334 524.5h3M332 525.5h2M329 526.5h3M326 527.5h3M324 528.5h2M321 529.5h3M318 530.5h3M315 531.5h3M312 532.5h3M308 533.5h4M305 534.5h3M302 535.5h3M299 536.5h3M296 537.5h3M293 538.5h3M290 539.5h3M286 540.5h4M283 541.5h3M280 542.5h3M277 543.5h3M274 544.5h3M270 545.5h4M266 546.5h4M262 547.5h4M259 548.5h3M255 549.5h4M251 550.5h4M247 551.5h4M241 552.5h6M236 553.5h5M230 554.5h6M225 555.5h5M221 556.5h4M217 557.5h4M213 558.5h4M209 559.5h4M205 560.5h4M201 561.5h4M197 562.5h4M193 563.5h4M189 564.5h4M185 565.5h4M181 566.5h4M177 567.5h4M173 568.5h4M168 569.5h5M161 570.5h7M154 571.5h7M148 572.5h6M143 573.5h5M138 574.5h5M132 575.5h6M126 576.5h6M120 577.5h6M113 578.5h7M106 579.5h7M100 580.5h6M93 581.5h7M87 582.5h6M81 583.5h6M75 584.5h6M69 585.5h6M63 586.5h6M57 587.5h6M51 588.5h6M46 589.5h5M42 590.5h4M38 591.5h4M34 592.5h4M30 593.5h4M26 594.5h4M21 595.5h5M17 596.5h4M12 597.5h5M7 598.5h5M3 599.5h4M0 600.5h3" stroke="#2800c8" stroke-width="1" fill="none" shape-rendering="crispEdges"/>
<path d="M761 422.5h2M758 423.5h3M755 424.5h3M751 425.5h4M748 426.5h3M745 427.5h3M742 428.5h3M739 429.5h3M735 430.5h4M732 431.5h3M729 432.5h3M726 433.5h3M722 434.5h4M719 435.5h3M716 436.5h3M712 437.5h4M709 438.5h3M705 439.5h4M702 440.5h3M699 441.5h3M695 442.5h4M692 443.5h3M688 444.5h4M684 445.5h4M681 446.5h3M677 447.5h4M673 448.5h4M670 449.5h3M666 450.5h4M662 451.5h4M658 452.5h4M654 453.5h4M650 454.5h4M646 455.5h4M641 456.5h5M637 457.5h4M633 458.5h4M629 459.5h4M622 460.5h7M614 461.5h8M606 462.5h8M598 463.5h8M590 464.5h8M584 465.5h6M574 466.5h10M562 467.5h12M541 468.5h21M513 469.5h28M496 470.5h17M490 471.5h6M484 472.5h6M479 473.5h5M473 474.5h6M463 475.5h10M452 476.5h11M445 477.5h7M439 478.5h6M432 479.5h7M424 480.5h8M417 481.5h7M410 482.5h7M403 483.5h7M396 484.5h7M390 485.5h6M384 486.5h6M378 487.5h6M373 488.5h5M368 489.5h5M363 490.5h5M358 491.5h5M354 492.5h4M349 493.5h5M345 494.5h4M341 495.5h4M336 496.5h5M331 497.5h5M326 498.5h5M321 499.5h5M316 500.5h5M311 501.5h5M307 502.5h4M302 503.5h5M298 504.5h4M294 505.5h4M291 506.5h3M287 507.5h4M284 508.5h3M281 509.5h3M277 510.5h4M274 511.5h3M270 512.5h4M266 513.5h4M262 514.5h4M259 515.5h3M255 516.5h4M251 517.5h4M247 518.5h4M241 519.5h6M236 520.5h5M230 521.5h6M225 522.5h5M221 523.5h4M217 524.5h4M213 525.5h4M209 526.5h4M205 527.5h4M201 528.5h4M197 529.5h4M193 530.5h4M189 531.5h4M185 532.5h4M181 533.5h4M177 534.5h4M173 535.5h4M169 536.5h4M164 537.5h5M158 538.5h6M153 539.5h5M148 540.5h5M143 541.5h5M138 542.5h5M133 543.5h5M128 544.5h5M124 545.5h4M119 546.5h5M114 547.5h5M110 548.5h4M106 549.5h4M102 550.5h4M98 551.5h4M95 552.5h3M91 553.5h4M87 554.5h4M83 555.5h4M79 556.5h4M76 557.5h3M73 558.5h3M70 559.5h3M66 560.5h4M63 561.5h3M60 562.5h3M57 563.5h3M54 564.5h3M50 565.5h4M47 566.5h3M44 567.5h3M41 568.5h3M38 569.5h3M34 570.5h4M31 571.5h3M28 572.5h3M24 573.5h4M20 574.5h4M17 575.5h3M13 576.5h4M10 577.5h3M6 578.5h4M2 579.5h4M0 580.5h2" stroke="#808080" stroke-width="1" fill="none" shape-rendering="crispEdges"/>
<path d="M761 405.5h2M757 406.5h4M754 407.5h3M750 408.5h4M747 409.5h3M744 410.5h3M740 411.5h4M737 412.5h3M734 413.5h3M731 414.5h3M727 415.5h4M724 416.5h3M721 417.5h3M718 418.5h3M715 419.5h3M712 420.5h3M709 421.5h3M705 422.5h4M702 423.5h3M699 424.5h3M696 425.5h3M692 426.5h4M688 427.5h4M685 428.5h3M681 429.5h4M678 430.5h3M674 431.5h4M670 432.5h4M667 433.5h3M663 434.5h4M660 435.5h3M657 436.5h3M654 437.5h3M650 438.5h4M647 439.5h3M644 440.5h3M641 441.5h3M638 442.5h3M635 443.5h3M631 444.5h4M628 445.5h3M625 446.5h3M621 447.5h4M617 448.5h4M613 449.5h4M609 450.5h4M606 451.5h3M604 452.5h2M601 453.5h3M598 454.5h3M595 455.5h3M592 456.5h3M590 457.5h2M587 458.5h3M583 459.5h4M577 460.5h6M572 461.5h5M566 462.5h6M560 463.5h6M552 464.5h8M545 465.5h7M538 466.5h7M531 467.5h7M520 468.5h11M506 469.5h14M484 470.5h22M467 471.5h17M459 472.5h8M452 473.5h7M445 474.5h7M439 475.5h6M432 476.5h7M424 477.5h8M417 478.5h7M410 479.5h7M403 480.5h7M395 481.5h8M385 482.5h10M378 483.5h7M373 484.5h5M368 485.5h5M363 486.5h5M357 487.5h6M351 488.5h6M345 489.5h6M341 490.5h4M336 491.5h5M331 492.5h5M326 493.5h5M321 494.5h5M316 495.5h5M312 496.5h4M304 497.5h8M294 498.5h10M285 499.5h9M268 500.5h17M259 501.5h9M253 502.5h6M232 503.5h21M220 504.5h12M211 505.5h9M205 506.5h6M201 507.5h4M197 508.5h4M192 509.5h5M185 510.5h7M178 511.5h7M171 512.5h7M165 513.5h6M160 514.5h5M155 515.5h5M151 516.5h4M146 517.5h5M141 518.5h5M136 519.5h5M131 520.5h5M127 521.5h4M122 522.5h5M117 523.5h5M113 524.5h4M109 525.5h4M105 526.5h4M101 527.5h4M97 528.5h4M93 529.5h4M87 530.5h6M81 531.5h6M75 532.5h6M71 533.5h4M67 534.5h4M63 535.5h4M60 536.5h3M56 537.5h4M53 538.5h3M49 539.5h4M45 540.5h4M42 541.5h3M38 542.5h4M34 543.5h4M30 544.5h4M26 545.5h4M22 546.5h4M18 547.5h4M14 548.5h4M10 549.5h4M6 550.5h4M2 551.5h4M0 552.5h2" stroke="#006838" stroke-width="1" fill="none" shape-rendering="crispEdges"/>
<path d="M761 390.5h2M757 391.5h4M754 392.5h3M750 393.5h4M747 394.5h3M743 395.5h4M740 396.5h3M736 397.5h4M733 398.5h3M729 399.5h4M726 400.5h3M723 401.5h3M720 402.5h3M717 403.5h3M714 404.5h3M710 405.5h4M707 406.5h3M704 407.5h3M701 408.5h3M698 409.5h3M695 410.5h3M691 411.5h4M687 412.5h4M682 413.5h5M678 414.5h4M674 415.5h4M670 416.5h4M666 417.5h4M662 418.5h4M658 419.5h4M653 420.5h5M649 421.5h4M643 422.5h6M636 423.5h7M630 424.5h6M625 425.5h5M621 426.5h4M615 427.5h6M607 428.5h8M600 429.5h7M593 430.5h7M586 431.5h7M580 432.5h6M574 433.5h6M567 434.5h7M559 435.5h8M553 436.5h6M548 437.5h5M544 438.5h4M534 439.5h10M506 440.5h28M495 441.5h11M488 442.5h7M480 443.5h8M474 444.5h6M471 445.5h3M469 446.5h2M466 447.5h3M463 448.5h3M461 449.5h2M458 450.5h3M456 451.5h2M454 452.5h2M451 453.5h3M448 454.5h3M445 455.5h3M442 456.5h3M439 457.5h3M437 458.5h2M434 459.5h3M432 460.5h2M430 461.5h2M427 462.5h3M424 463.5h3M421 464.5h3M418 465.5h3M415 466.5h3M413 467.5h2M411 468.5h2M409 469.5h2M406 470.5h3M404 471.5h2M402 472.5h2M400 473.5h2M398 474.5h2M395 475.5h3M391 476.5h4M387 477.5h4M384 478.5h3M380 479.5h4M376 480.5h4M372 481.5h4M367 482.5h5M363 483.5h4M358 484.5h5M354 485.5h4M350 486.5h4M345 487.5h5M341 488.5h4M337 489.5h4M333 490.5h4M330 491.5h3M326 492.5h4M322 493.5h4M319 494.5h3M317 495.5h2M315 496.5h2M309 497.5h6M303 498.5h6M51 499.5h10M208 499.5h24M299 499.5h4M43 500.5h8M61 500.5h10M199 500.5h9M232 500.5h67M34 501.5h9M71 501.5h15M187 501.5h12M24 502.5h10M86 502.5h15M173 502.5h14M10 503.5h14M101 503.5h12M164 503.5h9M0 504.5h10M113 504.5h9M158 504.5h6M122 505.5h6M149 505.5h9M128 506.5h21" stroke="#ff00ff" stroke-width="1" fill="none" shape-rendering="crispEdges"/>
<path d="M760 339.5h2M758 340.5h2M756 341.5h2M754 342.5h2M752 343.5h2M748 344.5h4M745 345.5h3M743 346.5h2M741 347.5h2M738 348.5h3M736 349.5h2M734 350.5h2M732 351.5h2M730 352.5h2M728 353.5h2M726 354.5h2M725 355.5h1M723 356.5h2M721 357.5h2M719 358.5h2M718 359.5h1M716 360.5h2M714 361.5h2M713 362.5h1M711 363.5h2M710 364.5h1M709 365.5h1M708 366.5h1M707 367.5h1M706 368.5h1M705 369.5h1M704 370.5h1M703 371.5h1M702 372.5h1M701 373.5h1M699 374.5h2M698 375.5h1M697 376.5h1M696 377.5h1M694 378.5h2M692 379.5h2M690 380.5h2M688 381.5h2M686 382.5h2M684 383.5h2M681 384.5h3M679 385.5h2M677 386.5h2M675 387.5h2M673 388.5h2M671 389.5h2M669 390.5h2M668 391.5h1M666 392.5h2M664 393.5h2M663 394.5h1M661 395.5h2M660 396.5h1M659 397.5h1M658 398.5h1M656 399.5h2M655 400.5h1M654 401.5h1M653 402.5h1M652 403.5h1M651 404.5h1M649 405.5h2M648 406.5h1M647 407.5h1M646 408.5h1M644 409.5h2M643 410.5h1M642 411.5h1M640 412.5h2M639 413.5h1M638 414.5h1M637 415.5h1M635 416.5h2M634 417.5h1M633 418.5h1M632 419.5h1M455 420.5h39M631 420.5h1M443 421.5h12M494 421.5h10M629 421.5h2M437 422.5h6M504 422.5h8M628 422.5h1M435 423.5h2M512 423.5h2M627 423.5h1M430 424.5h5M514 424.5h3M625 424.5h2M425 425.5h5M517 425.5h2M624 425.5h1M421 426.5h4M519 426.5h2M623 426.5h1M418 427.5h3M521 427.5h2M621 427.5h2M415 428.5h3M523 428.5h2M619 428.5h2M413 429.5h2M525 429.5h2M617 429.5h2M411 430.5h2M527 430.5h1M616 430.5h1M407 431.5h4M528 431.5h2M614 431.5h2M403 432.5h4M530 432.5h2M613 432.5h1M398 433.5h5M532 433.5h2M611 433.5h2M391 434.5h7M534 434.5h3M610 434.5h1M383 435.5h8M537 435.5h2M608 435.5h2M378 436.5h5M539 436.5h2M607 436.5h1M374 437.5h4M541 437.5h2M605 437.5h2M372 438.5h2M543 438.5h3M603 438.5h2M370 439.5h2M546 439.5h3M601 439.5h2M368 440.5h2M549 440.5h3M599 440.5h2M366 441.5h2M552 441.5h5M597 441.5h2M361 442.5h5M557 442.5h26M595 442.5h2M357 443.5h4M583 443.5h12M355 444.5h2M353 445.5h2M352 446.5h1M350 447.5h2M349 448.5h1M347 449.5h2M346 450.5h1M344 451.5h2M342 452.5h2M339 453.5h3M336 454.5h3M332 455.5h4M328 456.5h4M326 457.5h2M324 458.5h2M322 459.5h2M321 460.5h1M319 461.5h2M317 462.5h2M315 463.5h2M313 464.5h2M311 465.5h2M309 466.5h2M307 467.5h2M306 468.5h1M304 469.5h2M302 470.5h2M299 471.5h3M297 472.5h2M294 473.5h3M292 474.5h2M290 475.5h2M0 476.5h14M288 476.5h2M14 477.5h8M286 477.5h2M22 478.5h4M283 478.5h3M26 479.5h5M281 479.5h2M31 480.5h5M279 480.5h2M36 481.5h7M276 481.5h3M43 482.5h6M273 482.5h3M49 483.5h2M271 483.5h2M51 484.5h3M269 484.5h2M54 485.5h2M267 485.5h2M56 486.5h2M265 486.5h2M58 487.5h1M263 487.5h2M59 488.5h2M262 488.5h1M61 489.5h1M260 489.5h2M62 490.5h1M258 490.5h2M63 491.5h2M256 491.5h2M65 492.5h1M254 492.5h2M66 493.5h1M252 493.5h2M67 494.5h1M250 494.5h2M68 495.5h2M247 495.5h3M70 496.5h1M245 496.5h2M71 497.5h1M243 497.5h2M72 498.5h1M241 498.5h2M73 499.5h2M237 499.5h4M75 500.5h1M232 500.5h5M76 501.5h1M228 501.5h4M77 502.5h1M225 502.5h3M78 503.5h2M223 503.5h2M80 504.5h1M221 504.5h2M81 505.5h1M218 505.5h3M82 506.5h2M216 506.5h2M84 507.5h1M214 507.5h2M85 508.5h1M212 508.5h2M86 509.5h2M211 509.5h1M88 510.5h2M209 510.5h2M90 511.5h2M208 511.5h1M92 512.5h2M207 512.5h1M94 513.5h3M205 513.5h2M97 514.5h2M203 514.5h2M99 515.5h2M201 515.5h2M101 516.5h3M199 516.5h2M104 517.5h2M193 517.5h6M106 518.5h2M189 518.5h4M108 519.5h3M186 519.5h3M111 520.5h4M183 520.5h3M115 521.5h6M181 521.5h2M121 522.5h7M179 522.5h2M128 523.5h12M177 523.5h2M140 524.5h5M175 524.5h2M145 525.5h15M173 525.5h2M160 526.5h13" stroke="#601040" stroke-width="1" fill="none" shape-rendering="crispEdges"/>
<path d="M761 361.5h1M761 362.5h1M760 363.5h1M760 364.5h1M759 365.5h1M759 366.5h1M758 367.5h1M757 368.5h1M756 369.5h1M755 370.5h1M754 371.5h1M753 372.5h1M752 373.5h1M751 374.5h1M749 375.5h2M748 376.5h1M747 377.5h1M693 378.5h1M745 378.5h2M692 379.5h1M694 379.5h1M744 379.5h1M692 380.5h1M695 380.5h1M743 380.5h1M691 381.5h1M695 381.5h1M741 381.5h2M691 382.5h1M696 382.5h1M740 382.5h1M690 383.5h1M697 383.5h1M739 383.5h1M690 384.5h1M698 384.5h2M737 384.5h2M689 385.5h1M700 385.5h1M736 385.5h1M688 386.5h1M701 386.5h2M734 386.5h2M686 387.5h2M703 387.5h1M732 387.5h2M685 388.5h1M704 388.5h2M730 388.5h2M684 389.5h1M706 389.5h1M728 389.5h2M679 390.5h5M707 390.5h2M714 390.5h14M674 391.5h5M709 391.5h5M671 392.5h3M669 393.5h2M668 394.5h1M667 395.5h1M667 396.5h1M666 397.5h1M665 398.5h1M664 399.5h1M664 400.5h1M663 401.5h1M663 402.5h1M662 403.5h1M662 404.5h1M661 405.5h1M661 406.5h1M660 407.5h1M660 408.5h1M659 409.5h1M659 410.5h1M658 411.5h1M658 412.5h1M657 413.5h1M657 414.5h1M656 415.5h1M656 416.5h1M655 417.5h1M655 418.5h1M654 419.5h1M653 420.5h1M653 421.5h1M652 422.5h1M651 423.5h1M650 424.5h1M650 425.5h1M649 426.5h1M476 427.5h3M648 427.5h1M473 428.5h3M479 428.5h1M648 428.5h1M471 429.5h2M479 429.5h1M647 429.5h1M469 430.5h2M480 430.5h1M646 430.5h1M467 431.5h2M481 431.5h1M645 431.5h1M466 432.5h1M481 432.5h1M645 432.5h1M466 433.5h1M482 433.5h1M644 433.5h1M465 434.5h1M482 434.5h1M643 434.5h1M465 435.5h1M483 435.5h1M642 435.5h1M464 436.5h1M483 436.5h1M641 436.5h1M464 437.5h1M484 437.5h1M641 437.5h1M463 438.5h1M485 438.5h1M640 438.5h1M463 439.5h1M486 439.5h1M639 439.5h1M462 440.5h1M486 440.5h1M638 440.5h1M462 441.5h1M487 441.5h1M636 441.5h2M462 442.5h1M488 442.5h1M634 442.5h2M461 443.5h1M489 443.5h1M632 443.5h2M461 444.5h1M489 444.5h1M630 444.5h2M460 445.5h1M490 445.5h1M627 445.5h3M460 446.5h1M491 446.5h1M625 446.5h2M459 447.5h1M491 447.5h1M623 447.5h2M459 448.5h1M492 448.5h1M621 448.5h2M458 449.5h1M492 449.5h1M619 449.5h2M458 450.5h1M493 450.5h1M618 450.5h1M456 451.5h2M493 451.5h1M618 451.5h1M382 452.5h2M454 452.5h2M494 452.5h1M617 452.5h1M379 453.5h3M384 453.5h2M452 453.5h2M494 453.5h1M617 453.5h1M375 454.5h4M386 454.5h1M450 454.5h2M495 454.5h1M616 454.5h1M371 455.5h4M387 455.5h2M448 455.5h2M496 455.5h1M616 455.5h1M368 456.5h3M389 456.5h2M446 456.5h2M496 456.5h1M615 456.5h1M365 457.5h3M391 457.5h5M444 457.5h2M497 457.5h1M615 457.5h1M363 458.5h2M396 458.5h11M442 458.5h2M497 458.5h1M614 458.5h1M361 459.5h2M407 459.5h4M439 459.5h3M498 459.5h1M614 459.5h1M359 460.5h2M411 460.5h3M435 460.5h4M498 460.5h1M613 460.5h1M355 461.5h4M414 461.5h2M432 461.5h3M499 461.5h1M613 461.5h1M352 462.5h3M416 462.5h3M428 462.5h4M499 462.5h1M612 462.5h1M350 463.5h2M419 463.5h9M500 463.5h1M612 463.5h1M348 464.5h2M500 464.5h1M612 464.5h1M347 465.5h1M501 465.5h1M611 465.5h1M345 466.5h2M502 466.5h1M611 466.5h1M343 467.5h2M502 467.5h1M610 467.5h1M341 468.5h2M503 468.5h1M610 468.5h1M339 469.5h2M503 469.5h1M609 469.5h1M337 470.5h2M504 470.5h1M609 470.5h1M333 471.5h4M505 471.5h1M608 471.5h1M329 472.5h4M505 472.5h1M607 472.5h2M327 473.5h2M506 473.5h1M605 473.5h2M325 474.5h2M506 474.5h1M602 474.5h3M324 475.5h1M507 475.5h1M600 475.5h2M322 476.5h2M508 476.5h1M598 476.5h2M321 477.5h1M509 477.5h1M597 477.5h1M319 478.5h2M510 478.5h1M597 478.5h1M318 479.5h1M510 479.5h1M596 479.5h1M317 480.5h1M511 480.5h1M596 480.5h1M315 481.5h2M512 481.5h1M595 481.5h1M314 482.5h1M513 482.5h1M595 482.5h1M312 483.5h2M514 483.5h1M594 483.5h1M309 484.5h3M514 484.5h1M594 484.5h1M307 485.5h2M515 485.5h1M593 485.5h1M304 486.5h3M516 486.5h1M591 486.5h2M301 487.5h3M516 487.5h1M590 487.5h1M298 488.5h3M517 488.5h1M589 488.5h1M43 489.5h19M295 489.5h3M517 489.5h1M552 489.5h1M587 489.5h2M36 490.5h7M62 490.5h7M292 490.5h3M518 490.5h1M551 490.5h1M553 490.5h1M586 490.5h1M31 491.5h5M69 491.5h5M290 491.5h2M519 491.5h1M550 491.5h1M554 491.5h2M584 491.5h2M24 492.5h7M74 492.5h5M288 492.5h2M519 492.5h1M549 492.5h1M556 492.5h1M582 492.5h2M17 493.5h7M79 493.5h4M286 493.5h2M520 493.5h1M548 493.5h1M557 493.5h9M578 493.5h4M12 494.5h5M83 494.5h7M285 494.5h1M521 494.5h1M547 494.5h1M566 494.5h3M573 494.5h5M0 495.5h12M90 495.5h7M283 495.5h2M521 495.5h1M547 495.5h1M569 495.5h4M97 496.5h4M281 496.5h2M522 496.5h1M546 496.5h1M101 497.5h4M279 497.5h2M523 497.5h1M546 497.5h1M105 498.5h4M276 498.5h3M523 498.5h1M545 498.5h1M109 499.5h4M272 499.5h4M524 499.5h1M545 499.5h1M113 500.5h4M269 500.5h3M525 500.5h2M544 500.5h1M117 501.5h4M266 501.5h3M527 501.5h2M543 501.5h1M121 502.5h3M263 502.5h3M529 502.5h2M541 502.5h2M124 503.5h3M259 503.5h4M531 503.5h2M540 503.5h1M127 504.5h3M256 504.5h3M533 504.5h4M539 504.5h1M130 505.5h3M253 505.5h3M537 505.5h2M133 506.5h4M249 506.5h4M137 507.5h4M246 507.5h3M141 508.5h4M243 508.5h3M145 509.5h4M240 509.5h3M149 510.5h4M237 510.5h3M153 511.5h4M231 511.5h6M157 512.5h4M220 512.5h11M161 513.5h4M211 513.5h9M165 514.5h5M205 514.5h6M170 515.5h6M199 515.5h6M176 516.5h9M193 516.5h6M185 517.5h8" stroke="#ff0000" stroke-width="1" fill="none" shape-rendering="crispEdges"/>
<path d="M761 359.5h1M760 360.5h1M758 361.5h2M757 362.5h1M756 363.5h1M754 364.5h2M752 365.5h2M750 366.5h2M748 367.5h2M746 368.5h2M744 369.5h2M742 370.5h2M741 371.5h1M739 372.5h2M738 373.5h1M736 374.5h2M734 375.5h2M732 376.5h2M730 377.5h2M729 378.5h1M728 379.5h1M726 380.5h2M725 381.5h1M724 382.5h1M722 383.5h2M721 384.5h1M720 385.5h1M718 386.5h2M717 387.5h1M716 388.5h1M714 389.5h2M713 390.5h1M712 391.5h1M711 392.5h1M710 393.5h1M709 394.5h1M708 395.5h1M707 396.5h1M706 397.5h1M705 398.5h1M704 399.5h1M702 400.5h2M700 401.5h2M698 402.5h2M696 403.5h2M694 404.5h2M693 405.5h1M691 406.5h2M689 407.5h2M688 408.5h1M686 409.5h2M680 410.5h6M678 411.5h2M676 412.5h2M674 413.5h2M670 414.5h4M666 415.5h4M662 416.5h4M659 417.5h3M655 418.5h4M652 419.5h3M648 420.5h4M644 421.5h4M481 422.5h14M639 422.5h5M475 423.5h6M495 423.5h4M635 423.5h4M471 424.5h4M499 424.5h4M630 424.5h5M468 425.5h3M503 425.5h4M625 425.5h5M464 426.5h4M507 426.5h4M621 426.5h4M459 427.5h5M511 427.5h4M615 427.5h6M453 428.5h6M515 428.5h4M607 428.5h8M449 429.5h4M519 429.5h4M596 429.5h11M446 430.5h3M523 430.5h4M587 430.5h9M444 431.5h2M527 431.5h5M583 431.5h4M442 432.5h2M532 432.5h5M566 432.5h17M439 433.5h3M537 433.5h5M557 433.5h9M437 434.5h2M542 434.5h15M435 435.5h2M432 436.5h3M430 437.5h2M428 438.5h2M425 439.5h3M422 440.5h3M420 441.5h2M417 442.5h3M415 443.5h2M413 444.5h2M410 445.5h3M406 446.5h4M399 447.5h7M377 448.5h22M373 449.5h4M369 450.5h4M366 451.5h3M362 452.5h4M359 453.5h3M357 454.5h2M356 455.5h1M355 456.5h1M354 457.5h1M350 458.5h4M345 459.5h5M341 460.5h4M339 461.5h2M337 462.5h2M336 463.5h1M335 464.5h1M334 465.5h1M333 466.5h1M333 467.5h1M332 468.5h1M332 469.5h1M331 470.5h1M331 471.5h1M331 472.5h1M330 473.5h1M330 474.5h1M329 475.5h1M328 476.5h1M328 477.5h1M327 478.5h1M326 479.5h1M325 480.5h1M323 481.5h2M322 482.5h1M321 483.5h1M320 484.5h1M320 485.5h1M319 486.5h1M318 487.5h1M318 488.5h1M317 489.5h1M317 490.5h1M315 491.5h2M314 492.5h1M313 493.5h1M311 494.5h2M309 495.5h2M307 496.5h2M305 497.5h2M304 498.5h1M304 499.5h1M303 500.5h1M272 501.5h13M303 501.5h1M266 502.5h6M285 502.5h4M301 502.5h2M263 503.5h3M289 503.5h5M299 503.5h2M261 504.5h2M294 504.5h5M0 505.5h1M258 505.5h3M1 506.5h1M256 506.5h2M1 507.5h1M253 507.5h3M2 508.5h1M251 508.5h2M3 509.5h1M248 509.5h3M3 510.5h1M246 510.5h2M4 511.5h1M243 511.5h3M4 512.5h1M241 512.5h2M5 513.5h1M239 513.5h2M6 514.5h1M237 514.5h2M6 515.5h1M234 515.5h3M7 516.5h1M230 516.5h4M7 517.5h1M227 517.5h3M8 518.5h1M225 518.5h2M8 519.5h1M210 519.5h1M223 519.5h2M9 520.5h1M209 520.5h1M211 520.5h2M220 520.5h3M9 521.5h1M209 521.5h1M213 521.5h2M217 521.5h3M10 522.5h1M208 522.5h1M215 522.5h2M10 523.5h1M207 523.5h1M11 524.5h1M207 524.5h1M12 525.5h1M206 525.5h1M13 526.5h2M52 526.5h2M205 526.5h1M15 527.5h1M48 527.5h4M54 527.5h1M205 527.5h1M16 528.5h1M44 528.5h4M54 528.5h1M204 528.5h1M17 529.5h2M41 529.5h3M55 529.5h1M204 529.5h1M19 530.5h1M39 530.5h2M56 530.5h1M203 530.5h1M20 531.5h1M37 531.5h2M56 531.5h1M203 531.5h1M21 532.5h1M35 532.5h2M57 532.5h1M203 532.5h1M22 533.5h2M33 533.5h2M58 533.5h1M202 533.5h1M24 534.5h1M31 534.5h2M58 534.5h1M202 534.5h1M25 535.5h1M28 535.5h3M59 535.5h1M202 535.5h1M26 536.5h2M59 536.5h1M201 536.5h1M60 537.5h1M201 537.5h1M60 538.5h1M201 538.5h1M61 539.5h1M200 539.5h1M61 540.5h1M200 540.5h1M62 541.5h1M199 541.5h1M62 542.5h1M198 542.5h1M63 543.5h1M198 543.5h1M63 544.5h1M197 544.5h1M64 545.5h1M196 545.5h1M65 546.5h1M189 546.5h7M65 547.5h1M177 547.5h12M66 548.5h1M172 548.5h5M67 549.5h1M170 549.5h2M68 550.5h1M168 550.5h2M68 551.5h1M166 551.5h2M69 552.5h1M165 552.5h1M70 553.5h1M164 553.5h1M71 554.5h2M163 554.5h1M73 555.5h1M162 555.5h1M74 556.5h2M161 556.5h1M76 557.5h2M158 557.5h3M78 558.5h3M142 558.5h5M154 558.5h4M81 559.5h3M140 559.5h2M147 559.5h7M84 560.5h2M120 560.5h3M138 560.5h2M86 561.5h1M118 561.5h2M123 561.5h2M134 561.5h4M87 562.5h1M116 562.5h2M125 562.5h2M130 562.5h4M88 563.5h2M114 563.5h2M127 563.5h3M90 564.5h1M112 564.5h2M91 565.5h2M109 565.5h3M93 566.5h3M107 566.5h2M96 567.5h2M105 567.5h2M98 568.5h2M103 568.5h2M100 569.5h3" stroke="#ff0000" stroke-width="1" fill="none" shape-rendering="crispEdges"/>
<path d="M760 290.5h2M757 291.5h3M754 292.5h3M752 293.5h2M737 294.5h4M750 294.5h2M735 295.5h2M741 295.5h9M733 296.5h2M732 297.5h1M730 298.5h2M729 299.5h1M727 300.5h2M726 301.5h1M725 302.5h1M724 303.5h1M723 304.5h1M722 305.5h1M721 306.5h1M720 307.5h1M719 308.5h1M719 309.5h1M718 310.5h1M717 311.5h1M716 312.5h1M716 313.5h1M715 314.5h1M714 315.5h1M713 316.5h1M712 317.5h1M712 318.5h1M711 319.5h1M710 320.5h1M709 321.5h1M709 322.5h1M708 323.5h1M708 324.5h1M707 325.5h1M707 326.5h1M706 327.5h1M706 328.5h1M706 329.5h1M705 330.5h1M705 331.5h1M704 332.5h1M704 333.5h1M703 334.5h1M703 335.5h1M703 336.5h1M702 337.5h1M702 338.5h1M701 339.5h1M701 340.5h1M700 341.5h1M700 342.5h1M699 343.5h1M699 344.5h1M655 345.5h2M698 345.5h1M653 346.5h2M657 346.5h2M698 346.5h1M652 347.5h1M659 347.5h2M677 347.5h11M697 347.5h1M650 348.5h2M661 348.5h2M675 348.5h2M688 348.5h2M695 348.5h2M649 349.5h1M663 349.5h1M673 349.5h2M690 349.5h2M694 349.5h1M647 350.5h2M664 350.5h2M669 350.5h4M692 350.5h2M643 351.5h4M666 351.5h3M639 352.5h4M637 353.5h2M635 354.5h2M634 355.5h1M632 356.5h2M631 357.5h1M630 358.5h1M629 359.5h1M628 360.5h1M627 361.5h1M627 362.5h1M626 363.5h1M625 364.5h1M624 365.5h1M622 366.5h2M621 367.5h1M609 368.5h3M618 368.5h3M607 369.5h2M612 369.5h6M606 370.5h1M605 371.5h1M605 372.5h1M604 373.5h1M604 374.5h1M603 375.5h1M603 376.5h1M602 377.5h1M602 378.5h1M601 379.5h1M502 380.5h3M601 380.5h1M441 381.5h9M499 381.5h3M505 381.5h2M600 381.5h1M438 382.5h3M450 382.5h4M496 382.5h3M507 382.5h2M599 382.5h1M436 383.5h2M454 383.5h3M491 383.5h5M509 383.5h2M599 383.5h1M435 384.5h1M457 384.5h2M487 384.5h4M511 384.5h2M598 384.5h1M434 385.5h1M459 385.5h2M485 385.5h2M513 385.5h4M598 385.5h1M433 386.5h1M461 386.5h2M483 386.5h2M517 386.5h8M597 386.5h1M431 387.5h2M463 387.5h2M481 387.5h2M525 387.5h2M597 387.5h1M429 388.5h2M465 388.5h2M479 388.5h2M527 388.5h1M596 388.5h1M425 389.5h4M467 389.5h4M476 389.5h3M528 389.5h2M596 389.5h1M422 390.5h3M471 390.5h5M530 390.5h1M595 390.5h1M421 391.5h1M531 391.5h1M594 391.5h1M420 392.5h1M532 392.5h1M593 392.5h1M419 393.5h1M533 393.5h2M592 393.5h1M418 394.5h1M535 394.5h1M591 394.5h1M417 395.5h1M536 395.5h1M590 395.5h1M416 396.5h1M537 396.5h1M589 396.5h1M414 397.5h2M538 397.5h1M587 397.5h2M413 398.5h1M538 398.5h1M585 398.5h2M411 399.5h2M539 399.5h1M583 399.5h2M410 400.5h1M539 400.5h1M582 400.5h1M409 401.5h1M540 401.5h1M581 401.5h1M408 402.5h1M540 402.5h1M580 402.5h1M407 403.5h1M541 403.5h1M579 403.5h1M406 404.5h1M541 404.5h1M578 404.5h1M354 405.5h4M391 405.5h3M404 405.5h2M542 405.5h1M576 405.5h2M352 406.5h2M358 406.5h7M388 406.5h3M394 406.5h2M402 406.5h2M542 406.5h1M575 406.5h1M350 407.5h2M365 407.5h23M396 407.5h2M400 407.5h2M543 407.5h1M574 407.5h1M349 408.5h1M398 408.5h2M543 408.5h1M573 408.5h1M348 409.5h1M544 409.5h1M572 409.5h1M329 410.5h3M347 410.5h1M544 410.5h1M571 410.5h1M326 411.5h3M332 411.5h1M346 411.5h1M544 411.5h1M570 411.5h1M325 412.5h1M333 412.5h1M344 412.5h2M545 412.5h1M568 412.5h2M323 413.5h2M333 413.5h1M342 413.5h2M545 413.5h1M567 413.5h1M322 414.5h1M334 414.5h1M338 414.5h4M546 414.5h1M566 414.5h1M321 415.5h1M335 415.5h3M546 415.5h1M565 415.5h1M319 416.5h2M546 416.5h1M564 416.5h1M317 417.5h2M547 417.5h1M563 417.5h1M315 418.5h2M547 418.5h1M562 418.5h1M314 419.5h1M548 419.5h1M561 419.5h1M312 420.5h2M548 420.5h1M560 420.5h1M311 421.5h1M549 421.5h1M559 421.5h1M309 422.5h2M549 422.5h1M558 422.5h1M307 423.5h2M550 423.5h1M556 423.5h2M305 424.5h2M550 424.5h1M554 424.5h2M304 425.5h1M551 425.5h3M302 426.5h2M551 426.5h1M12 427.5h4M300 427.5h2M8 428.5h4M16 428.5h2M298 428.5h2M6 429.5h2M18 429.5h3M297 429.5h1M5 430.5h1M21 430.5h2M296 430.5h1M3 431.5h2M23 431.5h1M294 431.5h2M2 432.5h1M24 432.5h1M293 432.5h1M1 433.5h1M25 433.5h2M292 433.5h1M0 434.5h1M27 434.5h1M291 434.5h1M28 435.5h1M290 435.5h1M29 436.5h1M289 436.5h1M29 437.5h1M287 437.5h2M30 438.5h1M286 438.5h1M30 439.5h1M285 439.5h1M31 440.5h1M284 440.5h1M31 441.5h1M283 441.5h1M32 442.5h1M282 442.5h1M32 443.5h1M280 443.5h2M33 444.5h1M279 444.5h1M33 445.5h1M278 445.5h1M34 446.5h1M277 446.5h1M34 447.5h1M276 447.5h1M35 448.5h1M275 448.5h1M35 449.5h1M274 449.5h1M36 450.5h1M273 450.5h1M36 451.5h1M272 451.5h1M37 452.5h1M271 452.5h1M38 453.5h1M270 453.5h1M38 454.5h1M269 454.5h1M39 455.5h1M269 455.5h1M40 456.5h1M268 456.5h1M40 457.5h1M267 457.5h1M41 458.5h1M266 458.5h1M42 459.5h1M265 459.5h1M42 460.5h1M263 460.5h2M43 461.5h1M226 461.5h7M262 461.5h1M44 462.5h1M224 462.5h2M233 462.5h29M45 463.5h1M222 463.5h2M45 464.5h1M221 464.5h1M46 465.5h1M220 465.5h1M47 466.5h1M219 466.5h1M48 467.5h1M219 467.5h1M49 468.5h1M218 468.5h1M49 469.5h1M217 469.5h1M50 470.5h1M216 470.5h1M51 471.5h1M215 471.5h1M52 472.5h1M215 472.5h1M53 473.5h2M58 473.5h3M214 473.5h1M55 474.5h3M61 474.5h2M213 474.5h1M63 475.5h2M196 475.5h3M213 475.5h1M65 476.5h3M194 476.5h2M199 476.5h2M212 476.5h1M68 477.5h6M192 477.5h2M201 477.5h2M211 477.5h1M74 478.5h15M189 478.5h3M203 478.5h2M211 478.5h1M89 479.5h2M186 479.5h3M205 479.5h2M209 479.5h2M91 480.5h3M184 480.5h2M207 480.5h2M94 481.5h2M181 481.5h3M96 482.5h2M178 482.5h3M98 483.5h2M175 483.5h3M100 484.5h2M173 484.5h2M102 485.5h1M172 485.5h1M103 486.5h2M170 486.5h2M105 487.5h1M169 487.5h1M106 488.5h1M168 488.5h1M107 489.5h2M166 489.5h2M109 490.5h1M162 490.5h4M110 491.5h1M160 491.5h2M111 492.5h1M158 492.5h2M112 493.5h2M157 493.5h1M114 494.5h1M155 494.5h2M115 495.5h1M154 495.5h1M116 496.5h1M152 496.5h2M117 497.5h1M151 497.5h1M118 498.5h1M149 498.5h2M119 499.5h1M147 499.5h2M120 500.5h1M146 500.5h1M121 501.5h1M144 501.5h2M122 502.5h2M142 502.5h2M124 503.5h3M140 503.5h2M127 504.5h3M138 504.5h2M130 505.5h8" stroke="#ff0000" stroke-width="1" fill="none" shape-rendering="crispEdges"/>
<path d="M758 326.5h1M757 327.5h1M754 328.5h1M753 329.5h1M751 330.5h1M750 331.5h1M747 332.5h1M746 333.5h1M743 334.5h2M740 335.5h1M739 336.5h1M737 337.5h1M736 338.5h1M733 339.5h1M732 340.5h1M729 342.5h1M728 343.5h1M726 344.5h1M725 345.5h1M722 347.5h1M721 348.5h1M719 349.5h1M718 350.5h1M715 351.5h1M714 352.5h1M712 353.5h1M711 354.5h1M708 356.5h1M707 357.5h1M705 358.5h1M704 359.5h1M701 361.5h1M700 362.5h1M698 363.5h1M697 364.5h1M694 365.5h1M693 366.5h1M690 367.5h2M686 368.5h2M679 369.5h3M683 369.5h2M672 370.5h3M676 370.5h2M668 371.5h2M666 372.5h1M665 373.5h1M662 374.5h1M661 375.5h1M659 377.5h1M658 378.5h1M655 380.5h1M654 381.5h1M652 382.5h1M651 383.5h1M648 385.5h1M647 386.5h1M645 388.5h1M644 389.5h1M641 392.5h1M640 393.5h1M638 394.5h1M637 395.5h1M634 398.5h1M633 399.5h1M631 400.5h1M630 401.5h1M627 402.5h1M626 403.5h1M624 404.5h1M623 405.5h1M620 406.5h1M619 407.5h1M474 408.5h3M478 408.5h2M471 409.5h2M481 409.5h1M468 410.5h1M482 410.5h1M467 411.5h1M485 411.5h1M616 411.5h1M465 412.5h1M486 412.5h1M615 412.5h1M464 413.5h1M488 413.5h1M461 414.5h1M489 414.5h1M613 414.5h1M460 415.5h1M612 415.5h1M457 416.5h2M492 416.5h1M454 417.5h1M493 417.5h1M450 418.5h4M495 418.5h1M446 419.5h2M496 419.5h1M609 419.5h1M439 420.5h5M608 420.5h1M436 421.5h1M499 421.5h1M435 422.5h1M500 422.5h1M606 422.5h1M432 423.5h2M605 423.5h1M425 424.5h5M503 424.5h2M422 425.5h1M506 425.5h1M421 426.5h1M507 426.5h1M602 426.5h1M418 427.5h2M601 427.5h1M365 428.5h6M372 428.5h6M379 428.5h4M414 428.5h2M358 429.5h5M383 429.5h1M412 429.5h1M510 429.5h1M599 429.5h1M355 430.5h1M386 430.5h2M411 430.5h1M511 430.5h1M598 430.5h1M354 431.5h1M390 431.5h2M407 431.5h2M351 432.5h2M393 432.5h3M397 432.5h6M404 432.5h2M513 432.5h1M348 433.5h1M514 433.5h1M595 433.5h1M347 434.5h1M594 434.5h1M344 435.5h2M517 435.5h1M341 436.5h1M518 436.5h1M592 436.5h1M340 437.5h1M591 437.5h1M337 438.5h2M520 438.5h1M334 439.5h1M521 439.5h1M588 439.5h1M333 440.5h1M587 440.5h1M330 441.5h1M524 441.5h1M584 441.5h2M329 442.5h1M525 442.5h1M527 443.5h1M581 443.5h1M327 444.5h1M528 444.5h1M580 444.5h1M326 445.5h1M531 445.5h1M532 446.5h1M578 446.5h1M534 447.5h1M577 447.5h1M323 448.5h1M535 448.5h1M322 449.5h1M574 449.5h1M320 450.5h1M538 450.5h1M573 450.5h1M319 451.5h1M539 451.5h1M571 451.5h1M541 452.5h1M570 452.5h1M316 453.5h1M542 453.5h1M566 453.5h2M315 454.5h1M563 454.5h2M545 455.5h1M560 455.5h1M313 456.5h1M546 456.5h1M559 456.5h1M312 457.5h1M548 457.5h2M556 457.5h1M309 458.5h1M552 458.5h4M308 459.5h1M306 460.5h1M305 461.5h1M302 463.5h1M301 464.5h1M298 465.5h2M295 466.5h1M294 467.5h1M1 468.5h1M291 468.5h2M2 469.5h1M287 469.5h2M5 470.5h2M284 470.5h2M8 471.5h1M281 471.5h1M9 472.5h1M280 472.5h1M277 473.5h2M12 474.5h2M15 475.5h1M274 475.5h1M16 476.5h1M273 476.5h1M270 477.5h1M19 478.5h1M269 478.5h1M20 479.5h1M267 479.5h1M22 480.5h1M266 480.5h1M23 481.5h1M262 481.5h2M259 482.5h2M26 483.5h1M255 483.5h2M27 484.5h1M252 484.5h2M29 485.5h1M245 485.5h5M30 486.5h1M241 486.5h2M33 487.5h1M238 487.5h2M34 488.5h1M234 488.5h2M36 489.5h1M231 489.5h2M37 490.5h1M227 490.5h2M224 491.5h2M40 492.5h1M220 492.5h2M41 493.5h1M43 494.5h1M217 494.5h1M44 495.5h1M216 495.5h1M47 496.5h1M214 496.5h1M48 497.5h1M213 497.5h1M51 499.5h1M210 499.5h1M52 500.5h1M209 500.5h1M54 501.5h1M55 502.5h1M207 502.5h1M206 503.5h1M58 504.5h1M59 505.5h1M203 505.5h1M61 506.5h1M202 506.5h1M62 507.5h1M200 507.5h1M199 508.5h1M196 509.5h1M65 510.5h1M195 510.5h1M66 511.5h1M192 511.5h2M68 512.5h1M189 512.5h1M69 513.5h1M188 513.5h1M72 514.5h1M185 514.5h2M73 515.5h1M178 515.5h5M75 516.5h1M174 516.5h2M76 517.5h1M172 517.5h1M79 518.5h2M171 518.5h1M82 519.5h2M168 519.5h1M86 520.5h2M167 520.5h1M89 521.5h1M165 521.5h1M90 522.5h1M164 522.5h1M93 523.5h2M161 523.5h1M96 524.5h1M160 524.5h1M97 525.5h1M156 525.5h2M100 526.5h2M153 526.5h2M103 527.5h2M150 527.5h1M107 528.5h2M149 528.5h1M111 529.5h5M146 529.5h2M118 530.5h2M142 530.5h2M121 531.5h1M140 531.5h1M122 532.5h1M139 532.5h1M125 533.5h5M135 533.5h2M132 534.5h2" stroke="#ff0000" stroke-width="1" fill="none" shape-rendering="crispEdges"/>
<path d="M760 319.5h2M755 320.5h5M749 321.5h6M740 322.5h9M739 323.5h1M737 324.5h2M736 325.5h1M735 326.5h1M734 327.5h1M733 328.5h1M732 329.5h1M731 330.5h1M730 331.5h1M729 332.5h1M728 333.5h1M726 334.5h2M725 335.5h1M724 336.5h1M723 337.5h1M722 338.5h1M720 339.5h2M719 340.5h1M718 341.5h1M717 342.5h1M716 343.5h1M715 344.5h1M714 345.5h1M713 346.5h1M712 347.5h1M711 348.5h1M710 349.5h1M709 350.5h1M708 351.5h1M707 352.5h1M706 353.5h1M705 354.5h1M704 355.5h1M703 356.5h1M702 357.5h1M701 358.5h1M700 359.5h1M698 360.5h2M696 361.5h2M686 362.5h10M679 363.5h7M672 364.5h7M668 365.5h4M666 366.5h2M664 367.5h2M663 368.5h1M661 369.5h2M659 370.5h2M657 371.5h2M655 372.5h2M653 373.5h2M651 374.5h2M648 375.5h3M645 376.5h3M643 377.5h2M641 378.5h2M640 379.5h1M638 380.5h2M636 381.5h2M635 382.5h1M634 383.5h1M633 384.5h1M632 385.5h1M631 386.5h1M630 387.5h1M629 388.5h1M628 389.5h1M627 390.5h1M626 391.5h1M626 392.5h1M625 393.5h1M624 394.5h1M623 395.5h1M622 396.5h1M620 397.5h2M619 398.5h1M618 399.5h1M616 400.5h2M615 401.5h1M614 402.5h1M612 403.5h2M611 404.5h1M610 405.5h1M442 406.5h5M609 406.5h1M440 407.5h2M447 407.5h4M608 407.5h1M438 408.5h2M451 408.5h2M607 408.5h1M437 409.5h1M453 409.5h2M606 409.5h1M436 410.5h1M455 410.5h4M474 410.5h3M605 410.5h1M435 411.5h1M459 411.5h6M470 411.5h4M477 411.5h2M604 411.5h1M434 412.5h1M465 412.5h5M479 412.5h2M603 412.5h1M433 413.5h1M481 413.5h1M602 413.5h1M432 414.5h1M482 414.5h1M601 414.5h1M431 415.5h1M483 415.5h2M599 415.5h2M430 416.5h1M485 416.5h1M598 416.5h1M429 417.5h1M486 417.5h1M597 417.5h1M428 418.5h1M487 418.5h1M596 418.5h1M426 419.5h2M488 419.5h2M595 419.5h1M425 420.5h1M490 420.5h1M594 420.5h1M423 421.5h2M491 421.5h1M593 421.5h1M422 422.5h1M492 422.5h2M592 422.5h1M354 423.5h9M421 423.5h1M494 423.5h1M591 423.5h1M352 424.5h2M363 424.5h3M419 424.5h2M495 424.5h1M590 424.5h1M350 425.5h2M366 425.5h2M418 425.5h1M496 425.5h1M589 425.5h1M348 426.5h2M368 426.5h3M417 426.5h1M497 426.5h2M588 426.5h1M346 427.5h2M371 427.5h2M416 427.5h1M499 427.5h1M587 427.5h1M345 428.5h1M373 428.5h3M415 428.5h1M500 428.5h1M586 428.5h1M344 429.5h1M376 429.5h3M414 429.5h1M501 429.5h1M585 429.5h1M342 430.5h2M379 430.5h3M413 430.5h1M502 430.5h1M584 430.5h1M341 431.5h1M382 431.5h3M412 431.5h1M503 431.5h1M583 431.5h1M333 432.5h8M385 432.5h2M411 432.5h1M504 432.5h1M582 432.5h1M331 433.5h2M387 433.5h2M410 433.5h1M505 433.5h1M580 433.5h2M329 434.5h2M389 434.5h2M409 434.5h1M506 434.5h1M579 434.5h1M327 435.5h2M391 435.5h2M408 435.5h1M507 435.5h1M578 435.5h1M326 436.5h1M393 436.5h2M406 436.5h2M508 436.5h1M576 436.5h2M324 437.5h2M395 437.5h2M405 437.5h1M509 437.5h1M575 437.5h1M322 438.5h2M397 438.5h8M509 438.5h1M574 438.5h1M321 439.5h1M510 439.5h1M573 439.5h1M319 440.5h2M511 440.5h1M572 440.5h1M317 441.5h2M511 441.5h1M571 441.5h1M316 442.5h1M512 442.5h1M570 442.5h1M314 443.5h2M513 443.5h1M569 443.5h1M312 444.5h2M513 444.5h1M568 444.5h1M310 445.5h2M514 445.5h1M567 445.5h1M308 446.5h2M515 446.5h1M566 446.5h1M306 447.5h2M515 447.5h1M565 447.5h1M305 448.5h1M516 448.5h1M564 448.5h1M304 449.5h1M516 449.5h1M563 449.5h1M303 450.5h1M517 450.5h1M561 450.5h2M301 451.5h2M518 451.5h1M560 451.5h1M300 452.5h1M518 452.5h1M559 452.5h1M299 453.5h1M519 453.5h1M558 453.5h1M298 454.5h1M519 454.5h1M557 454.5h1M297 455.5h1M520 455.5h1M556 455.5h1M295 456.5h2M521 456.5h1M556 456.5h1M294 457.5h1M522 457.5h1M555 457.5h1M293 458.5h1M523 458.5h1M554 458.5h1M291 459.5h2M523 459.5h1M553 459.5h1M290 460.5h1M524 460.5h1M552 460.5h1M289 461.5h1M525 461.5h1M550 461.5h2M288 462.5h1M526 462.5h2M549 462.5h1M287 463.5h1M528 463.5h2M548 463.5h1M286 464.5h1M530 464.5h3M546 464.5h2M285 465.5h1M533 465.5h3M544 465.5h2M284 466.5h1M536 466.5h3M542 466.5h2M283 467.5h1M539 467.5h3M282 468.5h1M0 469.5h1M280 469.5h2M1 470.5h1M279 470.5h1M1 471.5h1M278 471.5h1M2 472.5h1M277 472.5h1M3 473.5h1M276 473.5h1M3 474.5h1M274 474.5h2M4 475.5h1M273 475.5h1M4 476.5h1M272 476.5h1M5 477.5h1M270 477.5h2M6 478.5h1M247 478.5h5M268 478.5h2M7 479.5h1M241 479.5h6M252 479.5h3M266 479.5h2M7 480.5h1M237 480.5h4M255 480.5h3M263 480.5h3M8 481.5h1M234 481.5h3M258 481.5h5M9 482.5h1M225 482.5h9M10 483.5h1M223 483.5h2M10 484.5h1M222 484.5h1M11 485.5h1M220 485.5h2M12 486.5h1M219 486.5h1M13 487.5h1M217 487.5h2M14 488.5h1M216 488.5h1M15 489.5h1M215 489.5h1M15 490.5h1M213 490.5h2M16 491.5h1M212 491.5h1M17 492.5h1M211 492.5h1M18 493.5h1M209 493.5h2M19 494.5h1M207 494.5h2M20 495.5h1M205 495.5h2M21 496.5h1M203 496.5h2M22 497.5h1M201 497.5h2M23 498.5h1M199 498.5h2M24 499.5h1M196 499.5h3M25 500.5h1M193 500.5h3M26 501.5h1M188 501.5h5M27 502.5h2M184 502.5h4M29 503.5h2M51 503.5h3M182 503.5h2M31 504.5h3M49 504.5h2M54 504.5h2M180 504.5h2M34 505.5h4M44 505.5h5M56 505.5h2M179 505.5h1M38 506.5h6M58 506.5h1M177 506.5h2M59 507.5h1M175 507.5h2M60 508.5h1M174 508.5h1M61 509.5h2M174 509.5h1M63 510.5h1M173 510.5h1M64 511.5h1M173 511.5h1M65 512.5h1M172 512.5h1M66 513.5h1M172 513.5h1M67 514.5h1M171 514.5h1M68 515.5h2M170 515.5h1M70 516.5h1M168 516.5h2M71 517.5h1M167 517.5h1M72 518.5h1M166 518.5h1M73 519.5h2M164 519.5h2M75 520.5h1M162 520.5h2M76 521.5h1M160 521.5h2M77 522.5h1M154 522.5h6M78 523.5h1M149 523.5h5M79 524.5h1M145 524.5h4M80 525.5h2M142 525.5h3M82 526.5h1M140 526.5h2M83 527.5h1M138 527.5h2M84 528.5h1M117 528.5h6M137 528.5h1M85 529.5h1M115 529.5h2M123 529.5h2M135 529.5h2M86 530.5h1M113 530.5h2M125 530.5h2M133 530.5h2M87 531.5h1M112 531.5h1M127 531.5h6M88 532.5h1M110 532.5h2M89 533.5h1M109 533.5h1M90 534.5h1M108 534.5h1M91 535.5h1M106 535.5h2M92 536.5h1M104 536.5h2M93 537.5h1M103 537.5h1M94 538.5h2M101 538.5h2M96 539.5h2M99 539.5h2M98 540.5h1" stroke="#2020ff" stroke-width="1" fill="none" shape-rendering="crispEdges"/>
<g shape-rendering="crispEdges"><rect x="758" y="297" width="6" height="7" fill="#40e820"/><g fill="#189818"><rect x="760" y="298" width="2" height="1"/><rect x="759" y="299" width="1" height="3"/><rect x="762" y="299" width="1" height="3"/><rect x="760" y="302" width="2" height="1"/></g></g>
</g>
<g shape-rendering="crispEdges">
<rect x="0" y="714" width="3" height="87" fill="#900030"/>
<rect x="4" y="736" width="2" height="65" fill="#000"/>
<rect x="7" y="737" width="3" height="64" fill="#000"/>
<rect x="11" y="717" width="2" height="84" fill="#900030"/>
<rect x="14" y="721" width="3" height="80" fill="#000"/>
<rect x="18" y="719" width="2" height="82" fill="#000"/>
<rect x="21" y="718" width="3" height="83" fill="#900030"/>
<rect x="25" y="723" width="2" height="78" fill="#000"/>
<rect x="28" y="730" width="3" height="71" fill="#000"/>
<rect x="32" y="733" width="2" height="68" fill="#000"/>
<rect x="35" y="730" width="3" height="71" fill="#000"/>
<rect x="39" y="738" width="2" height="63" fill="#900030"/>
<rect x="42" y="743" width="3" height="58" fill="#000"/>
<rect x="46" y="725" width="3" height="76" fill="#000"/>
<rect x="50" y="723" width="2" height="78" fill="#900030"/>
<rect x="53" y="710" width="3" height="91" fill="#900030"/>
<rect x="57" y="697" width="2" height="104" fill="#900030"/>
<rect x="60" y="717" width="3" height="84" fill="#000"/>
<rect x="64" y="720" width="2" height="81" fill="#000"/>
<rect x="67" y="716" width="3" height="85" fill="#900030"/>
<rect x="71" y="713" width="2" height="88" fill="#000"/>
<rect x="74" y="721" width="3" height="80" fill="#900030"/>
<rect x="78" y="733" width="2" height="68" fill="#000"/>
<rect x="81" y="726" width="3" height="75" fill="#900030"/>
<rect x="85" y="720" width="2" height="81" fill="#900030"/>
<rect x="88" y="717" width="3" height="84" fill="#900030"/>
<rect x="92" y="712" width="2" height="89" fill="#000"/>
<rect x="95" y="726" width="3" height="75" fill="#000"/>
<rect x="99" y="721" width="2" height="80" fill="#900030"/>
<rect x="102" y="715" width="3" height="86" fill="#000"/>
<rect x="106" y="725" width="3" height="76" fill="#900030"/>
<rect x="110" y="736" width="2" height="65" fill="#900030"/>
<rect x="113" y="736" width="3" height="65" fill="#000"/>
<rect x="117" y="731" width="2" height="70" fill="#900030"/>
<rect x="120" y="733" width="3" height="68" fill="#000"/>
<rect x="124" y="726" width="2" height="75" fill="#900030"/>
<rect x="127" y="719" width="3" height="82" fill="#900030"/>
<rect x="131" y="731" width="2" height="70" fill="#000"/>
<rect x="134" y="730" width="3" height="71" fill="#000"/>
<rect x="138" y="716" width="2" height="85" fill="#000"/>
<rect x="141" y="735" width="3" height="66" fill="#000"/>
<rect x="145" y="740" width="2" height="61" fill="#900030"/>
<rect x="148" y="741" width="3" height="60" fill="#000"/>
<rect x="152" y="740" width="2" height="61" fill="#900030"/>
<rect x="155" y="738" width="3" height="63" fill="#900030"/>
<rect x="159" y="739" width="3" height="62" fill="#000"/>
<rect x="163" y="751" width="2" height="50" fill="#000"/>
<rect x="166" y="731" width="3" height="70" fill="#900030"/>
<rect x="170" y="734" width="2" height="67" fill="#000"/>
<rect x="173" y="734" width="3" height="67" fill="#000"/>
<rect x="177" y="740" width="2" height="61" fill="#900030"/>
<rect x="180" y="745" width="3" height="56" fill="#000"/>
<rect x="184" y="732" width="2" height="69" fill="#000"/>
<rect x="187" y="737" width="3" height="64" fill="#900030"/>
<rect x="191" y="733" width="2" height="68" fill="#000"/>
<rect x="194" y="741" width="3" height="60" fill="#900030"/>
<rect x="198" y="740" width="2" height="61" fill="#000"/>
<rect x="201" y="738" width="3" height="63" fill="#000"/>
<rect x="205" y="735" width="2" height="66" fill="#000"/>
<rect x="208" y="736" width="3" height="65" fill="#000"/>
<rect x="212" y="710" width="2" height="91" fill="#000"/>
<rect x="215" y="740" width="3" height="61" fill="#900030"/>
<rect x="219" y="739" width="3" height="62" fill="#900030"/>
<rect x="223" y="736" width="2" height="65" fill="#000"/>
<rect x="226" y="726" width="3" height="75" fill="#900030"/>
<rect x="230" y="713" width="2" height="88" fill="#900030"/>
<rect x="233" y="736" width="3" height="65" fill="#000"/>
<rect x="237" y="736" width="2" height="65" fill="#000"/>
<rect x="240" y="736" width="3" height="65" fill="#900030"/>
<rect x="244" y="723" width="2" height="78" fill="#900030"/>
<rect x="247" y="743" width="3" height="58" fill="#000"/>
<rect x="251" y="735" width="2" height="66" fill="#000"/>
<rect x="254" y="732" width="3" height="69" fill="#900030"/>
<rect x="258" y="728" width="2" height="73" fill="#000"/>
<rect x="261" y="732" width="3" height="69" fill="#000"/>
<rect x="265" y="734" width="2" height="67" fill="#000"/>
<rect x="268" y="732" width="3" height="69" fill="#000"/>
<rect x="272" y="736" width="3" height="65" fill="#900030"/>
<rect x="276" y="726" width="2" height="75" fill="#000"/>
<rect x="279" y="738" width="3" height="63" fill="#000"/>
<rect x="283" y="743" width="2" height="58" fill="#900030"/>
<rect x="286" y="727" width="3" height="74" fill="#000"/>
<rect x="290" y="726" width="2" height="75" fill="#000"/>
<rect x="293" y="722" width="3" height="79" fill="#900030"/>
<rect x="297" y="735" width="2" height="66" fill="#000"/>
<rect x="300" y="739" width="3" height="62" fill="#900030"/>
<rect x="304" y="730" width="2" height="71" fill="#000"/>
<rect x="307" y="732" width="3" height="69" fill="#000"/>
<rect x="311" y="726" width="2" height="75" fill="#000"/>
<rect x="314" y="735" width="3" height="66" fill="#900030"/>
<rect x="318" y="737" width="2" height="64" fill="#000"/>
<rect x="321" y="728" width="3" height="73" fill="#000"/>
<rect x="325" y="729" width="2" height="72" fill="#000"/>
<rect x="328" y="729" width="3" height="72" fill="#900030"/>
<rect x="332" y="729" width="3" height="72" fill="#900030"/>
<rect x="336" y="736" width="2" height="65" fill="#900030"/>
<rect x="339" y="732" width="3" height="69" fill="#000"/>
<rect x="343" y="721" width="2" height="80" fill="#000"/>
<rect x="346" y="732" width="3" height="69" fill="#000"/>
<rect x="350" y="739" width="2" height="62" fill="#900030"/>
<rect x="353" y="745" width="3" height="56" fill="#000"/>
<rect x="357" y="735" width="2" height="66" fill="#900030"/>
<rect x="360" y="733" width="3" height="68" fill="#900030"/>
<rect x="364" y="734" width="2" height="67" fill="#900030"/>
<rect x="367" y="743" width="3" height="58" fill="#000"/>
<rect x="371" y="743" width="2" height="58" fill="#000"/>
<rect x="374" y="740" width="3" height="61" fill="#900030"/>
<rect x="378" y="732" width="2" height="69" fill="#900030"/>
<rect x="381" y="744" width="3" height="57" fill="#000"/>
<rect x="385" y="745" width="3" height="56" fill="#900030"/>
<rect x="389" y="743" width="2" height="58" fill="#000"/>
<rect x="392" y="732" width="3" height="69" fill="#900030"/>
<rect x="396" y="715" width="2" height="86" fill="#000"/>
<rect x="399" y="720" width="3" height="81" fill="#000"/>
<rect x="403" y="741" width="2" height="60" fill="#900030"/>
<rect x="406" y="734" width="3" height="67" fill="#000"/>
<rect x="410" y="730" width="2" height="71" fill="#000"/>
<rect x="413" y="732" width="3" height="69" fill="#900030"/>
<rect x="417" y="731" width="2" height="70" fill="#000"/>
<rect x="420" y="734" width="3" height="67" fill="#900030"/>
<rect x="424" y="729" width="2" height="72" fill="#900030"/>
<rect x="427" y="730" width="3" height="71" fill="#900030"/>
<rect x="431" y="727" width="2" height="74" fill="#000"/>
<rect x="434" y="685" width="3" height="116" fill="#000"/>
<rect x="438" y="726" width="2" height="75" fill="#900030"/>
<rect x="441" y="718" width="3" height="83" fill="#900030"/>
<rect x="445" y="708" width="3" height="93" fill="#900030"/>
<rect x="449" y="712" width="2" height="89" fill="#000"/>
<rect x="452" y="728" width="3" height="73" fill="#900030"/>
<rect x="456" y="727" width="2" height="74" fill="#000"/>
<rect x="459" y="730" width="3" height="71" fill="#900030"/>
<rect x="463" y="725" width="2" height="76" fill="#000"/>
<rect x="466" y="723" width="3" height="78" fill="#000"/>
<rect x="470" y="727" width="2" height="74" fill="#000"/>
<rect x="473" y="727" width="3" height="74" fill="#900030"/>
<rect x="477" y="718" width="2" height="83" fill="#900030"/>
<rect x="480" y="709" width="3" height="92" fill="#900030"/>
<rect x="484" y="698" width="2" height="103" fill="#900030"/>
<rect x="487" y="724" width="3" height="77" fill="#000"/>
<rect x="491" y="724" width="2" height="77" fill="#900030"/>
<rect x="494" y="718" width="3" height="83" fill="#900030"/>
<rect x="498" y="710" width="3" height="91" fill="#900030"/>
<rect x="502" y="714" width="2" height="87" fill="#900030"/>
<rect x="505" y="720" width="3" height="81" fill="#000"/>
<rect x="509" y="728" width="2" height="73" fill="#000"/>
<rect x="512" y="723" width="3" height="78" fill="#900030"/>
<rect x="516" y="702" width="2" height="99" fill="#000"/>
<rect x="519" y="707" width="3" height="94" fill="#900030"/>
<rect x="523" y="712" width="2" height="89" fill="#000"/>
<rect x="526" y="722" width="3" height="79" fill="#000"/>
<rect x="530" y="719" width="2" height="82" fill="#900030"/>
<rect x="533" y="713" width="3" height="88" fill="#900030"/>
<rect x="537" y="716" width="2" height="85" fill="#900030"/>
<rect x="540" y="717" width="3" height="84" fill="#000"/>
<rect x="544" y="710" width="2" height="91" fill="#000"/>
<rect x="547" y="715" width="3" height="86" fill="#900030"/>
<rect x="551" y="706" width="2" height="95" fill="#000"/>
<rect x="554" y="705" width="3" height="96" fill="#000"/>
<rect x="558" y="728" width="3" height="73" fill="#900030"/>
<rect x="562" y="731" width="2" height="70" fill="#000"/>
<rect x="565" y="734" width="3" height="67" fill="#900030"/>
<rect x="569" y="724" width="2" height="77" fill="#000"/>
<rect x="572" y="717" width="3" height="84" fill="#000"/>
<rect x="576" y="739" width="2" height="62" fill="#000"/>
<rect x="579" y="734" width="3" height="67" fill="#900030"/>
<rect x="583" y="720" width="2" height="81" fill="#900030"/>
<rect x="586" y="725" width="3" height="76" fill="#000"/>
<rect x="590" y="720" width="2" height="81" fill="#000"/>
<rect x="593" y="715" width="3" height="86" fill="#000"/>
<rect x="597" y="727" width="2" height="74" fill="#000"/>
<rect x="600" y="720" width="3" height="81" fill="#000"/>
<rect x="604" y="732" width="2" height="69" fill="#000"/>
<rect x="607" y="775" width="3" height="26" fill="#000"/>
<rect x="611" y="729" width="2" height="72" fill="#900030"/>
<rect x="614" y="724" width="3" height="77" fill="#000"/>
<rect x="618" y="716" width="3" height="85" fill="#900030"/>
<rect x="622" y="713" width="2" height="88" fill="#000"/>
<rect x="625" y="728" width="3" height="73" fill="#000"/>
<rect x="629" y="720" width="2" height="81" fill="#900030"/>
<rect x="632" y="725" width="3" height="76" fill="#000"/>
<rect x="636" y="725" width="2" height="76" fill="#900030"/>
<rect x="639" y="721" width="3" height="80" fill="#000"/>
<rect x="643" y="734" width="2" height="67" fill="#000"/>
<rect x="646" y="734" width="3" height="67" fill="#000"/>
<rect x="650" y="716" width="2" height="85" fill="#000"/>
<rect x="653" y="722" width="3" height="79" fill="#000"/>
<rect x="657" y="725" width="2" height="76" fill="#900030"/>
<rect x="660" y="702" width="3" height="99" fill="#900030"/>
<rect x="664" y="722" width="2" height="79" fill="#900030"/>
<rect x="667" y="731" width="3" height="70" fill="#900030"/>
<rect x="671" y="728" width="3" height="73" fill="#000"/>
<rect x="675" y="737" width="2" height="64" fill="#000"/>
<rect x="678" y="756" width="3" height="45" fill="#000"/>
<rect x="682" y="746" width="2" height="55" fill="#900030"/>
<rect x="685" y="750" width="3" height="51" fill="#000"/>
<rect x="689" y="752" width="2" height="49" fill="#900030"/>
<rect x="692" y="749" width="3" height="52" fill="#900030"/>
<rect x="696" y="709" width="2" height="92" fill="#000"/>
<rect x="699" y="713" width="3" height="88" fill="#000"/>
<rect x="703" y="715" width="2" height="86" fill="#900030"/>
<rect x="706" y="716" width="3" height="85" fill="#000"/>
<rect x="710" y="721" width="2" height="80" fill="#000"/>
<rect x="713" y="718" width="3" height="83" fill="#900030"/>
<rect x="717" y="717" width="2" height="84" fill="#000"/>
<rect x="720" y="719" width="3" height="82" fill="#900030"/>
<rect x="724" y="723" width="2" height="78" fill="#000"/>
<rect x="727" y="722" width="3" height="79" fill="#900030"/>
<rect x="731" y="720" width="3" height="81" fill="#900030"/>
<rect x="735" y="716" width="2" height="85" fill="#000"/>
<rect x="738" y="699" width="3" height="102" fill="#900030"/>
<rect x="742" y="722" width="2" height="79" fill="#000"/>
<rect x="745" y="711" width="3" height="90" fill="#000"/>
<rect x="749" y="709" width="2" height="92" fill="#900030"/>
<rect x="752" y="702" width="3" height="99" fill="#000"/>
<rect x="756" y="708" width="2" height="93" fill="#000"/>
<rect x="759" y="757" width="3" height="44" fill="#000"/>
</g>
<path d="M549 721.5h9M543 722.5h6M558 722.5h14M598 722.5h6M752 722.5h6M521 723.5h22M572 723.5h26M604 723.5h2M746 723.5h6M758 723.5h4M66 724.5h50M513 724.5h8M606 724.5h4M622 724.5h56M740 724.5h6M59 725.5h7M116 725.5h31M502 725.5h11M610 725.5h12M678 725.5h2M717 725.5h23M20 726.5h27M57 726.5h2M147 726.5h6M491 726.5h11M680 726.5h3M706 726.5h11M0 727.5h20M47 727.5h10M153 727.5h14M483 727.5h8M683 727.5h4M702 727.5h4M167 728.5h10M472 728.5h11M687 728.5h15M177 729.5h13M457 729.5h15M190 730.5h51M322 730.5h13M445 730.5h12M241 731.5h41M287 731.5h15M312 731.5h10M335 731.5h26M435 731.5h10M282 732.5h5M302 732.5h10M361 732.5h12M407 732.5h28M373 733.5h8M392 733.5h15M381 734.5h11" stroke="#006838" stroke-width="1" fill="none" shape-rendering="crispEdges"/>
<rect x="711" y="837" width="2" height="2" fill="#900030"/>
<g fill="none" stroke="#ff8000" stroke-width="2" shape-rendering="crispEdges">
<ellipse cx="342.9" cy="409.5" rx="17.8" ry="21.3"/>
<ellipse cx="395" cy="452" rx="16.4" ry="16.0"/>
<ellipse cx="427.5" cy="395" rx="18.0" ry="10.8"/>
<ellipse cx="453.5" cy="428.7" rx="11.2" ry="9.6"/>
<ellipse cx="475" cy="395.4" rx="12.6" ry="11.2"/>
<ellipse cx="651.4" cy="352.8" rx="14.2" ry="18.8"/>
<ellipse cx="697.5" cy="371.5" rx="14.4" ry="12.5"/>
<ellipse cx="717.4" cy="308.3" rx="12.0" ry="13.7"/>
<ellipse cx="742.6" cy="338.5" rx="12.2" ry="9.2"/>
<ellipse cx="761.2" cy="296" rx="10.3" ry="11.5"/>
<ellipse cx="745.5" cy="706" rx="19.5" ry="50.0"/>
</g>
<g fill="#000" shape-rendering="crispEdges">
<rect x="773" y="2" width="1" height="1"/><rect x="772" y="3" width="2" height="1"/><rect x="773" y="4" width="1" height="1"/><rect x="773" y="5" width="1" height="1"/><rect x="773" y="6" width="1" height="1"/><rect x="773" y="7" width="1" height="1"/><rect x="773" y="8" width="1" height="1"/><rect x="777" y="2" width="3" height="1"/><rect x="776" y="3" width="1" height="1"/><rect x="780" y="3" width="1" height="1"/><rect x="776" y="4" width="1" height="1"/><rect x="780" y="4" width="1" height="1"/><rect x="776" y="5" width="1" height="1"/><rect x="780" y="5" width="1" height="1"/><rect x="776" y="6" width="1" height="1"/><rect x="780" y="6" width="1" height="1"/><rect x="776" y="7" width="1" height="1"/><rect x="780" y="7" width="1" height="1"/><rect x="777" y="8" width="3" height="1"/>
<rect x="773" y="29" width="1" height="1"/><rect x="772" y="30" width="2" height="1"/><rect x="773" y="31" width="1" height="1"/><rect x="773" y="32" width="1" height="1"/><rect x="773" y="33" width="1" height="1"/><rect x="773" y="34" width="1" height="1"/><rect x="773" y="35" width="1" height="1"/><rect x="777" y="29" width="3" height="1"/><rect x="776" y="30" width="1" height="1"/><rect x="780" y="30" width="1" height="1"/><rect x="776" y="31" width="1" height="1"/><rect x="780" y="31" width="1" height="1"/><rect x="776" y="32" width="1" height="1"/><rect x="780" y="32" width="1" height="1"/><rect x="776" y="33" width="1" height="1"/><rect x="780" y="33" width="1" height="1"/><rect x="776" y="34" width="1" height="1"/><rect x="780" y="34" width="1" height="1"/><rect x="777" y="35" width="3" height="1"/><rect x="783" y="29" width="3" height="1"/><rect x="782" y="30" width="1" height="1"/><rect x="786" y="30" width="1" height="1"/><rect x="782" y="31" width="1" height="1"/><rect x="786" y="31" width="1" height="1"/><rect x="782" y="32" width="1" height="1"/><rect x="786" y="32" width="1" height="1"/><rect x="782" y="33" width="1" height="1"/><rect x="786" y="33" width="1" height="1"/><rect x="782" y="34" width="1" height="1"/><rect x="786" y="34" width="1" height="1"/><rect x="783" y="35" width="3" height="1"/>
<rect x="771" y="61" width="4" height="1"/><rect x="771" y="62" width="1" height="1"/><rect x="770" y="63" width="4" height="1"/><rect x="774" y="64" width="1" height="1"/><rect x="774" y="65" width="1" height="1"/><rect x="770" y="66" width="1" height="1"/><rect x="774" y="66" width="1" height="1"/><rect x="771" y="67" width="3" height="1"/><rect x="777" y="61" width="3" height="1"/><rect x="776" y="62" width="1" height="1"/><rect x="780" y="62" width="1" height="1"/><rect x="776" y="63" width="1" height="1"/><rect x="780" y="63" width="1" height="1"/><rect x="776" y="64" width="1" height="1"/><rect x="780" y="64" width="1" height="1"/><rect x="776" y="65" width="1" height="1"/><rect x="780" y="65" width="1" height="1"/><rect x="776" y="66" width="1" height="1"/><rect x="780" y="66" width="1" height="1"/><rect x="777" y="67" width="3" height="1"/>
<rect x="774" y="93" width="3" height="1"/><rect x="773" y="94" width="1" height="1"/><rect x="777" y="94" width="1" height="1"/><rect x="773" y="95" width="1" height="1"/><rect x="777" y="95" width="1" height="1"/><rect x="773" y="96" width="1" height="1"/><rect x="777" y="96" width="1" height="1"/><rect x="773" y="97" width="1" height="1"/><rect x="777" y="97" width="1" height="1"/><rect x="773" y="98" width="1" height="1"/><rect x="777" y="98" width="1" height="1"/><rect x="774" y="99" width="3" height="1"/>
<rect x="770" y="129" width="2" height="1"/><rect x="774" y="125" width="4" height="1"/><rect x="774" y="126" width="1" height="1"/><rect x="773" y="127" width="4" height="1"/><rect x="777" y="128" width="1" height="1"/><rect x="777" y="129" width="1" height="1"/><rect x="773" y="130" width="1" height="1"/><rect x="777" y="130" width="1" height="1"/><rect x="774" y="131" width="3" height="1"/><rect x="780" y="125" width="3" height="1"/><rect x="779" y="126" width="1" height="1"/><rect x="783" y="126" width="1" height="1"/><rect x="779" y="127" width="1" height="1"/><rect x="783" y="127" width="1" height="1"/><rect x="779" y="128" width="1" height="1"/><rect x="783" y="128" width="1" height="1"/><rect x="779" y="129" width="1" height="1"/><rect x="783" y="129" width="1" height="1"/><rect x="779" y="130" width="1" height="1"/><rect x="783" y="130" width="1" height="1"/><rect x="780" y="131" width="3" height="1"/>
<rect x="771" y="170" width="4" height="1"/><rect x="771" y="171" width="1" height="1"/><rect x="770" y="172" width="4" height="1"/><rect x="774" y="173" width="1" height="1"/><rect x="774" y="174" width="1" height="1"/><rect x="770" y="175" width="1" height="1"/><rect x="774" y="175" width="1" height="1"/><rect x="771" y="176" width="3" height="1"/><rect x="777" y="176" width="1" height="1"/><rect x="780" y="170" width="3" height="1"/><rect x="779" y="171" width="1" height="1"/><rect x="783" y="171" width="1" height="1"/><rect x="779" y="172" width="1" height="1"/><rect x="783" y="172" width="1" height="1"/><rect x="779" y="173" width="1" height="1"/><rect x="783" y="173" width="1" height="1"/><rect x="779" y="174" width="1" height="1"/><rect x="783" y="174" width="1" height="1"/><rect x="779" y="175" width="1" height="1"/><rect x="783" y="175" width="1" height="1"/><rect x="780" y="176" width="3" height="1"/>
<rect x="771" y="194" width="3" height="1"/><rect x="770" y="195" width="1" height="1"/><rect x="774" y="195" width="1" height="1"/><rect x="774" y="196" width="1" height="1"/><rect x="773" y="197" width="1" height="1"/><rect x="772" y="198" width="1" height="1"/><rect x="771" y="199" width="1" height="1"/><rect x="770" y="200" width="5" height="1"/><rect x="777" y="200" width="1" height="1"/><rect x="780" y="194" width="4" height="1"/><rect x="780" y="195" width="1" height="1"/><rect x="779" y="196" width="4" height="1"/><rect x="783" y="197" width="1" height="1"/><rect x="783" y="198" width="1" height="1"/><rect x="779" y="199" width="1" height="1"/><rect x="783" y="199" width="1" height="1"/><rect x="780" y="200" width="3" height="1"/>
<rect x="774" y="219" width="3" height="1"/><rect x="773" y="220" width="1" height="1"/><rect x="777" y="220" width="1" height="1"/><rect x="773" y="221" width="1" height="1"/><rect x="777" y="221" width="1" height="1"/><rect x="773" y="222" width="1" height="1"/><rect x="777" y="222" width="1" height="1"/><rect x="773" y="223" width="1" height="1"/><rect x="777" y="223" width="1" height="1"/><rect x="773" y="224" width="1" height="1"/><rect x="777" y="224" width="1" height="1"/><rect x="774" y="225" width="3" height="1"/>
<rect x="770" y="247" width="2" height="1"/><rect x="774" y="243" width="3" height="1"/><rect x="773" y="244" width="1" height="1"/><rect x="777" y="244" width="1" height="1"/><rect x="777" y="245" width="1" height="1"/><rect x="776" y="246" width="1" height="1"/><rect x="775" y="247" width="1" height="1"/><rect x="774" y="248" width="1" height="1"/><rect x="773" y="249" width="5" height="1"/><rect x="780" y="249" width="1" height="1"/><rect x="783" y="243" width="4" height="1"/><rect x="783" y="244" width="1" height="1"/><rect x="782" y="245" width="4" height="1"/><rect x="786" y="246" width="1" height="1"/><rect x="786" y="247" width="1" height="1"/><rect x="782" y="248" width="1" height="1"/><rect x="786" y="248" width="1" height="1"/><rect x="783" y="249" width="3" height="1"/>
<rect x="770" y="271" width="2" height="1"/><rect x="774" y="267" width="4" height="1"/><rect x="774" y="268" width="1" height="1"/><rect x="773" y="269" width="4" height="1"/><rect x="777" y="270" width="1" height="1"/><rect x="777" y="271" width="1" height="1"/><rect x="773" y="272" width="1" height="1"/><rect x="777" y="272" width="1" height="1"/><rect x="774" y="273" width="3" height="1"/><rect x="780" y="273" width="1" height="1"/><rect x="783" y="267" width="3" height="1"/><rect x="782" y="268" width="1" height="1"/><rect x="786" y="268" width="1" height="1"/><rect x="782" y="269" width="1" height="1"/><rect x="786" y="269" width="1" height="1"/><rect x="782" y="270" width="1" height="1"/><rect x="786" y="270" width="1" height="1"/><rect x="782" y="271" width="1" height="1"/><rect x="786" y="271" width="1" height="1"/><rect x="782" y="272" width="1" height="1"/><rect x="786" y="272" width="1" height="1"/><rect x="783" y="273" width="3" height="1"/>
<rect x="771" y="317" width="3" height="1"/><rect x="770" y="318" width="1" height="1"/><rect x="774" y="318" width="1" height="1"/><rect x="770" y="319" width="1" height="1"/><rect x="774" y="319" width="1" height="1"/><rect x="771" y="320" width="3" height="1"/><rect x="770" y="321" width="1" height="1"/><rect x="774" y="321" width="1" height="1"/><rect x="770" y="322" width="1" height="1"/><rect x="774" y="322" width="1" height="1"/><rect x="771" y="323" width="3" height="1"/><rect x="777" y="317" width="3" height="1"/><rect x="776" y="318" width="1" height="1"/><rect x="780" y="318" width="1" height="1"/><rect x="776" y="319" width="1" height="1"/><rect x="780" y="319" width="1" height="1"/><rect x="776" y="320" width="1" height="1"/><rect x="780" y="320" width="1" height="1"/><rect x="776" y="321" width="1" height="1"/><rect x="780" y="321" width="1" height="1"/><rect x="776" y="322" width="1" height="1"/><rect x="780" y="322" width="1" height="1"/><rect x="777" y="323" width="3" height="1"/><rect x="783" y="317" width="3" height="1"/><rect x="782" y="318" width="1" height="1"/><rect x="786" y="318" width="1" height="1"/><rect x="782" y="319" width="1" height="1"/><rect x="786" y="319" width="1" height="1"/><rect x="782" y="320" width="1" height="1"/><rect x="786" y="320" width="1" height="1"/><rect x="782" y="321" width="1" height="1"/><rect x="786" y="321" width="1" height="1"/><rect x="782" y="322" width="1" height="1"/><rect x="786" y="322" width="1" height="1"/><rect x="783" y="323" width="3" height="1"/><rect x="789" y="317" width="3" height="1"/><rect x="788" y="318" width="1" height="1"/><rect x="792" y="318" width="1" height="1"/><rect x="788" y="319" width="1" height="1"/><rect x="792" y="319" width="1" height="1"/><rect x="788" y="320" width="1" height="1"/><rect x="792" y="320" width="1" height="1"/><rect x="788" y="321" width="1" height="1"/><rect x="792" y="321" width="1" height="1"/><rect x="788" y="322" width="1" height="1"/><rect x="792" y="322" width="1" height="1"/><rect x="789" y="323" width="3" height="1"/>
<rect x="770" y="369" width="5" height="1"/><rect x="774" y="370" width="1" height="1"/><rect x="773" y="371" width="1" height="1"/><rect x="773" y="372" width="1" height="1"/><rect x="772" y="373" width="1" height="1"/><rect x="772" y="374" width="1" height="1"/><rect x="771" y="375" width="1" height="1"/><rect x="776" y="369" width="5" height="1"/><rect x="780" y="370" width="1" height="1"/><rect x="779" y="371" width="1" height="1"/><rect x="779" y="372" width="1" height="1"/><rect x="778" y="373" width="1" height="1"/><rect x="778" y="374" width="1" height="1"/><rect x="777" y="375" width="1" height="1"/><rect x="783" y="369" width="4" height="1"/><rect x="783" y="370" width="1" height="1"/><rect x="782" y="371" width="4" height="1"/><rect x="786" y="372" width="1" height="1"/><rect x="786" y="373" width="1" height="1"/><rect x="782" y="374" width="1" height="1"/><rect x="786" y="374" width="1" height="1"/><rect x="783" y="375" width="3" height="1"/><rect x="789" y="369" width="3" height="1"/><rect x="788" y="370" width="1" height="1"/><rect x="792" y="370" width="1" height="1"/><rect x="788" y="371" width="1" height="1"/><rect x="792" y="371" width="1" height="1"/><rect x="788" y="372" width="1" height="1"/><rect x="792" y="372" width="1" height="1"/><rect x="788" y="373" width="1" height="1"/><rect x="792" y="373" width="1" height="1"/><rect x="788" y="374" width="1" height="1"/><rect x="792" y="374" width="1" height="1"/><rect x="789" y="375" width="3" height="1"/>
<rect x="770" y="423" width="5" height="1"/><rect x="774" y="424" width="1" height="1"/><rect x="773" y="425" width="1" height="1"/><rect x="773" y="426" width="1" height="1"/><rect x="772" y="427" width="1" height="1"/><rect x="772" y="428" width="1" height="1"/><rect x="771" y="429" width="1" height="1"/><rect x="777" y="423" width="4" height="1"/><rect x="777" y="424" width="1" height="1"/><rect x="776" y="425" width="4" height="1"/><rect x="780" y="426" width="1" height="1"/><rect x="780" y="427" width="1" height="1"/><rect x="776" y="428" width="1" height="1"/><rect x="780" y="428" width="1" height="1"/><rect x="777" y="429" width="3" height="1"/><rect x="783" y="423" width="3" height="1"/><rect x="782" y="424" width="1" height="1"/><rect x="786" y="424" width="1" height="1"/><rect x="782" y="425" width="1" height="1"/><rect x="786" y="425" width="1" height="1"/><rect x="782" y="426" width="1" height="1"/><rect x="786" y="426" width="1" height="1"/><rect x="782" y="427" width="1" height="1"/><rect x="786" y="427" width="1" height="1"/><rect x="782" y="428" width="1" height="1"/><rect x="786" y="428" width="1" height="1"/><rect x="783" y="429" width="3" height="1"/><rect x="789" y="423" width="3" height="1"/><rect x="788" y="424" width="1" height="1"/><rect x="792" y="424" width="1" height="1"/><rect x="788" y="425" width="1" height="1"/><rect x="792" y="425" width="1" height="1"/><rect x="788" y="426" width="1" height="1"/><rect x="792" y="426" width="1" height="1"/><rect x="788" y="427" width="1" height="1"/><rect x="792" y="427" width="1" height="1"/><rect x="788" y="428" width="1" height="1"/><rect x="792" y="428" width="1" height="1"/><rect x="789" y="429" width="3" height="1"/>
<rect x="770" y="479" width="5" height="1"/><rect x="774" y="480" width="1" height="1"/><rect x="773" y="481" width="1" height="1"/><rect x="773" y="482" width="1" height="1"/><rect x="772" y="483" width="1" height="1"/><rect x="772" y="484" width="1" height="1"/><rect x="771" y="485" width="1" height="1"/><rect x="777" y="479" width="3" height="1"/><rect x="776" y="480" width="1" height="1"/><rect x="780" y="480" width="1" height="1"/><rect x="780" y="481" width="1" height="1"/><rect x="779" y="482" width="1" height="1"/><rect x="778" y="483" width="1" height="1"/><rect x="777" y="484" width="1" height="1"/><rect x="776" y="485" width="5" height="1"/><rect x="783" y="479" width="4" height="1"/><rect x="783" y="480" width="1" height="1"/><rect x="782" y="481" width="4" height="1"/><rect x="786" y="482" width="1" height="1"/><rect x="786" y="483" width="1" height="1"/><rect x="782" y="484" width="1" height="1"/><rect x="786" y="484" width="1" height="1"/><rect x="783" y="485" width="3" height="1"/><rect x="789" y="479" width="3" height="1"/><rect x="788" y="480" width="1" height="1"/><rect x="792" y="480" width="1" height="1"/><rect x="788" y="481" width="1" height="1"/><rect x="792" y="481" width="1" height="1"/><rect x="788" y="482" width="1" height="1"/><rect x="792" y="482" width="1" height="1"/><rect x="788" y="483" width="1" height="1"/><rect x="792" y="483" width="1" height="1"/><rect x="788" y="484" width="1" height="1"/><rect x="792" y="484" width="1" height="1"/><rect x="789" y="485" width="3" height="1"/>
<rect x="770" y="537" width="5" height="1"/><rect x="774" y="538" width="1" height="1"/><rect x="773" y="539" width="1" height="1"/><rect x="773" y="540" width="1" height="1"/><rect x="772" y="541" width="1" height="1"/><rect x="772" y="542" width="1" height="1"/><rect x="771" y="543" width="1" height="1"/><rect x="777" y="537" width="3" height="1"/><rect x="776" y="538" width="1" height="1"/><rect x="780" y="538" width="1" height="1"/><rect x="776" y="539" width="1" height="1"/><rect x="780" y="539" width="1" height="1"/><rect x="776" y="540" width="1" height="1"/><rect x="780" y="540" width="1" height="1"/><rect x="776" y="541" width="1" height="1"/><rect x="780" y="541" width="1" height="1"/><rect x="776" y="542" width="1" height="1"/><rect x="780" y="542" width="1" height="1"/><rect x="777" y="543" width="3" height="1"/><rect x="783" y="537" width="3" height="1"/><rect x="782" y="538" width="1" height="1"/><rect x="786" y="538" width="1" height="1"/><rect x="782" y="539" width="1" height="1"/><rect x="786" y="539" width="1" height="1"/><rect x="782" y="540" width="1" height="1"/><rect x="786" y="540" width="1" height="1"/><rect x="782" y="541" width="1" height="1"/><rect x="786" y="541" width="1" height="1"/><rect x="782" y="542" width="1" height="1"/><rect x="786" y="542" width="1" height="1"/><rect x="783" y="543" width="3" height="1"/><rect x="789" y="537" width="3" height="1"/><rect x="788" y="538" width="1" height="1"/><rect x="792" y="538" width="1" height="1"/><rect x="788" y="539" width="1" height="1"/><rect x="792" y="539" width="1" height="1"/><rect x="788" y="540" width="1" height="1"/><rect x="792" y="540" width="1" height="1"/><rect x="788" y="541" width="1" height="1"/><rect x="792" y="541" width="1" height="1"/><rect x="788" y="542" width="1" height="1"/><rect x="792" y="542" width="1" height="1"/><rect x="789" y="543" width="3" height="1"/>
<rect x="771" y="597" width="3" height="1"/><rect x="770" y="598" width="1" height="1"/><rect x="770" y="599" width="1" height="1"/><rect x="770" y="600" width="4" height="1"/><rect x="770" y="601" width="1" height="1"/><rect x="774" y="601" width="1" height="1"/><rect x="770" y="602" width="1" height="1"/><rect x="774" y="602" width="1" height="1"/><rect x="771" y="603" width="3" height="1"/><rect x="776" y="597" width="5" height="1"/><rect x="780" y="598" width="1" height="1"/><rect x="779" y="599" width="1" height="1"/><rect x="779" y="600" width="1" height="1"/><rect x="778" y="601" width="1" height="1"/><rect x="778" y="602" width="1" height="1"/><rect x="777" y="603" width="1" height="1"/><rect x="783" y="597" width="4" height="1"/><rect x="783" y="598" width="1" height="1"/><rect x="782" y="599" width="4" height="1"/><rect x="786" y="600" width="1" height="1"/><rect x="786" y="601" width="1" height="1"/><rect x="782" y="602" width="1" height="1"/><rect x="786" y="602" width="1" height="1"/><rect x="783" y="603" width="3" height="1"/><rect x="789" y="597" width="3" height="1"/><rect x="788" y="598" width="1" height="1"/><rect x="792" y="598" width="1" height="1"/><rect x="788" y="599" width="1" height="1"/><rect x="792" y="599" width="1" height="1"/><rect x="788" y="600" width="1" height="1"/><rect x="792" y="600" width="1" height="1"/><rect x="788" y="601" width="1" height="1"/><rect x="792" y="601" width="1" height="1"/><rect x="788" y="602" width="1" height="1"/><rect x="792" y="602" width="1" height="1"/><rect x="789" y="603" width="3" height="1"/>
<rect x="771" y="660" width="3" height="1"/><rect x="770" y="661" width="1" height="1"/><rect x="770" y="662" width="1" height="1"/><rect x="770" y="663" width="4" height="1"/><rect x="770" y="664" width="1" height="1"/><rect x="774" y="664" width="1" height="1"/><rect x="770" y="665" width="1" height="1"/><rect x="774" y="665" width="1" height="1"/><rect x="771" y="666" width="3" height="1"/><rect x="777" y="660" width="4" height="1"/><rect x="777" y="661" width="1" height="1"/><rect x="776" y="662" width="4" height="1"/><rect x="780" y="663" width="1" height="1"/><rect x="780" y="664" width="1" height="1"/><rect x="776" y="665" width="1" height="1"/><rect x="780" y="665" width="1" height="1"/><rect x="777" y="666" width="3" height="1"/><rect x="783" y="660" width="3" height="1"/><rect x="782" y="661" width="1" height="1"/><rect x="786" y="661" width="1" height="1"/><rect x="782" y="662" width="1" height="1"/><rect x="786" y="662" width="1" height="1"/><rect x="782" y="663" width="1" height="1"/><rect x="786" y="663" width="1" height="1"/><rect x="782" y="664" width="1" height="1"/><rect x="786" y="664" width="1" height="1"/><rect x="782" y="665" width="1" height="1"/><rect x="786" y="665" width="1" height="1"/><rect x="783" y="666" width="3" height="1"/><rect x="789" y="660" width="3" height="1"/><rect x="788" y="661" width="1" height="1"/><rect x="792" y="661" width="1" height="1"/><rect x="788" y="662" width="1" height="1"/><rect x="792" y="662" width="1" height="1"/><rect x="788" y="663" width="1" height="1"/><rect x="792" y="663" width="1" height="1"/><rect x="788" y="664" width="1" height="1"/><rect x="792" y="664" width="1" height="1"/><rect x="788" y="665" width="1" height="1"/><rect x="792" y="665" width="1" height="1"/><rect x="789" y="666" width="3" height="1"/>
<rect x="771" y="701" width="3" height="1"/><rect x="770" y="702" width="1" height="1"/><rect x="774" y="702" width="1" height="1"/><rect x="774" y="703" width="1" height="1"/><rect x="773" y="704" width="1" height="1"/><rect x="772" y="705" width="1" height="1"/><rect x="771" y="706" width="1" height="1"/><rect x="770" y="707" width="5" height="1"/><rect x="777" y="707" width="1" height="1"/><rect x="780" y="701" width="3" height="1"/><rect x="779" y="702" width="1" height="1"/><rect x="783" y="702" width="1" height="1"/><rect x="779" y="703" width="1" height="1"/><rect x="783" y="703" width="1" height="1"/><rect x="779" y="704" width="1" height="1"/><rect x="783" y="704" width="1" height="1"/><rect x="779" y="705" width="1" height="1"/><rect x="783" y="705" width="1" height="1"/><rect x="779" y="706" width="1" height="1"/><rect x="783" y="706" width="1" height="1"/><rect x="780" y="707" width="3" height="1"/><rect x="786" y="701" width="4" height="1"/><rect x="786" y="702" width="1" height="1"/><rect x="790" y="702" width="1" height="1"/><rect x="786" y="703" width="1" height="1"/><rect x="790" y="703" width="1" height="1"/><rect x="786" y="704" width="4" height="1"/><rect x="786" y="705" width="1" height="1"/><rect x="790" y="705" width="1" height="1"/><rect x="786" y="706" width="1" height="1"/><rect x="790" y="706" width="1" height="1"/><rect x="786" y="707" width="4" height="1"/>
<rect x="773" y="725" width="1" height="1"/><rect x="772" y="726" width="2" height="1"/><rect x="773" y="727" width="1" height="1"/><rect x="773" y="728" width="1" height="1"/><rect x="773" y="729" width="1" height="1"/><rect x="773" y="730" width="1" height="1"/><rect x="773" y="731" width="1" height="1"/><rect x="777" y="731" width="1" height="1"/><rect x="780" y="725" width="4" height="1"/><rect x="780" y="726" width="1" height="1"/><rect x="779" y="727" width="4" height="1"/><rect x="783" y="728" width="1" height="1"/><rect x="783" y="729" width="1" height="1"/><rect x="779" y="730" width="1" height="1"/><rect x="783" y="730" width="1" height="1"/><rect x="780" y="731" width="3" height="1"/><rect x="786" y="725" width="4" height="1"/><rect x="786" y="726" width="1" height="1"/><rect x="790" y="726" width="1" height="1"/><rect x="786" y="727" width="1" height="1"/><rect x="790" y="727" width="1" height="1"/><rect x="786" y="728" width="4" height="1"/><rect x="786" y="729" width="1" height="1"/><rect x="790" y="729" width="1" height="1"/><rect x="786" y="730" width="1" height="1"/><rect x="790" y="730" width="1" height="1"/><rect x="786" y="731" width="4" height="1"/>
<rect x="773" y="749" width="1" height="1"/><rect x="772" y="750" width="2" height="1"/><rect x="773" y="751" width="1" height="1"/><rect x="773" y="752" width="1" height="1"/><rect x="773" y="753" width="1" height="1"/><rect x="773" y="754" width="1" height="1"/><rect x="773" y="755" width="1" height="1"/><rect x="777" y="755" width="1" height="1"/><rect x="780" y="749" width="3" height="1"/><rect x="779" y="750" width="1" height="1"/><rect x="783" y="750" width="1" height="1"/><rect x="779" y="751" width="1" height="1"/><rect x="783" y="751" width="1" height="1"/><rect x="779" y="752" width="1" height="1"/><rect x="783" y="752" width="1" height="1"/><rect x="779" y="753" width="1" height="1"/><rect x="783" y="753" width="1" height="1"/><rect x="779" y="754" width="1" height="1"/><rect x="783" y="754" width="1" height="1"/><rect x="780" y="755" width="3" height="1"/><rect x="786" y="749" width="4" height="1"/><rect x="786" y="750" width="1" height="1"/><rect x="790" y="750" width="1" height="1"/><rect x="786" y="751" width="1" height="1"/><rect x="790" y="751" width="1" height="1"/><rect x="786" y="752" width="4" height="1"/><rect x="786" y="753" width="1" height="1"/><rect x="790" y="753" width="1" height="1"/><rect x="786" y="754" width="1" height="1"/><rect x="790" y="754" width="1" height="1"/><rect x="786" y="755" width="4" height="1"/>
<rect x="771" y="773" width="4" height="1"/><rect x="771" y="774" width="1" height="1"/><rect x="770" y="775" width="4" height="1"/><rect x="774" y="776" width="1" height="1"/><rect x="774" y="777" width="1" height="1"/><rect x="770" y="778" width="1" height="1"/><rect x="774" y="778" width="1" height="1"/><rect x="771" y="779" width="3" height="1"/><rect x="777" y="773" width="3" height="1"/><rect x="776" y="774" width="1" height="1"/><rect x="780" y="774" width="1" height="1"/><rect x="776" y="775" width="1" height="1"/><rect x="780" y="775" width="1" height="1"/><rect x="776" y="776" width="1" height="1"/><rect x="780" y="776" width="1" height="1"/><rect x="776" y="777" width="1" height="1"/><rect x="780" y="777" width="1" height="1"/><rect x="776" y="778" width="1" height="1"/><rect x="780" y="778" width="1" height="1"/><rect x="777" y="779" width="3" height="1"/><rect x="783" y="773" width="3" height="1"/><rect x="782" y="774" width="1" height="1"/><rect x="786" y="774" width="1" height="1"/><rect x="782" y="775" width="1" height="1"/><rect x="786" y="775" width="1" height="1"/><rect x="782" y="776" width="1" height="1"/><rect x="786" y="776" width="1" height="1"/><rect x="782" y="777" width="1" height="1"/><rect x="786" y="777" width="1" height="1"/><rect x="782" y="778" width="1" height="1"/><rect x="786" y="778" width="1" height="1"/><rect x="783" y="779" width="3" height="1"/><rect x="789" y="773" width="1" height="1"/><rect x="795" y="773" width="1" height="1"/><rect x="789" y="774" width="2" height="1"/><rect x="794" y="774" width="2" height="1"/><rect x="789" y="775" width="2" height="1"/><rect x="794" y="775" width="2" height="1"/><rect x="789" y="776" width="1" height="1"/><rect x="791" y="776" width="1" height="1"/><rect x="793" y="776" width="1" height="1"/><rect x="795" y="776" width="1" height="1"/><rect x="789" y="777" width="1" height="1"/><rect x="791" y="777" width="1" height="1"/><rect x="793" y="777" width="1" height="1"/><rect x="795" y="777" width="1" height="1"/><rect x="789" y="778" width="1" height="1"/><rect x="792" y="778" width="1" height="1"/><rect x="795" y="778" width="1" height="1"/><rect x="789" y="779" width="1" height="1"/><rect x="792" y="779" width="1" height="1"/><rect x="795" y="779" width="1" height="1"/>
<rect x="770" y="838" width="5" height="1"/><rect x="777" y="838" width="4" height="1"/>
</g>
<g shape-rendering="crispEdges">
<rect x="804" y="0" width="17" height="839" fill="url(#dz)"/>
<rect x="804" y="-1" width="16" height="16" fill="#d4d0c8"/><rect x="805" y="0" width="14" height="1" fill="#fff"/><rect x="805" y="0" width="1" height="14" fill="#fff"/><rect x="818" y="0" width="1" height="14" fill="#808080"/><rect x="805" y="13" width="14" height="1" fill="#808080"/><rect x="819" y="-1" width="1" height="16" fill="#404040"/><rect x="804" y="14" width="16" height="1" fill="#404040"/>
<rect x="804" y="118" width="16" height="195" fill="#d4d0c8"/><rect x="805" y="119" width="14" height="1" fill="#fff"/><rect x="805" y="119" width="1" height="193" fill="#fff"/><rect x="818" y="119" width="1" height="193" fill="#808080"/><rect x="805" y="311" width="14" height="1" fill="#808080"/><rect x="819" y="118" width="1" height="195" fill="#404040"/><rect x="804" y="312" width="16" height="1" fill="#404040"/>
<rect x="804" y="828" width="16" height="16" fill="#d4d0c8"/><rect x="805" y="829" width="14" height="1" fill="#fff"/><rect x="805" y="829" width="1" height="14" fill="#fff"/><rect x="818" y="829" width="1" height="14" fill="#808080"/><rect x="805" y="842" width="14" height="1" fill="#808080"/><rect x="819" y="828" width="1" height="16" fill="#404040"/><rect x="804" y="843" width="16" height="1" fill="#404040"/>
<rect x="811" y="5" width="1" height="1" fill="#000"/>
<rect x="808" y="834" width="7" height="1" fill="#000"/>
<rect x="810" y="6" width="3" height="1" fill="#000"/>
<rect x="809" y="835" width="5" height="1" fill="#000"/>
<rect x="809" y="7" width="5" height="1" fill="#000"/>
<rect x="810" y="836" width="3" height="1" fill="#000"/>
<rect x="808" y="8" width="7" height="1" fill="#000"/>
<rect x="811" y="837" width="1" height="1" fill="#000"/>
<rect x="821" y="0" width="1" height="839" fill="#fff"/><rect x="822" y="0" width="2" height="839" fill="#d4d0c8"/><rect x="824" y="0" width="1" height="839" fill="#808080"/><rect x="825" y="0" width="1" height="839" fill="#404040"/>
</g>
</svg></body></html>
